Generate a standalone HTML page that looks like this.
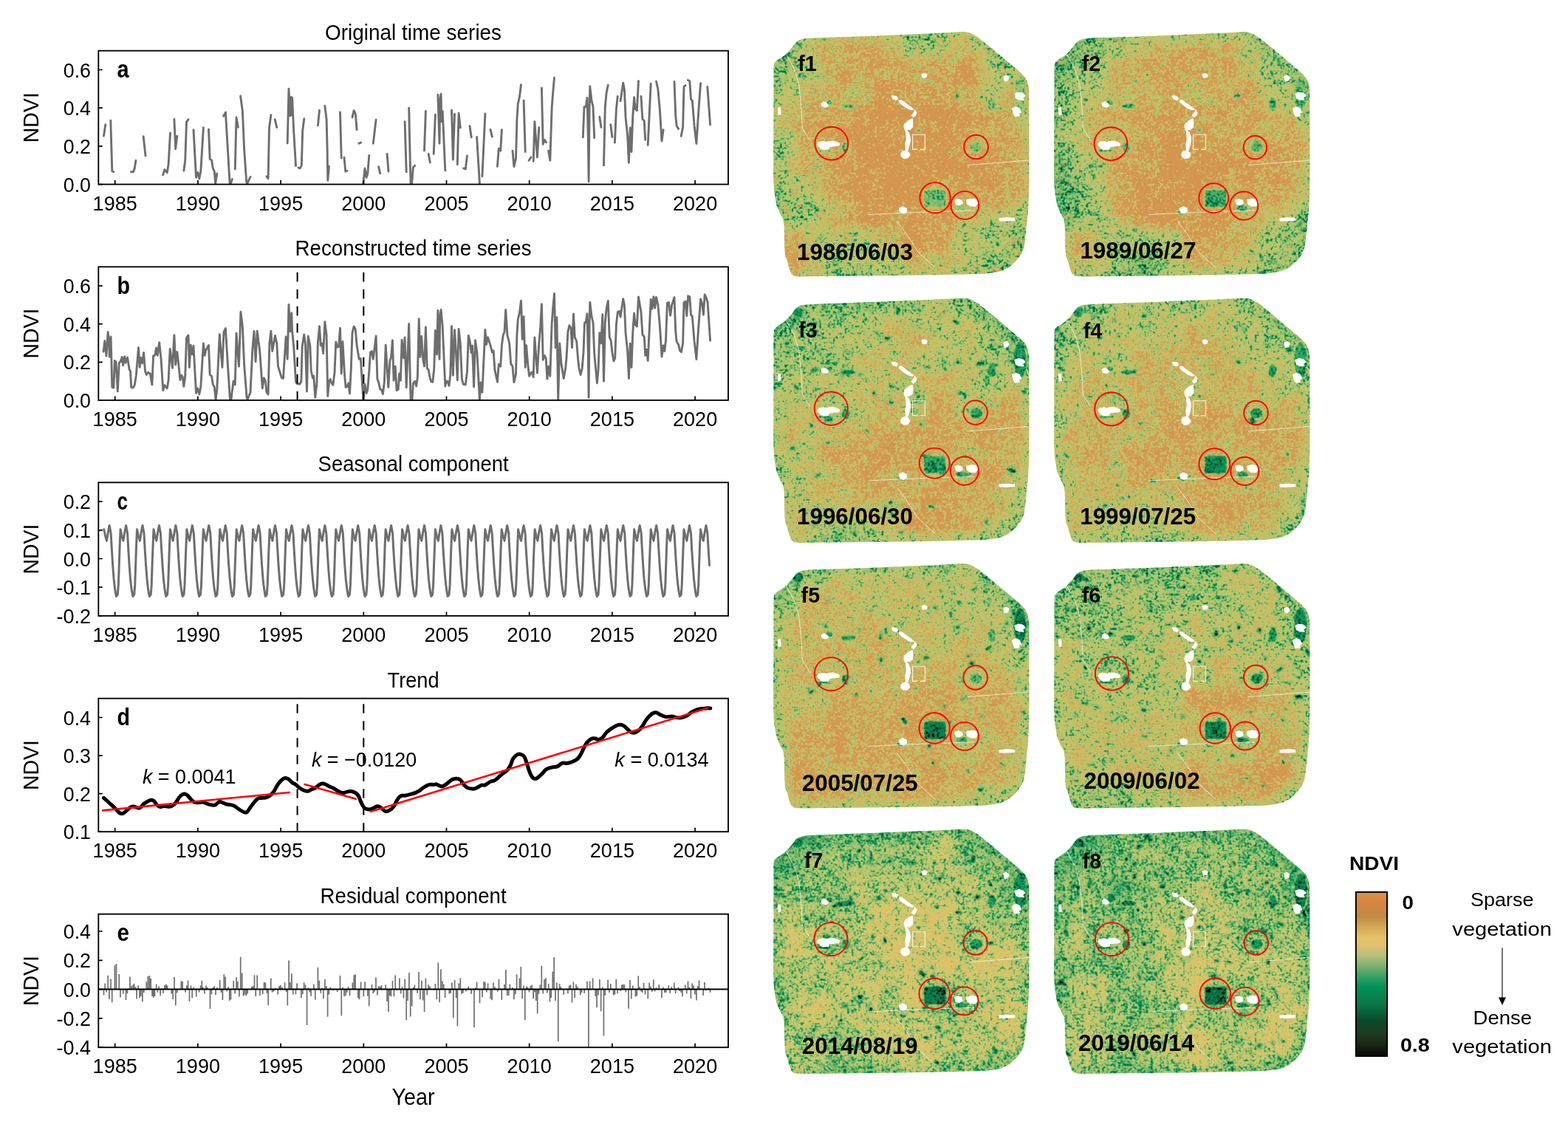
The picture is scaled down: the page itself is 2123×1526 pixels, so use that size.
<!DOCTYPE html>
<html lang="en"><head><meta charset="utf-8"><title>NDVI time series decomposition</title>
<style>html,body{margin:0;padding:0;background:#fff;overflow:hidden}svg{display:block}</style></head>
<body>
<svg xmlns="http://www.w3.org/2000/svg" width="2123" height="1526" viewBox="0 0 2123 1526" font-family="'Liberation Sans', sans-serif">
<rect width="2123" height="1526" fill="#fff"/>
<g>
<path d="M140.5 184.1L142.8 168.8M149.8 163.2L151.8 231.7L153.9 232.7M177.5 232.7L180.5 232.7L182.2 228.2L183.9 217.3M194.2 184.8L197 210.9M220.6 236.9L222.9 229.6L226.3 233.8L228.1 222.5L230.5 180.1M235.9 161.5L237.7 201.7L239.8 184.1M248.9 231L250.7 217.6L252.5 165.3L255 161.7M262 175.6L265.5 240.2L267.7 233.5L269.8 242L271.9 231L275.4 172.8M282.5 175.2L284.2 215.4L286.7 217.1L288.2 227.5L290.3 232.4L291.7 248.6L293.8 234.9M302.6 157.2L305.4 152.1L308.6 205.5L311.1 248.6L312.5 248.6L314.4 242.6M318.3 228.9L320 158.9L322.4 172.3M325.6 129.9L328.4 150.4L330.6 201.3L333.7 246.5L334.8 248.6L339 239.5M360.9 238.8L363.1 241.6L364.5 173L366.9 155.7M372.2 161.7L374.8 172.6M389.2 194L391 120.1L392.7 156.8L394.4 131.4L395.3 156.1L395.6 132.1L397.7 177.3L400.5 224.6M404 227L406.2 227.9L408.3 223.9L409.7 177.3L411.8 160.8M430.4 169.8L432.5 149.4M439.8 143.4L442.1 161.7L443.1 201.3L443.8 244.4L445.5 225.3M460.5 151.9L462.2 214M466 213.3L467.8 232.1L469.9 231.4M477 158.9L479.1 149.7L481.3 154L483.1 175.6M485.9 194.2L488.7 193.1M491.9 247.9L494 227.9L496.1 240.2L497.8 235.2L499.8 210.5M505.3 194.2L509.1 162.2M512.6 225.6L514.7 234.9M524.1 208.4L526 232.1M548.1 164.6L550.2 232.7M553.7 146.2L555.2 215.4L556.1 248.6L557.6 248.6L559.4 226.7L561.8 224.2M574.5 203.9L576.4 150.4M580.2 208.4L582.3 220M587.2 208.4L589.4 155.1M592.9 128.3L595 194.2L595.7 136.3L597.1 127.1L597.8 164.6L599.2 150.4L602.8 231M611.5 149.3L613.4 216.1L615.5 154.4M619.3 222.8L621.1 153.3L623.3 172.8M627.8 227.9L630.3 228.9L632.5 210.9M636 170.6L638.2 185.8M645.6 185.5L649.4 248.6M652.9 238.8L656.9 154M664 175.4L666.4 185.1M673.4 225.3L675.3 201.3L677.7 204.1L679.4 175.6M694 204.1L695.9 225.6L698.5 214.7L699.9 161.7L701.3 140.5L703.4 131.4L705.5 114.8M709.1 136.3L711.2 205.5M716.1 217.3L719 212.9M722.2 218.3L723.9 164.6L727.4 212.9L729.8 172.6M733.4 119.3L735.2 195.4L737.3 189.3L739.5 192.8M742.6 204.1L744.8 217.3L747.2 144.8L748.6 126.4L750.5 105.2M789.3 185.8L791 144.8L793.2 144.5L795 132.4L796.3 187.2L797.1 245.8L798.1 144.8L798.8 116.8L800.9 135.6L803 144.8L804.7 186.8M811.8 158.2L813.9 172.3M817.5 223.9L819.3 144.8L821.1 125.7L823.3 115.1M826.8 168.8L828.9 185.5M832.4 193.1L834.4 147.6L836.3 130.4M840.1 136.7L843.7 112.3L845.4 120.8L847.1 158.9L849.7 184.4L851.4 220.4L853.2 173L855 205.5L856.7 158.9L858.6 131.8L860.3 147.6L862.4 149.7L864.5 109.7M868 130.4L869.9 161L872.3 163.9L873.7 189.3M877.2 196.4L879.4 150.4L881.2 113.3M888.5 110.2L890.9 120.8L893.5 150.4L896 191L898.1 175.6M913 110.4L914.7 156.1L916.1 170.2L918.6 174.5M922.2 184.4L924.6 172.3L926 117.2L928.1 115.8M931.4 108.5L933.8 109.7L935.5 134.2L937.3 136.3L940.1 170.2L942.9 194.5L945.8 150.4L948.6 112.7M957.8 117.5L961.6 168.8" fill="none" stroke="#6e6e6e" stroke-width="2.9" stroke-linejoin="round" stroke-linecap="round"/>
<rect x="133.3" y="68.7" width="852.7" height="180.9" fill="none" stroke="#000" stroke-width="1.85"/>
<path d="M155.7 249.6v-5.5M267.9 249.6v-5.5M380.1 249.6v-5.5M492.3 249.6v-5.5M604.5 249.6v-5.5M716.7 249.6v-5.5M828.9 249.6v-5.5M941.1 249.6v-5.5M133.3 249.6h5.5M133.3 197.9h5.5M133.3 146.2h5.5M133.3 94.5h5.5" stroke="#000" stroke-width="1.7" fill="none"/>
<text x="155.7" y="284.8" font-size="28.4" text-anchor="middle" textLength="60.2" lengthAdjust="spacingAndGlyphs">1985</text>
<text x="267.9" y="284.8" font-size="28.4" text-anchor="middle" textLength="60.2" lengthAdjust="spacingAndGlyphs">1990</text>
<text x="380.1" y="284.8" font-size="28.4" text-anchor="middle" textLength="60.2" lengthAdjust="spacingAndGlyphs">1995</text>
<text x="492.3" y="284.8" font-size="28.4" text-anchor="middle" textLength="60.2" lengthAdjust="spacingAndGlyphs">2000</text>
<text x="604.5" y="284.8" font-size="28.4" text-anchor="middle" textLength="60.2" lengthAdjust="spacingAndGlyphs">2005</text>
<text x="716.7" y="284.8" font-size="28.4" text-anchor="middle" textLength="60.2" lengthAdjust="spacingAndGlyphs">2010</text>
<text x="828.9" y="284.8" font-size="28.4" text-anchor="middle" textLength="60.2" lengthAdjust="spacingAndGlyphs">2015</text>
<text x="941.1" y="284.8" font-size="28.4" text-anchor="middle" textLength="60.2" lengthAdjust="spacingAndGlyphs">2020</text>
<text x="123" y="259.6" font-size="28.4" text-anchor="end" textLength="37.2" lengthAdjust="spacingAndGlyphs">0.0</text>
<text x="123" y="207.9" font-size="28.4" text-anchor="end" textLength="37.2" lengthAdjust="spacingAndGlyphs">0.2</text>
<text x="123" y="156.2" font-size="28.4" text-anchor="end" textLength="37.2" lengthAdjust="spacingAndGlyphs">0.4</text>
<text x="123" y="104.5" font-size="28.4" text-anchor="end" textLength="37.2" lengthAdjust="spacingAndGlyphs">0.6</text>
<text x="158.5" y="105" font-size="33.5" font-weight="bold" textLength="16.1" lengthAdjust="spacingAndGlyphs">a</text>
<text x="559.6" y="53.7" font-size="30" text-anchor="middle" textLength="239" lengthAdjust="spacingAndGlyphs">Original time series</text>
<text x="52.3" y="159.2" font-size="29.9" text-anchor="middle" textLength="68" lengthAdjust="spacingAndGlyphs" transform="rotate(-90 52.3 159.2)">NDVI</text>
</g>
<g>
<path d="M140.1 476.1L141.9 461.5L143.3 476.4L144 482L146.1 449.5L147.6 462.2L148.3 483.4L150.1 455.9L151.8 524.4L153.9 525.1L155.3 488.4L157 489.8L159.3 529.8L161.3 491.2L163.1 489.8L165.2 483.4L166.6 494.7L168.8 482.7L170.2 491.2L172.6 484.1L175.1 500.4L176.5 502.1L177.7 524.4L180.1 525.1L182.2 521.6L184.3 508.9L187.5 470.7L189.2 497.3L190.7 484.1L192.8 491.9L194.6 477.5L196.6 502.9L198.4 507.4L200.5 504.3L203.4 506L205.9 520.9L207.6 481.7L209.7 481.3L211.6 471L213.3 481.3L215.7 463.6L218.2 487.7L220.8 528.6L222.9 521.6L226.3 525.8L228.1 514.5L230.2 472.4L233.5 498.3L235.9 453.7L237.7 494L239.8 476.4L241.8 493.3L243.9 514.5L245.8 508.1L247.2 510.3L248.9 523.3L250.7 509.6L252.5 457.3L255 454L256.4 497.5L258.2 467.2L259.9 479.9L262 468.2L265.5 532.2L267.7 525.8L269.8 534L271.9 523L275.4 465L277.1 481.3L279 473.5L282.5 467.6L284.2 507.4L286.7 509.6L288.2 520.2L290.3 524.4L292.1 541.4L293.8 527.2L297.3 452.6L300.9 497.5L303 449.5L305.4 444.6L308.6 497.5L311.5 541.4L312.9 541.4L316.1 515.9L318.3 520.9L320 451.2L323.5 496.1L325.9 422.2L328.4 442.4L330.6 493.3L334.1 538.5L335.1 540.6L339 531.7L341.9 472.1L344 448.4L346.1 489.8L348.2 448.1L351.7 474.9L355.3 525.8L357.4 511.7L359.5 516.6L360.9 531.2L363.1 534L364.9 465L366.9 448.1L368.7 475.6L372.5 454.4L374.8 465L376.5 496.1L381.4 511.7L383.5 512.4L387.1 455.9L389.2 486.2L391 412.5L392.7 448.8L394.8 423.8L395.6 448.1L397.7 469.3L400.5 516.6L402.1 519.5L405.7 520.2L407.8 516.6L409.2 469.3L411.7 453L413.4 465L415.5 530L417.2 455.2L419.8 467.2L421.2 501.8L423.3 511.7L424.7 508.9L426.8 538.2L429 518.7L430.4 463.6L432.5 441.7L434.3 467.9L436 465L437.7 478.5L439.8 435.7L442.1 453.7L443.8 536.4L445.5 516.6L447.3 513.5L448.8 518.7L450.9 521.3L453 504.6L454.8 462.9L456.5 470L458.6 469.3L460.5 444.1L462.2 506L464 462.5L466.4 505.3L468.1 524.4L470.4 523L471.8 518.7L473.5 532.9L475.3 499L477 450.9L479.1 442L481.3 446L483.1 467.6L486.2 486.2L488.3 485.5L490.4 518.7L491.9 540.6L494 520.2L496.1 532.6L497.8 527.5L499.8 502.5L501.5 477.1L503.4 475.6L505.3 486.2L509.1 454.9L510.9 513.1L512.6 517.6L514.7 526.9L516.6 527.9L518.4 533.6L520.4 517.3L522.2 467.2L525.8 524.4L527.9 488.4L529.6 483.4L531.4 460.8L533.1 515.2L535.2 496.1L537.1 528.6L539.2 527.2L540.6 506L542.4 515.2L544.1 460.1L546.3 484.8L548.1 456.9L550.2 524.7L553.7 438.5L555.2 507.4L556.1 541.1L558 541.1L559.4 518.7L561.8 516.2L563.6 523L565.3 511.7L567.2 431.6L568.9 483.4L570.7 455.2L572.7 486.2L574.5 495.9L576.4 442.9L578.3 499L580.2 500.7L582.3 512.4L583.7 516.6L585.8 517.3L587.7 500.4L589.4 447.4L591.5 479.9L592.9 420.5L595 486.2L595.7 428.3L597.1 419.4L599.2 442.4L602.8 523L604.5 515.9L606.3 516.6L608 522.3L609.8 507.4L611.5 441.7L613.4 508.1L615.5 446.7L617.6 479.2L619.3 514.8L621.1 445.5L623.3 465L625.4 513.1L627.2 520.2L630.3 520.9L632.5 502.9L634.3 454.4L636.3 462.9L638.2 477.8L639.5 467.9L641.6 523.7L643.5 460.8L645.9 477.8L649.4 541.1L650.8 518L652.9 531.2L656.9 446.4L658.6 466.5L660.4 456.6L664 467.4L666.4 477.1L668.1 474.9L669.9 500.4L673.4 517.3L675.3 493.3L677.7 496.1L679.4 467.9L681.2 453.7L683 449.5L684.7 419.4L686.9 453.7L689.7 465L691.7 492.6L694 496.1L695.9 517.6L698.5 506.7L699.9 453.7L701.3 432.5L703.4 423.4L705.5 407.1L707.2 459.4L709.1 428.6L711.2 497.5L712.6 467.6L714.7 493.3L716.6 509.3L719 504.9L720.4 503.9L722.2 510.5L723.9 456.9L727.4 504.9L729.8 465L731.7 442.4L733.4 411.6L735.2 487.4L737.3 481.3L739.2 485.1L740.9 513.1L742.6 496.1L744.8 509.3L747.2 436.8L748.6 418.4L750.5 397.5L752.2 470.7L753.9 429.7L755.7 541.1L757.8 465L759.9 491.9L763.2 512.4L765.6 499L767 484.8L768.9 449.5L770.8 440.7L773.1 444.6L774.5 470.7L776.5 425.1L778.3 456.9L780.7 462.2L782.6 486.2L784 499L786.1 507.4L788.2 499L790 477.1L791.5 436.8L793.2 436.5L795 424.8L796.3 479.2L797.1 538.2L798.1 436.8L798.8 409.2L800.9 427.6L803 436.8L804.7 478.8L808.4 518.7L810.1 500.4L811.8 450.6L813.9 464.8L815.8 425.8L817.5 516.2L819.3 436.8L821.1 417.7L823.3 407.4L825.2 456.6L827.1 460.8L828.9 477.5L830.9 488.8L832.7 485.1L834.4 439.6L836.3 422.7L838.4 421.2L840.1 429L843.7 404.6L845.4 412.8L847.1 450.9L849.7 476.4L851.4 512.4L853.2 465.3L855 497.5L856.7 450.9L858.6 424.1L860.3 439.9L862.4 442L864.5 401.9L868 422.7L869.9 453L872.3 456.1L873.7 481.3L875.4 473.2L877.2 488.4L879.4 442.4L881.2 405.4L882.9 418.4L885 401.7L886.7 417L888.5 402.4L890.9 412.8L893.5 442.4L896 483L898.1 467.9L899.8 475.6L901.5 460.8L903.4 410.2L905.5 409.2L907.6 427.2L909.7 412.8L913 402.6L914.7 448.1L916.1 462.2L918.6 466.5L920.6 474.9L922.5 476.6L924.6 464.6L926 409.5L928.1 408.1L929.8 427.6L931.6 400.8L933.8 401.9L935.5 426.2L937.3 428.3L940.1 462.2L942.9 486.5L945.8 442.4L948.6 405L950.7 411.3L952.4 426.2L954.2 398.9L956.4 403.6L958.1 409.5L961.6 461.1" fill="none" stroke="#6e6e6e" stroke-width="2.9" stroke-linejoin="round" stroke-linecap="round"/><path d="M402.6 368.8V541.9" stroke="#000" stroke-width="2" stroke-dasharray="12.6 10.4" fill="none"/><path d="M492.3 368.8V541.9" stroke="#000" stroke-width="2" stroke-dasharray="12.6 10.4" fill="none"/>
<rect x="133.3" y="361.3" width="852.7" height="180.6" fill="none" stroke="#000" stroke-width="1.85"/>
<path d="M155.7 541.9v-5.5M267.9 541.9v-5.5M380.1 541.9v-5.5M492.3 541.9v-5.5M604.5 541.9v-5.5M716.7 541.9v-5.5M828.9 541.9v-5.5M941.1 541.9v-5.5M133.3 541.9h5.5M133.3 490.3h5.5M133.3 438.7h5.5M133.3 387.1h5.5" stroke="#000" stroke-width="1.7" fill="none"/>
<text x="155.7" y="577.1" font-size="28.4" text-anchor="middle" textLength="60.2" lengthAdjust="spacingAndGlyphs">1985</text>
<text x="267.9" y="577.1" font-size="28.4" text-anchor="middle" textLength="60.2" lengthAdjust="spacingAndGlyphs">1990</text>
<text x="380.1" y="577.1" font-size="28.4" text-anchor="middle" textLength="60.2" lengthAdjust="spacingAndGlyphs">1995</text>
<text x="492.3" y="577.1" font-size="28.4" text-anchor="middle" textLength="60.2" lengthAdjust="spacingAndGlyphs">2000</text>
<text x="604.5" y="577.1" font-size="28.4" text-anchor="middle" textLength="60.2" lengthAdjust="spacingAndGlyphs">2005</text>
<text x="716.7" y="577.1" font-size="28.4" text-anchor="middle" textLength="60.2" lengthAdjust="spacingAndGlyphs">2010</text>
<text x="828.9" y="577.1" font-size="28.4" text-anchor="middle" textLength="60.2" lengthAdjust="spacingAndGlyphs">2015</text>
<text x="941.1" y="577.1" font-size="28.4" text-anchor="middle" textLength="60.2" lengthAdjust="spacingAndGlyphs">2020</text>
<text x="123" y="551.9" font-size="28.4" text-anchor="end" textLength="37.2" lengthAdjust="spacingAndGlyphs">0.0</text>
<text x="123" y="500.3" font-size="28.4" text-anchor="end" textLength="37.2" lengthAdjust="spacingAndGlyphs">0.2</text>
<text x="123" y="448.7" font-size="28.4" text-anchor="end" textLength="37.2" lengthAdjust="spacingAndGlyphs">0.4</text>
<text x="123" y="397.1" font-size="28.4" text-anchor="end" textLength="37.2" lengthAdjust="spacingAndGlyphs">0.6</text>
<text x="158.5" y="397.6" font-size="33.5" font-weight="bold" textLength="17.5" lengthAdjust="spacingAndGlyphs">b</text>
<text x="559.6" y="346.3" font-size="30" text-anchor="middle" textLength="320" lengthAdjust="spacingAndGlyphs">Reconstructed time series</text>
<text x="52.3" y="451.6" font-size="29.9" text-anchor="middle" textLength="68" lengthAdjust="spacingAndGlyphs" transform="rotate(-90 52.3 451.6)">NDVI</text>
</g>
<g>
<path d="M140.7 716.8L142.5 725.3L144.5 732.3L146.3 721L148.1 711.4L150.1 722L151.3 742.9L152.7 765.5L154.1 783.9L155.5 796.6L156.6 803.7L157.4 807.5L159.3 805.1L160.3 792.4L161.3 764.1L162.1 740.1L163.1 716.8L164.9 725.3L166.9 732.3L168.8 721L170.6 711.4L172.6 722L173.7 742.9L175.1 765.5L176.5 783.9L177.9 796.6L179.1 803.7L179.9 807.5L181.7 805.1L182.7 792.4L183.7 764.1L184.5 740.1L185.5 716.8L187.4 725.3L189.4 732.3L191.2 721L193 711.4L195 722L196.1 742.9L197.6 765.5L199 783.9L200.4 796.6L201.5 803.7L202.3 807.5L204.2 805.1L205.2 792.4L206.1 764.1L207 740.1L208 716.8L209.8 725.3L211.8 732.3L213.6 721L215.5 711.4L217.4 722L218.6 742.9L220 765.5L221.4 783.9L222.8 796.6L223.9 803.7L224.8 807.5L226.6 805.1L227.6 792.4L228.6 764.1L229.4 740.1L230.4 716.8L232.3 725.3L234.2 732.3L236.1 721L237.9 711.4L239.9 722L241 742.9L242.4 765.5L243.8 783.9L245.3 796.6L246.4 803.7L247.2 807.5L249 805.1L250 792.4L251 764.1L251.9 740.1L252.9 716.8L254.7 725.3L256.7 732.3L258.5 721L260.3 711.4L262.3 722L263.5 742.9L264.9 765.5L266.3 783.9L267.7 796.6L268.8 803.7L269.6 807.5L271.5 805.1L272.5 792.4L273.5 764.1L274.3 740.1L275.3 716.8L277.1 725.3L279.1 732.3L280.9 721L282.8 711.4L284.8 722L285.9 742.9L287.3 765.5L288.7 783.9L290.1 796.6L291.3 803.7L292.1 807.5L293.9 805.1L294.9 792.4L295.9 764.1L296.7 740.1L297.7 716.8L299.6 725.3L301.6 732.3L303.4 721L305.2 711.4L307.2 722L308.3 742.9L309.7 765.5L311.2 783.9L312.6 796.6L313.7 803.7L314.5 807.5L316.4 805.1L317.3 792.4L318.3 764.1L319.2 740.1L320.2 716.8L322 725.3L324 732.3L325.8 721L327.7 711.4L329.6 722L330.8 742.9L332.2 765.5L333.6 783.9L335 796.6L336.1 803.7L337 807.5L338.8 805.1L339.8 792.4L340.8 764.1L341.6 740.1L342.6 716.8L344.5 725.3L346.4 732.3L348.3 721L350.1 711.4L352.1 722L353.2 742.9L354.6 765.5L356 783.9L357.5 796.6L358.6 803.7L359.4 807.5L361.2 805.1L362.2 792.4L363.2 764.1L364.1 740.1L365.1 716.8L366.9 725.3L368.9 732.3L370.7 721L372.5 711.4L374.5 722L375.7 742.9L377.1 765.5L378.5 783.9L379.9 796.6L381 803.7L381.8 807.5L383.7 805.1L384.7 792.4L385.7 764.1L386.5 740.1L387.5 716.8L389.3 725.3L391.3 732.3L393.1 721L395 711.4L397 722L398.1 742.9L399.5 765.5L400.9 783.9L402.3 796.6L403.5 803.7L404.3 807.5L406.1 805.1L407.1 792.4L408.1 764.1L408.9 740.1L409.9 716.8L411.8 725.3L413.7 732.3L415.6 721L417.4 711.4L419.4 722L420.5 742.9L421.9 765.5L423.4 783.9L424.8 796.6L425.9 803.7L426.7 807.5L428.6 805.1L429.5 792.4L430.5 764.1L431.4 740.1L432.4 716.8L434.2 725.3L436.2 732.3L438 721L439.9 711.4L441.8 722L443 742.9L444.4 765.5L445.8 783.9L447.2 796.6L448.3 803.7L449.2 807.5L451 805.1L452 792.4L453 764.1L453.8 740.1L454.8 716.8L456.6 725.3L458.6 732.3L460.5 721L462.3 711.4L464.3 722L465.4 742.9L466.8 765.5L468.2 783.9L469.7 796.6L470.8 803.7L471.6 807.5L473.4 805.1L474.4 792.4L475.4 764.1L476.3 740.1L477.3 716.8L479.1 725.3L481.1 732.3L482.9 721L484.7 711.4L486.7 722L487.9 742.9L489.3 765.5L490.7 783.9L492.1 796.6L493.2 803.7L494 807.5L495.9 805.1L496.9 792.4L497.9 764.1L498.7 740.1L499.7 716.8L501.5 725.3L503.5 732.3L505.3 721L507.2 711.4L509.2 722L510.3 742.9L511.7 765.5L513.1 783.9L514.5 796.6L515.7 803.7L516.5 807.5L518.3 805.1L519.3 792.4L520.3 764.1L521.1 740.1L522.1 716.8L524 725.3L525.9 732.3L527.8 721L529.6 711.4L531.6 722L532.7 742.9L534.1 765.5L535.6 783.9L537 796.6L538.1 803.7L538.9 807.5L540.8 805.1L541.7 792.4L542.7 764.1L543.6 740.1L544.6 716.8L546.4 725.3L548.4 732.3L550.2 721L552.1 711.4L554 722L555.2 742.9L556.6 765.5L558 783.9L559.4 796.6L560.5 803.7L561.4 807.5L563.2 805.1L564.2 792.4L565.2 764.1L566 740.1L567 716.8L568.8 725.3L570.8 732.3L572.7 721L574.5 711.4L576.5 722L577.6 742.9L579 765.5L580.4 783.9L581.8 796.6L583 803.7L583.8 807.5L585.6 805.1L586.6 792.4L587.6 764.1L588.5 740.1L589.4 716.8L591.3 725.3L593.3 732.3L595.1 721L596.9 711.4L598.9 722L600 742.9L601.5 765.5L602.9 783.9L604.3 796.6L605.4 803.7L606.2 807.5L608.1 805.1L609.1 792.4L610.1 764.1L610.9 740.1L611.9 716.8L613.7 725.3L615.7 732.3L617.5 721L619.4 711.4L621.4 722L622.5 742.9L623.9 765.5L625.3 783.9L626.7 796.6L627.9 803.7L628.7 807.5L630.5 805.1L631.5 792.4L632.5 764.1L633.3 740.1L634.3 716.8L636.2 725.3L638.1 732.3L640 721L641.8 711.4L643.8 722L644.9 742.9L646.3 765.5L647.8 783.9L649.2 796.6L650.3 803.7L651.1 807.5L653 805.1L653.9 792.4L654.9 764.1L655.8 740.1L656.8 716.8L658.6 725.3L660.6 732.3L662.4 721L664.3 711.4L666.2 722L667.4 742.9L668.8 765.5L670.2 783.9L671.6 796.6L672.7 803.7L673.6 807.5L675.4 805.1L676.4 792.4L677.4 764.1L678.2 740.1L679.2 716.8L681 725.3L683 732.3L684.9 721L686.7 711.4L688.7 722L689.8 742.9L691.2 765.5L692.6 783.9L694 796.6L695.2 803.7L696 807.5L697.8 805.1L698.8 792.4L699.8 764.1L700.7 740.1L701.6 716.8L703.5 725.3L705.5 732.3L707.3 721L709.1 711.4L711.1 722L712.2 742.9L713.7 765.5L715.1 783.9L716.5 796.6L717.6 803.7L718.4 807.5L720.3 805.1L721.3 792.4L722.2 764.1L723.1 740.1L724.1 716.8L725.9 725.3L727.9 732.3L729.7 721L731.6 711.4L733.6 722L734.7 742.9L736.1 765.5L737.5 783.9L738.9 796.6L740.1 803.7L740.9 807.5L742.7 805.1L743.7 792.4L744.7 764.1L745.5 740.1L746.5 716.8L748.4 725.3L750.3 732.3L752.2 721L754 711.4L756 722L757.1 742.9L758.5 765.5L760 783.9L761.4 796.6L762.5 803.7L763.3 807.5L765.1 805.1L766.1 792.4L767.1 764.1L768 740.1L769 716.8L770.8 725.3L772.8 732.3L774.6 721L776.5 711.4L778.4 722L779.6 742.9L781 765.5L782.4 783.9L783.8 796.6L784.9 803.7L785.8 807.5L787.6 805.1L788.6 792.4L789.6 764.1L790.4 740.1L791.4 716.8L793.2 725.3L795.2 732.3L797.1 721L798.9 711.4L800.9 722L802 742.9L803.4 765.5L804.8 783.9L806.2 796.6L807.4 803.7L808.2 807.5L810 805.1L811 792.4L812 764.1L812.9 740.1L813.8 716.8L815.7 725.3L817.7 732.3L819.5 721L821.3 711.4L823.3 722L824.4 742.9L825.9 765.5L827.3 783.9L828.7 796.6L829.8 803.7L830.6 807.5L832.5 805.1L833.5 792.4L834.4 764.1L835.3 740.1L836.3 716.8L838.1 725.3L840.1 732.3L841.9 721L843.8 711.4L845.8 722L846.9 742.9L848.3 765.5L849.7 783.9L851.1 796.6L852.3 803.7L853.1 807.5L854.9 805.1L855.9 792.4L856.9 764.1L857.7 740.1L858.7 716.8L860.6 725.3L862.5 732.3L864.4 721L866.2 711.4L868.2 722L869.3 742.9L870.7 765.5L872.1 783.9L873.6 796.6L874.7 803.7L875.5 807.5L877.3 805.1L878.3 792.4L879.3 764.1L880.2 740.1L881.2 716.8L883 725.3L885 732.3L886.8 721L888.7 711.4L890.6 722L891.8 742.9L893.2 765.5L894.6 783.9L896 796.6L897.1 803.7L897.9 807.5L899.8 805.1L900.8 792.4L901.8 764.1L902.6 740.1L903.6 716.8L905.4 725.3L907.4 732.3L909.3 721L911.1 711.4L913.1 722L914.2 742.9L915.6 765.5L917 783.9L918.4 796.6L919.6 803.7L920.4 807.5L922.2 805.1L923.2 792.4L924.2 764.1L925.1 740.1L926 716.8L927.9 725.3L929.9 732.3L931.7 721L933.5 711.4L935.5 722L936.6 742.9L938.1 765.5L939.5 783.9L940.9 796.6L942 803.7L942.8 807.5L944.7 805.1L945.7 792.4L946.6 764.1L947.5 740.1L948.5 716.8L950.3 725.3L952.3 732.3L954.1 721L956 711.4L957.9 722L959.1 742.9L960.5 765.5" fill="none" stroke="#6e6e6e" stroke-width="3" stroke-linejoin="round" stroke-linecap="round"/>
<rect x="133.3" y="653.3" width="852.7" height="180.6" fill="none" stroke="#000" stroke-width="1.85"/>
<path d="M155.7 833.9v-5.5M267.9 833.9v-5.5M380.1 833.9v-5.5M492.3 833.9v-5.5M604.5 833.9v-5.5M716.7 833.9v-5.5M828.9 833.9v-5.5M941.1 833.9v-5.5M133.3 833.9h5.5M133.3 795.2h5.5M133.3 756.5h5.5M133.3 717.8h5.5M133.3 679.1h5.5" stroke="#000" stroke-width="1.7" fill="none"/>
<text x="155.7" y="869.1" font-size="28.4" text-anchor="middle" textLength="60.2" lengthAdjust="spacingAndGlyphs">1985</text>
<text x="267.9" y="869.1" font-size="28.4" text-anchor="middle" textLength="60.2" lengthAdjust="spacingAndGlyphs">1990</text>
<text x="380.1" y="869.1" font-size="28.4" text-anchor="middle" textLength="60.2" lengthAdjust="spacingAndGlyphs">1995</text>
<text x="492.3" y="869.1" font-size="28.4" text-anchor="middle" textLength="60.2" lengthAdjust="spacingAndGlyphs">2000</text>
<text x="604.5" y="869.1" font-size="28.4" text-anchor="middle" textLength="60.2" lengthAdjust="spacingAndGlyphs">2005</text>
<text x="716.7" y="869.1" font-size="28.4" text-anchor="middle" textLength="60.2" lengthAdjust="spacingAndGlyphs">2010</text>
<text x="828.9" y="869.1" font-size="28.4" text-anchor="middle" textLength="60.2" lengthAdjust="spacingAndGlyphs">2015</text>
<text x="941.1" y="869.1" font-size="28.4" text-anchor="middle" textLength="60.2" lengthAdjust="spacingAndGlyphs">2020</text>
<text x="123" y="843.9" font-size="28.4" text-anchor="end" textLength="46.5" lengthAdjust="spacingAndGlyphs">-0.2</text>
<text x="123" y="805.2" font-size="28.4" text-anchor="end" textLength="46.5" lengthAdjust="spacingAndGlyphs">-0.1</text>
<text x="123" y="766.5" font-size="28.4" text-anchor="end" textLength="37.2" lengthAdjust="spacingAndGlyphs">0.0</text>
<text x="123" y="727.8" font-size="28.4" text-anchor="end" textLength="37.2" lengthAdjust="spacingAndGlyphs">0.1</text>
<text x="123" y="689.1" font-size="28.4" text-anchor="end" textLength="37.2" lengthAdjust="spacingAndGlyphs">0.2</text>
<text x="158.5" y="689.6" font-size="33.5" font-weight="bold" textLength="14.5" lengthAdjust="spacingAndGlyphs">c</text>
<text x="559.6" y="638.3" font-size="30" text-anchor="middle" textLength="258" lengthAdjust="spacingAndGlyphs">Seasonal component</text>
<text x="52.3" y="743.6" font-size="29.9" text-anchor="middle" textLength="68" lengthAdjust="spacingAndGlyphs" transform="rotate(-90 52.3 743.6)">NDVI</text>
</g>
<g>
<path d="M402.6 953.2V1126.2" stroke="#000" stroke-width="2" stroke-dasharray="12.6 10.4" fill="none"/><path d="M492.3 953.2V1126.2" stroke="#000" stroke-width="2" stroke-dasharray="12.6 10.4" fill="none"/><path d="M140.5 1080.4C141.8 1081.6 145.8 1085.2 148.3 1087.5C150.8 1089.7 153.3 1091.7 155.4 1093.9C157.5 1096 159.6 1098.9 161.1 1100.2C162.5 1101.5 162.9 1101.5 163.9 1101.6C164.8 1101.8 165.3 1102.2 166.7 1101.4C168.1 1100.5 170.7 1098.1 172.4 1096.7C174 1095.3 175.2 1093.9 176.6 1093.1C178 1092.4 179.5 1092 180.9 1092C182.3 1092.1 183.7 1093.1 185.1 1093.4C186.5 1093.7 187.7 1094.7 189.4 1093.9C191 1093 193.1 1089.7 195 1088.2C196.9 1086.7 199 1085.5 200.7 1084.7C202.4 1083.8 203.6 1083.2 204.9 1083.2C206.2 1083.2 207.3 1083.6 208.5 1084.7C209.7 1085.7 210.7 1088.3 212 1089.6C213.3 1090.9 214.6 1092.1 216.3 1092.4C217.9 1092.7 220 1091.5 221.9 1091.5C223.8 1091.4 225.9 1092.1 227.6 1092.2C229.2 1092.2 230.2 1092.5 231.8 1091.7C233.5 1091 235.6 1089.6 237.5 1087.5C239.4 1085.4 241.5 1081 243.2 1079C244.8 1077 246.2 1076.1 247.4 1075.5C248.6 1074.8 249.2 1074.8 250.3 1075C251.3 1075.3 252.4 1075.6 253.8 1076.9C255.2 1078.1 257.2 1081 258.7 1082.5C260.3 1084.1 261.6 1085.4 263 1086.1C264.4 1086.8 265.6 1086.8 267.2 1086.8C268.9 1086.8 271.3 1086.1 272.9 1086.1C274.6 1086.1 275.5 1086.3 277.1 1086.8C278.8 1087.3 280.9 1088.6 282.8 1089.2C284.7 1089.8 286.9 1090.2 288.5 1090.3C290 1090.4 290.6 1090.4 292 1089.6C293.4 1088.8 295.7 1086 297 1085.4C298.3 1084.8 298.4 1085.5 299.8 1086.1C301.2 1086.6 303.6 1088 305.5 1088.6C307.4 1089.2 309.2 1089.2 311.1 1089.6C313 1090 314.7 1090 316.8 1091C318.9 1092.1 321.5 1094.5 323.9 1096C326.2 1097.5 329.2 1099.4 330.9 1099.9C332.7 1100.5 333.3 1100.4 334.5 1099.5C335.7 1098.6 336.5 1096.7 338 1094.6C339.6 1092.4 341.8 1089 343.7 1086.8C345.6 1084.5 347.5 1082.2 349.4 1081.1C351.2 1080.1 353.4 1080.6 355 1080.4C356.7 1080.2 357.6 1080.6 359.3 1080.1C360.9 1079.7 363 1078.9 364.9 1077.6C366.8 1076.2 368.7 1074.5 370.6 1071.9C372.5 1069.3 374.4 1064.7 376.3 1062C378.1 1059.3 380.3 1057 381.9 1055.6C383.6 1054.2 384.7 1053.6 386.2 1053.5C387.6 1053.4 388.8 1053.9 390.4 1054.9C392.1 1056 394.5 1058.7 396.1 1059.9C397.7 1061.1 398.4 1060.8 400 1062C401.6 1063.2 403.8 1065.6 405.7 1067C407.6 1068.3 409.4 1069.5 411.3 1070.2C413.2 1070.9 415.3 1071.4 417 1071.2C418.6 1071 419.6 1069.8 421.2 1069.1C422.9 1068.4 425 1068.1 426.9 1067C428.8 1065.8 430.9 1063.4 432.6 1062.4C434.2 1061.4 435.5 1061.1 436.8 1061C438.1 1060.9 438.9 1061.1 440.3 1061.7C441.8 1062.3 443.5 1063.7 445.3 1064.6C447.1 1065.4 449.1 1066 451 1067C452.9 1067.9 454.7 1069.4 456.6 1070.5C458.5 1071.6 460.6 1072.9 462.3 1073.3C463.9 1073.8 465.1 1073.6 466.5 1073.3C468 1073.1 469.4 1072.2 470.8 1071.9C472.2 1071.6 473.6 1071.5 475 1071.6C476.5 1071.7 478 1072.1 479.3 1072.6C480.6 1073.1 481.8 1073.8 482.8 1074.7C483.9 1075.7 484.7 1076.5 485.7 1078.3C486.6 1080.1 487.5 1083.2 488.5 1085.4C489.4 1087.5 490.4 1089.5 491.3 1091C492.3 1092.6 493.1 1093.8 494.1 1094.6C495.2 1095.3 496.4 1095.5 497.7 1095.7C499 1095.9 500.5 1096 501.9 1095.7C503.4 1095.4 504.8 1094.5 506.2 1093.9C507.6 1093.2 509.1 1092 510.4 1091.7C511.7 1091.5 512.8 1091.9 514 1092.4C515.1 1093 516.2 1094.3 517.5 1095.3C518.8 1096.3 520.5 1098.1 521.8 1098.5C523.1 1099 524 1098.6 525.3 1098.1C526.6 1097.6 528.1 1096.9 529.5 1095.7C531 1094.5 532.5 1093 533.8 1091C535.1 1089.1 536.1 1086 537.3 1083.9C538.5 1081.9 539.7 1080.1 540.9 1079C542 1077.9 543.1 1077.6 544.4 1077.3C545.7 1077 547 1077.5 548.7 1077.3C550.3 1077.1 552 1076.5 554.3 1075.9C556.7 1075.2 560.7 1074.1 562.8 1073.3C564.9 1072.6 565.4 1072.3 567.1 1071.2C568.7 1070.1 570.8 1068.3 572.7 1067C574.6 1065.7 576.7 1064.2 578.4 1063.4C580 1062.6 581.2 1062.5 582.6 1062.3C584 1062.1 585.5 1062.5 586.9 1062.4C588.3 1062.4 589.7 1061.7 591.1 1062C592.5 1062.3 594 1063.7 595.4 1064.1C596.8 1064.6 598.2 1064.9 599.6 1064.6C601 1064.2 602.2 1063.2 603.9 1062C605.5 1060.8 607.9 1058.7 609.5 1057.5C611.2 1056.3 612.4 1055.5 613.8 1054.9C615.2 1054.4 616.6 1054.1 618 1054.2C619.4 1054.3 621 1054.5 622.3 1055.3C623.6 1056.2 624.6 1057.7 625.8 1059.2C627 1060.6 628.1 1062.8 629.4 1064.1C630.7 1065.4 631.9 1066.3 633.6 1067C635.3 1067.6 637.6 1068 639.3 1068.1C640.9 1068.2 642.1 1068.1 643.5 1067.7C644.9 1067.2 646.3 1066.3 647.8 1065.5C649.2 1064.8 650.6 1063.5 652 1063.1C653.4 1062.7 654.8 1063.6 656.3 1063.1C657.7 1062.7 659.1 1061.4 660.5 1060.6C661.9 1059.7 663.3 1058.6 664.7 1058C666.2 1057.4 667.6 1057.7 669 1057C670.4 1056.4 671.8 1055.4 673.2 1054.2C674.7 1053 675.8 1051.4 677.5 1050C679.1 1048.6 681.5 1047 683.2 1045.7C684.8 1044.4 686 1044 687.4 1042.2C688.8 1040.4 690.6 1037.5 691.7 1035.1C692.8 1032.7 693.1 1030 694.2 1028C695.4 1026 697.2 1024.2 698.5 1023.1C699.8 1021.9 700.9 1021.5 702 1021.2C703.2 1021 704.3 1021.1 705.6 1021.7C706.9 1022.2 708.5 1022.5 709.8 1024.5C711.1 1026.5 712.2 1030.3 713.4 1033.7C714.5 1037.1 715.7 1041.9 716.9 1045C718.1 1048.1 719.3 1050.5 720.4 1052.1C721.6 1053.7 722.7 1054.5 724 1054.6C725.3 1054.8 726.6 1053.9 728.2 1052.8C729.9 1051.7 732.1 1049.6 733.9 1047.8C735.7 1046.1 737 1043.6 738.8 1042.2C740.7 1040.8 743.4 1040.2 745.2 1039.6C747 1039 747.9 1038.9 749.5 1038.6C751 1038.4 752.8 1038.6 754.4 1037.9C756.1 1037.2 758.1 1035.2 759.4 1034.4C760.7 1033.6 760.8 1033.1 762.2 1033C763.6 1032.8 766 1033.6 767.9 1033.4C769.8 1033.2 771.6 1032.6 773.5 1032C775.4 1031.3 777.5 1030.5 779.2 1029.4C780.8 1028.4 782 1027.7 783.4 1025.9C784.9 1024.1 786.4 1021.3 787.7 1018.8C789 1016.3 790 1013.3 791.2 1011C792.4 1008.8 793.5 1007 794.8 1005.4C796.1 1003.8 797.7 1002.4 799 1001.4C800.3 1000.5 801.4 999.9 802.6 999.7C803.7 999.5 804.8 999.7 806.1 1000C807.4 1000.3 808.9 1001.5 810.3 1001.4C811.8 1001.4 813.4 1000.5 814.6 999.7C815.8 999 816.4 998.2 817.4 996.9C818.5 995.6 819.5 993.5 821 991.9C822.4 990.4 824.1 989 825.9 987.7C827.7 986.4 829.9 985.1 831.6 984.1C833.2 983.2 834.4 982.5 835.8 982C837.2 981.5 838.7 981.2 840.1 981.3C841.5 981.4 842.9 981.9 844.3 982.7C845.7 983.5 847.1 985 848.6 986.3C850 987.6 851.4 989.5 852.8 990.5C854.2 991.5 855.6 992.2 857.1 992.3C858.5 992.5 859.8 992 861.3 991.2C862.8 990.4 864.7 989.2 866.3 987.7C867.8 986.1 869.1 984.1 870.5 982C871.9 979.9 873.2 977.1 874.8 974.9C876.3 972.8 878.2 970.8 879.7 969.3C881.2 967.7 882.5 966.5 884 965.7C885.4 965 886.8 964.6 888.2 964.7C889.6 964.9 890.9 966.1 892.5 966.9C894 967.6 895.8 968.6 897.4 969.3C899.1 969.9 900.4 970.6 902.4 970.7C904.4 970.8 907.3 969.9 909.4 970C911.6 970.1 913.3 971 915.1 971.4C916.9 971.7 918.4 972.1 920.1 972.1C921.7 972.1 923.2 971.7 925 971.1C926.8 970.5 928.8 969.7 930.7 968.6C932.6 967.4 934.5 965.5 936.3 964.3C938.2 963.1 939.9 962.2 942 961.5C944.1 960.7 946.7 960.2 949.1 959.8C951.4 959.4 954 959.1 956.2 958.9C958.3 958.8 960.9 958.9 961.8 958.9" fill="none" stroke="#000" stroke-width="5" stroke-linejoin="round" stroke-linecap="round"/><path d="M139.1 1097.4L391.8 1073M412.5 1062L481.8 1081.8M502.2 1098.8L958.3 958.7" fill="none" stroke="#ff0000" stroke-width="2.6" stroke-linecap="round"/>
<rect x="133.3" y="945.7" width="852.7" height="180.5" fill="none" stroke="#000" stroke-width="1.85"/>
<path d="M155.7 1126.2v-5.5M267.9 1126.2v-5.5M380.1 1126.2v-5.5M492.3 1126.2v-5.5M604.5 1126.2v-5.5M716.7 1126.2v-5.5M828.9 1126.2v-5.5M941.1 1126.2v-5.5M133.3 1126.2h5.5M133.3 1074.6h5.5M133.3 1023.1h5.5M133.3 971.5h5.5" stroke="#000" stroke-width="1.7" fill="none"/>
<text x="155.7" y="1161.4" font-size="28.4" text-anchor="middle" textLength="60.2" lengthAdjust="spacingAndGlyphs">1985</text>
<text x="267.9" y="1161.4" font-size="28.4" text-anchor="middle" textLength="60.2" lengthAdjust="spacingAndGlyphs">1990</text>
<text x="380.1" y="1161.4" font-size="28.4" text-anchor="middle" textLength="60.2" lengthAdjust="spacingAndGlyphs">1995</text>
<text x="492.3" y="1161.4" font-size="28.4" text-anchor="middle" textLength="60.2" lengthAdjust="spacingAndGlyphs">2000</text>
<text x="604.5" y="1161.4" font-size="28.4" text-anchor="middle" textLength="60.2" lengthAdjust="spacingAndGlyphs">2005</text>
<text x="716.7" y="1161.4" font-size="28.4" text-anchor="middle" textLength="60.2" lengthAdjust="spacingAndGlyphs">2010</text>
<text x="828.9" y="1161.4" font-size="28.4" text-anchor="middle" textLength="60.2" lengthAdjust="spacingAndGlyphs">2015</text>
<text x="941.1" y="1161.4" font-size="28.4" text-anchor="middle" textLength="60.2" lengthAdjust="spacingAndGlyphs">2020</text>
<text x="123" y="1136.2" font-size="28.4" text-anchor="end" textLength="37.2" lengthAdjust="spacingAndGlyphs">0.1</text>
<text x="123" y="1084.6" font-size="28.4" text-anchor="end" textLength="37.2" lengthAdjust="spacingAndGlyphs">0.2</text>
<text x="123" y="1033.1" font-size="28.4" text-anchor="end" textLength="37.2" lengthAdjust="spacingAndGlyphs">0.3</text>
<text x="123" y="981.5" font-size="28.4" text-anchor="end" textLength="37.2" lengthAdjust="spacingAndGlyphs">0.4</text>
<text x="158.5" y="982" font-size="33.5" font-weight="bold" textLength="17.5" lengthAdjust="spacingAndGlyphs">d</text>
<text x="559.6" y="930.7" font-size="30" text-anchor="middle" textLength="70" lengthAdjust="spacingAndGlyphs">Trend</text>
<text x="52.3" y="1036" font-size="29.9" text-anchor="middle" textLength="68" lengthAdjust="spacingAndGlyphs" transform="rotate(-90 52.3 1036)">NDVI</text>
</g>
<g>
<path d="M142.2 1339.6V1331.4M146.2 1339.6V1320.7M150 1339.6V1325.7M155.4 1339.6V1307.3M157.5 1339.6V1304.9M161.2 1339.6V1319M175.9 1339.6V1322.6M178 1339.6V1334.9M180.2 1339.6V1333.5M181.6 1339.6V1332.1M183.7 1339.6V1336.3M187.2 1339.6V1334.2M198.3 1339.6V1329.2M200.4 1339.6V1321.7M202.4 1339.6V1321M204.2 1339.6V1325M211.7 1339.6V1332.5M215.1 1339.6V1335.6M219.1 1339.6V1338.4M222.9 1339.6V1333.9M224.8 1339.6V1332.8M226.5 1339.6V1334.5M236 1339.6V1322.9M245.3 1339.6V1328.5M247.1 1339.6V1328.8M252.8 1339.6V1334.2M254.6 1339.6V1327.5M258.5 1339.6V1334.6M262 1339.6V1336.7M271.5 1339.6V1334.5M273.3 1339.6V1327.8M275 1339.6V1336.7M279 1339.6V1334.5M280.7 1339.6V1337M288.5 1339.6V1337M290.3 1339.6V1335.2M293.9 1339.6V1337M297.7 1339.6V1327.1M303.3 1339.6V1319.3M305.2 1339.6V1322.4M309 1339.6V1336.3M316.2 1339.6V1328M320 1339.6V1323.3M321.9 1339.6V1328.8M325.7 1339.6V1295.7M327.7 1339.6V1317.5M340.9 1339.6V1335.9M342.7 1339.6V1335.3M344.5 1339.6V1320.3M348.2 1339.6V1320.4M357.6 1339.6V1329.7M359.5 1339.6V1330.6M366.8 1339.6V1324.4M372.4 1339.6V1337.7M378.1 1339.6V1334.9M379.9 1339.6V1333.9M381.9 1339.6V1336.7M385.6 1339.6V1330.2M391.1 1339.6V1300.6M393 1339.6V1329.9M394.9 1339.6V1318.2M140.5 1339.6V1347.6M144.1 1339.6V1343.4M147.9 1339.6V1352.9M151.7 1339.6V1357.3M163 1339.6V1350.5M166.7 1339.6V1345.8M170.5 1339.6V1354M172.4 1339.6V1345.2M185.1 1339.6V1352.6M189.1 1339.6V1351.2M190.8 1339.6V1349M192.9 1339.6V1356.4M194.8 1339.6V1344.1M206.1 1339.6V1349M207.8 1339.6V1350.9M209.5 1339.6V1349M213.4 1339.6V1343.8M217.1 1339.6V1348.3M220.9 1339.6V1344.9M232.3 1339.6V1345.5M234.1 1339.6V1353.3M237.8 1339.6V1361.4M239.8 1339.6V1344.4M251 1339.6V1343.4M256.5 1339.6V1356.1M260.2 1339.6V1351.2M265.8 1339.6V1349.5M269.6 1339.6V1343.4M276.9 1339.6V1345.5M284.5 1339.6V1366M286.4 1339.6V1346.2M292 1339.6V1347.3M299.5 1339.6V1344.1M301.4 1339.6V1354M307.2 1339.6V1342.4M310.7 1339.6V1355M312.5 1339.6V1353.6M318.2 1339.6V1345.5M323.9 1339.6V1349.5M329.5 1339.6V1348.6M331.4 1339.6V1346.9M333.4 1339.6V1348.3M335.2 1339.6V1345.5M346.2 1339.6V1349M351.9 1339.6V1348.1M355.7 1339.6V1346.2M361.4 1339.6V1344.8M363.2 1339.6V1361.1M368.7 1339.6V1343.4M370.6 1339.6V1342.4M376.3 1339.6V1346.6M387.6 1339.6V1342.7M389.3 1339.6V1361.4M396.8 1339.6V1346.6M402.1 1339.6V1331.6M411.6 1339.6V1330.2M413.6 1339.6V1333.5M417.4 1339.6V1337.3M424.9 1339.6V1332.8M430.4 1339.6V1310.1M432.4 1339.6V1327.8M436.1 1339.6V1337.7M439.8 1339.6V1325.7M441.8 1339.6V1334.9M447.4 1339.6V1336.7M460.5 1339.6V1321M464.1 1339.6V1336.7M471.6 1339.6V1335.9M477.3 1339.6V1330.6M479.3 1339.6V1320.3M481.1 1339.6V1319.5M488.6 1339.6V1329.5M494.1 1339.6V1329.2M503.5 1339.6V1333M509 1339.6V1323.4M512.8 1339.6V1335.3M514.7 1339.6V1335.9M516.5 1339.6V1333.9M522.2 1339.6V1333.2M531.5 1339.6V1328.1M535.2 1339.6V1320.6M540.9 1339.6V1324.6M544.5 1339.6V1336M548.2 1339.6V1325.5M553.9 1339.6V1317.3M559.6 1339.6V1337M561.4 1339.6V1333.5M567.1 1339.6V1316.3M570.9 1339.6V1327.8M576.4 1339.6V1324.7M580.1 1339.6V1333.2M582.1 1339.6V1335.6M589.4 1339.6V1331.9M593.3 1339.6V1303.6M596.9 1339.6V1312.5M598.9 1339.6V1328.5M600.8 1339.6V1332.8M611.9 1339.6V1330.5M615.6 1339.6V1327.1M621.3 1339.6V1331.4M623.3 1339.6V1324.4M634.3 1339.6V1335.6M643.8 1339.6V1337.7M645.6 1339.6V1329.8M655 1339.6V1328.9M656.8 1339.6V1330.2M660.6 1339.6V1331.5M668 1339.6V1330.5M670 1339.6V1336.3M675.5 1339.6V1325.7M683 1339.6V1332.9M684.9 1339.6V1313.1M400.4 1339.6V1346.2M407.9 1339.6V1351.2M409.8 1339.6V1346.2M415.6 1339.6V1388M419.3 1339.6V1343.4M421.1 1339.6V1348.8M426.8 1339.6V1353.4M434.3 1339.6V1344.8M437.9 1339.6V1352.2M443.6 1339.6V1376.7M445.4 1339.6V1346.6M451.1 1339.6V1341.3M456.6 1339.6V1343M462.3 1339.6V1375.2M466 1339.6V1349M468 1339.6V1348.3M469.8 1339.6V1343.8M473.5 1339.6V1348.3M484.8 1339.6V1351.2M486.6 1339.6V1353.3M492.3 1339.6V1349.2M497.8 1339.6V1348.8M499.7 1339.6V1362.5M505.3 1339.6V1345.2M507.2 1339.6V1342.7M510.9 1339.6V1347.6M524 1339.6V1356.1M525.9 1339.6V1370M527.7 1339.6V1348.3M529.5 1339.6V1349.2M533.4 1339.6V1349.2M537 1339.6V1341.3M542.7 1339.6V1345.5M546.4 1339.6V1351.5M550.2 1339.6V1381.2M552.1 1339.6V1355M555.7 1339.6V1376.4M557.7 1339.6V1362.5M565.1 1339.6V1344.8M568.9 1339.6V1353.3M572.6 1339.6V1354.4M574.6 1339.6V1370.3M578.2 1339.6V1347.2M587.6 1339.6V1340.6M591.3 1339.6V1353.2M595.1 1339.6V1357.3M602.6 1339.6V1351M608.3 1339.6V1345.5M610.1 1339.6V1344.8M613.8 1339.6V1378.4M617.6 1339.6V1351.2M619.4 1339.6V1389.4M625.1 1339.6V1345.8M626.9 1339.6V1344.8M630.8 1339.6V1342.4M638.1 1339.6V1345.8M642 1339.6V1391.2M649.5 1339.6V1358.3M653.1 1339.6V1350.2M658.8 1339.6V1343.4M664.3 1339.6V1352.6M666.2 1339.6V1354.3M673.7 1339.6V1342.7M679.3 1339.6V1353.7M686.7 1339.6V1348.1M688.7 1339.6V1347.8M690.4 1339.6V1332.8M694 1339.6V1337M699.6 1339.6V1319.3M703.4 1339.6V1324.6M705.3 1339.6V1309M709 1339.6V1334.5M712.8 1339.6V1335.6M714.6 1339.6V1336.7M718.3 1339.6V1334.9M720.2 1339.6V1333.5M731.3 1339.6V1333.6M733.3 1339.6V1307.7M737 1339.6V1326M739 1339.6V1324.3M742.7 1339.6V1332.3M748.3 1339.6V1315.5M750.2 1339.6V1296M753.9 1339.6V1330.4M757.7 1339.6V1332.3M759.5 1339.6V1336.3M770.7 1339.6V1334.5M772.5 1339.6V1333.5M776.4 1339.6V1329.5M780 1339.6V1332.8M781.9 1339.6V1335.9M795 1339.6V1328.8M798.7 1339.6V1328.5M802.6 1339.6V1324.4M811.9 1339.6V1326M815.6 1339.6V1336.3M823.1 1339.6V1326.7M826.8 1339.6V1332.3M834.3 1339.6V1325.7M841.8 1339.6V1333.5M843.6 1339.6V1332.8M845.5 1339.6V1333.2M853 1339.6V1327.1M856.8 1339.6V1334.5M864.3 1339.6V1321.2M866.1 1339.6V1336.3M871.6 1339.6V1330.9M879.1 1339.6V1330.5M881.1 1339.6V1335.6M884.8 1339.6V1326.4M888.5 1339.6V1337.3M892.3 1339.6V1332.9M897.8 1339.6V1336.4M905.3 1339.6V1334.3M909.2 1339.6V1336.3M912.8 1339.6V1330.5M918.5 1339.6V1336.6M927.8 1339.6V1333.5M931.5 1339.6V1328.4M933.4 1339.6V1336.7M937.2 1339.6V1331.6M939 1339.6V1334.5M944.7 1339.6V1335.2M946.5 1339.6V1327.4M954 1339.6V1329.9M959.6 1339.6V1337.6M695.9 1339.6V1353.3M697.8 1339.6V1346.2M707.1 1339.6V1352.3M710.8 1339.6V1381.3M716.5 1339.6V1343.4M722.1 1339.6V1352.6M724 1339.6V1343.4M725.8 1339.6V1355.1M727.7 1339.6V1372.4M729.5 1339.6V1345.8M735.2 1339.6V1345.5M740.8 1339.6V1344.4M744.5 1339.6V1356.6M746.3 1339.6V1350.9M752 1339.6V1355M755.8 1339.6V1410.2M763.2 1339.6V1346.9M768.9 1339.6V1345.2M774.5 1339.6V1357.5M778.2 1339.6V1351.2M785.7 1339.6V1347.3M787.5 1339.6V1344.1M791.2 1339.6V1344.8M796.9 1339.6V1417.7M806.2 1339.6V1349M808.1 1339.6V1364.2M810.1 1339.6V1347.6M813.7 1339.6V1369.3M817.4 1339.6V1402.4M819.3 1339.6V1348.1M824.9 1339.6V1344.1M830.6 1339.6V1347.3M832.4 1339.6V1346.6M836.1 1339.6V1345.2M839.9 1339.6V1342M847.3 1339.6V1343.4M851.1 1339.6V1365.8M854.8 1339.6V1352.6M860.5 1339.6V1349.5M862.3 1339.6V1348.6M868 1339.6V1342.4M869.8 1339.6V1344.1M873.6 1339.6V1346.6M877.3 1339.6V1352.6M883 1339.6V1343M886.6 1339.6V1342.4M896 1339.6V1351.2M899.8 1339.6V1344.1M901.7 1339.6V1344.1M907.2 1339.6V1344.8M914.7 1339.6V1344.9M920.3 1339.6V1342M922.2 1339.6V1344.1M924 1339.6V1349.2M929.7 1339.6V1345.5M935.4 1339.6V1351.9M940.9 1339.6V1346.6M942.9 1339.6V1354.4M952.2 1339.6V1347.9M955.9 1339.6V1341.3M961.5 1339.6V1343.7" fill="none" stroke="#6e6e6e" stroke-width="1.7"/><path d="M133.3 1339.6H986.0" stroke="#000" stroke-width="2" fill="none"/>
<rect x="133.3" y="1237.7" width="852.7" height="180.5" fill="none" stroke="#000" stroke-width="1.85"/>
<path d="M155.7 1418.2v-5.5M267.9 1418.2v-5.5M380.1 1418.2v-5.5M492.3 1418.2v-5.5M604.5 1418.2v-5.5M716.7 1418.2v-5.5M828.9 1418.2v-5.5M941.1 1418.2v-5.5M133.3 1418.2h5.5M133.3 1378.9h5.5M133.3 1339.6h5.5M133.3 1300.3h5.5M133.3 1261h5.5" stroke="#000" stroke-width="1.7" fill="none"/>
<text x="155.7" y="1453.4" font-size="28.4" text-anchor="middle" textLength="60.2" lengthAdjust="spacingAndGlyphs">1985</text>
<text x="267.9" y="1453.4" font-size="28.4" text-anchor="middle" textLength="60.2" lengthAdjust="spacingAndGlyphs">1990</text>
<text x="380.1" y="1453.4" font-size="28.4" text-anchor="middle" textLength="60.2" lengthAdjust="spacingAndGlyphs">1995</text>
<text x="492.3" y="1453.4" font-size="28.4" text-anchor="middle" textLength="60.2" lengthAdjust="spacingAndGlyphs">2000</text>
<text x="604.5" y="1453.4" font-size="28.4" text-anchor="middle" textLength="60.2" lengthAdjust="spacingAndGlyphs">2005</text>
<text x="716.7" y="1453.4" font-size="28.4" text-anchor="middle" textLength="60.2" lengthAdjust="spacingAndGlyphs">2010</text>
<text x="828.9" y="1453.4" font-size="28.4" text-anchor="middle" textLength="60.2" lengthAdjust="spacingAndGlyphs">2015</text>
<text x="941.1" y="1453.4" font-size="28.4" text-anchor="middle" textLength="60.2" lengthAdjust="spacingAndGlyphs">2020</text>
<text x="123" y="1428.2" font-size="28.4" text-anchor="end" textLength="46.5" lengthAdjust="spacingAndGlyphs">-0.4</text>
<text x="123" y="1388.9" font-size="28.4" text-anchor="end" textLength="46.5" lengthAdjust="spacingAndGlyphs">-0.2</text>
<text x="123" y="1349.6" font-size="28.4" text-anchor="end" textLength="37.2" lengthAdjust="spacingAndGlyphs">0.0</text>
<text x="123" y="1310.3" font-size="28.4" text-anchor="end" textLength="37.2" lengthAdjust="spacingAndGlyphs">0.2</text>
<text x="123" y="1271" font-size="28.4" text-anchor="end" textLength="37.2" lengthAdjust="spacingAndGlyphs">0.4</text>
<text x="158.5" y="1274" font-size="33.5" font-weight="bold" textLength="16.5" lengthAdjust="spacingAndGlyphs">e</text>
<text x="559.6" y="1222.7" font-size="30" text-anchor="middle" textLength="252" lengthAdjust="spacingAndGlyphs">Residual component</text>
<text x="52.3" y="1328" font-size="29.9" text-anchor="middle" textLength="68" lengthAdjust="spacingAndGlyphs" transform="rotate(-90 52.3 1328)">NDVI</text>
</g>
<text x="559.6" y="1495.7" font-size="30.5" text-anchor="middle" textLength="58" lengthAdjust="spacingAndGlyphs">Year</text>
<text x="192.9" y="1061" font-size="28.4" textLength="126.7" lengthAdjust="spacingAndGlyphs"><tspan font-style="italic">k</tspan> = 0.0041</text>
<text x="421.9" y="1037.9" font-size="28.4" textLength="142.3" lengthAdjust="spacingAndGlyphs"><tspan font-style="italic">k</tspan> = −0.0120</text>
<text x="832.3" y="1037.7" font-size="28.4" textLength="127.4" lengthAdjust="spacingAndGlyphs"><tspan font-style="italic">k</tspan> = 0.0134</text>
<defs>
<clipPath id="mclip"><path d="M0.5 46L1.5 42.1L5.3 38.3L10 35.5L15.7 31.7L21.3 26L26 20.4L30.8 14.2L34.5 11.4L40.2 9.5L49.6 8.6L87.4 7.2L134.6 5.7L173 3.9L220.2 2L257.9 0.1L261.7 0.4L267.4 2L276.8 7.2L295.7 22.3L314.6 38.3L333.5 54.3L341 61.9L344.3 68.5L346.2 77.9L346.5 137L346.5 197L345.9 225.3L344.8 244.2L342.9 263.1L341 281.9L339.1 293.3L335.3 301.8L328.7 310.3L319.3 318.8L309.9 323.5L300.4 325.8L286.3 327.7L248.5 328.7L173 330.1L35.5 331.5L27.9 330.6L24.1 327.2L21.3 319.7L19 310.3L16.1 303.7L15.2 291.4L14.7 263.1L13.3 253.6L9 246.1L4.3 234.8L1 215.9L0.1 197Z"/></clipPath>
<filter id="mff1" filterUnits="userSpaceOnUse" x="-40" y="-40" width="430" height="412" color-interpolation-filters="sRGB">
<feTurbulence type="fractalNoise" baseFrequency="0.04" numOctaves="2" seed="3" result="t1"/>
<feColorMatrix in="t1" type="matrix" values="1 0 0 0 0 1 0 0 0 0 1 0 0 0 0 0 0 0 0 1" result="n1"/>
<feTurbulence type="fractalNoise" baseFrequency="0.14" numOctaves="1" seed="4" result="t2"/>
<feColorMatrix in="t2" type="matrix" values="1 0 0 0 0 1 0 0 0 0 1 0 0 0 0 0 0 0 0 1" result="n2"/>
<feTurbulence type="fractalNoise" baseFrequency="0.32" numOctaves="1" seed="5" result="t3"/>
<feColorMatrix in="t3" type="matrix" values="1 0 0 0 0 1 0 0 0 0 1 0 0 0 0 0 0 0 0 1" result="n3"/>
<feComposite in="n1" in2="n2" operator="arithmetic" k1="0" k2="0.400" k3="0.600" k4="0" result="n12"/>
<feComposite in="n12" in2="n3" operator="arithmetic" k1="0" k2="0.500" k3="0.500" k4="0" result="n"/>
<feComponentTransfer in="n" result="ng"><feFuncR type="table" tableValues="0 0 0 0 0 0 0.01 0.03 0.07 0.125 0.2 0.38 0.6 0.77 0.92 1 1 1 1 1 1"/><feFuncG type="table" tableValues="0 0 0 0 0 0 0.01 0.03 0.07 0.125 0.2 0.38 0.6 0.77 0.92 1 1 1 1 1 1"/><feFuncB type="table" tableValues="0 0 0 0 0 0 0.01 0.03 0.07 0.125 0.2 0.38 0.6 0.77 0.92 1 1 1 1 1 1"/></feComponentTransfer>
<feGaussianBlur in="SourceGraphic" stdDeviation="8" result="bl"/>
<feComposite in="bl" in2="ng" operator="arithmetic" k1="1.05" k2="0.790" k3="0" k4="-0.000" result="v"/>
<feComponentTransfer in="v"><feFuncR type="table" tableValues="0.925 0.91 0.894 0.871 0.839 0.831 0.827 0.8 0.776 0.718 0.612 0.471 0.298 0.133 0.027 0.027 0.039 0.047 0.071 0.082 0.027"/><feFuncG type="table" tableValues="0.769 0.722 0.682 0.643 0.588 0.588 0.616 0.729 0.761 0.769 0.761 0.725 0.667 0.612 0.569 0.502 0.424 0.345 0.275 0.188 0.043"/><feFuncB type="table" tableValues="0.651 0.588 0.533 0.439 0.31 0.306 0.325 0.384 0.408 0.424 0.431 0.424 0.388 0.357 0.333 0.298 0.255 0.212 0.165 0.11 0.027"/><feFuncA type="linear" slope="0" intercept="1"/></feComponentTransfer>
</filter>
<filter id="mcf1" filterUnits="userSpaceOnUse" x="-40" y="-40" width="430" height="412" color-interpolation-filters="sRGB">
<feTurbulence type="fractalNoise" baseFrequency="0.04" numOctaves="2" seed="8" result="t1"/>
<feColorMatrix in="t1" type="matrix" values="1 0 0 0 0 1 0 0 0 0 1 0 0 0 0 0 0 0 0 1" result="n1"/>
<feTurbulence type="fractalNoise" baseFrequency="0.14" numOctaves="1" seed="9" result="t2"/>
<feColorMatrix in="t2" type="matrix" values="1 0 0 0 0 1 0 0 0 0 1 0 0 0 0 0 0 0 0 1" result="n2"/>
<feTurbulence type="fractalNoise" baseFrequency="0.32" numOctaves="1" seed="10" result="t3"/>
<feColorMatrix in="t3" type="matrix" values="1 0 0 0 0 1 0 0 0 0 1 0 0 0 0 0 0 0 0 1" result="n3"/>
<feComposite in="n1" in2="n2" operator="arithmetic" k1="0" k2="0.400" k3="0.600" k4="0" result="n12"/>
<feComposite in="n12" in2="n3" operator="arithmetic" k1="0" k2="0.500" k3="0.500" k4="0" result="n"/>
<feComponentTransfer in="n" result="ng"><feFuncR type="table" tableValues="0 0 0 0 0 0 0.01 0.03 0.07 0.125 0.2 0.38 0.6 0.77 0.92 1 1 1 1 1 1"/><feFuncG type="table" tableValues="0 0 0 0 0 0 0.01 0.03 0.07 0.125 0.2 0.38 0.6 0.77 0.92 1 1 1 1 1 1"/><feFuncB type="table" tableValues="0 0 0 0 0 0 0.01 0.03 0.07 0.125 0.2 0.38 0.6 0.77 0.92 1 1 1 1 1 1"/></feComponentTransfer>
<feGaussianBlur in="SourceGraphic" stdDeviation="1.6" result="bl"/>
<feComposite in="bl" in2="ng" operator="arithmetic" k1="0.6" k2="0.880" k3="0" k4="-0.000" result="v"/>
<feComponentTransfer in="v" result="cm"><feFuncR type="table" tableValues="0.925 0.91 0.894 0.871 0.839 0.831 0.827 0.8 0.776 0.718 0.612 0.471 0.298 0.133 0.027 0.027 0.039 0.047 0.071 0.082 0.027"/><feFuncG type="table" tableValues="0.769 0.722 0.682 0.643 0.588 0.588 0.616 0.729 0.761 0.769 0.761 0.725 0.667 0.612 0.569 0.502 0.424 0.345 0.275 0.188 0.043"/><feFuncB type="table" tableValues="0.651 0.588 0.533 0.439 0.31 0.306 0.325 0.384 0.408 0.424 0.431 0.424 0.388 0.357 0.333 0.298 0.255 0.212 0.165 0.11 0.027"/><feFuncA type="linear" slope="0" intercept="1"/></feComponentTransfer>
<feComposite in="cm" in2="bl" operator="in"/></filter>
<filter id="mff2" filterUnits="userSpaceOnUse" x="-40" y="-40" width="430" height="412" color-interpolation-filters="sRGB">
<feTurbulence type="fractalNoise" baseFrequency="0.04" numOctaves="2" seed="7" result="t1"/>
<feColorMatrix in="t1" type="matrix" values="1 0 0 0 0 1 0 0 0 0 1 0 0 0 0 0 0 0 0 1" result="n1"/>
<feTurbulence type="fractalNoise" baseFrequency="0.14" numOctaves="1" seed="8" result="t2"/>
<feColorMatrix in="t2" type="matrix" values="1 0 0 0 0 1 0 0 0 0 1 0 0 0 0 0 0 0 0 1" result="n2"/>
<feTurbulence type="fractalNoise" baseFrequency="0.32" numOctaves="1" seed="9" result="t3"/>
<feColorMatrix in="t3" type="matrix" values="1 0 0 0 0 1 0 0 0 0 1 0 0 0 0 0 0 0 0 1" result="n3"/>
<feComposite in="n1" in2="n2" operator="arithmetic" k1="0" k2="0.400" k3="0.600" k4="0" result="n12"/>
<feComposite in="n12" in2="n3" operator="arithmetic" k1="0" k2="0.500" k3="0.500" k4="0" result="n"/>
<feComponentTransfer in="n" result="ng"><feFuncR type="table" tableValues="0 0 0 0 0 0 0.01 0.03 0.07 0.125 0.2 0.38 0.6 0.77 0.92 1 1 1 1 1 1"/><feFuncG type="table" tableValues="0 0 0 0 0 0 0.01 0.03 0.07 0.125 0.2 0.38 0.6 0.77 0.92 1 1 1 1 1 1"/><feFuncB type="table" tableValues="0 0 0 0 0 0 0.01 0.03 0.07 0.125 0.2 0.38 0.6 0.77 0.92 1 1 1 1 1 1"/></feComponentTransfer>
<feGaussianBlur in="SourceGraphic" stdDeviation="8" result="bl"/>
<feComposite in="bl" in2="ng" operator="arithmetic" k1="1.05" k2="0.790" k3="0" k4="-0.000" result="v"/>
<feComponentTransfer in="v"><feFuncR type="table" tableValues="0.925 0.91 0.894 0.871 0.839 0.831 0.827 0.8 0.776 0.718 0.612 0.471 0.298 0.133 0.027 0.027 0.039 0.047 0.071 0.082 0.027"/><feFuncG type="table" tableValues="0.769 0.722 0.682 0.643 0.588 0.588 0.616 0.729 0.761 0.769 0.761 0.725 0.667 0.612 0.569 0.502 0.424 0.345 0.275 0.188 0.043"/><feFuncB type="table" tableValues="0.651 0.588 0.533 0.439 0.31 0.306 0.325 0.384 0.408 0.424 0.431 0.424 0.388 0.357 0.333 0.298 0.255 0.212 0.165 0.11 0.027"/><feFuncA type="linear" slope="0" intercept="1"/></feComponentTransfer>
</filter>
<filter id="mcf2" filterUnits="userSpaceOnUse" x="-40" y="-40" width="430" height="412" color-interpolation-filters="sRGB">
<feTurbulence type="fractalNoise" baseFrequency="0.04" numOctaves="2" seed="12" result="t1"/>
<feColorMatrix in="t1" type="matrix" values="1 0 0 0 0 1 0 0 0 0 1 0 0 0 0 0 0 0 0 1" result="n1"/>
<feTurbulence type="fractalNoise" baseFrequency="0.14" numOctaves="1" seed="13" result="t2"/>
<feColorMatrix in="t2" type="matrix" values="1 0 0 0 0 1 0 0 0 0 1 0 0 0 0 0 0 0 0 1" result="n2"/>
<feTurbulence type="fractalNoise" baseFrequency="0.32" numOctaves="1" seed="14" result="t3"/>
<feColorMatrix in="t3" type="matrix" values="1 0 0 0 0 1 0 0 0 0 1 0 0 0 0 0 0 0 0 1" result="n3"/>
<feComposite in="n1" in2="n2" operator="arithmetic" k1="0" k2="0.400" k3="0.600" k4="0" result="n12"/>
<feComposite in="n12" in2="n3" operator="arithmetic" k1="0" k2="0.500" k3="0.500" k4="0" result="n"/>
<feComponentTransfer in="n" result="ng"><feFuncR type="table" tableValues="0 0 0 0 0 0 0.01 0.03 0.07 0.125 0.2 0.38 0.6 0.77 0.92 1 1 1 1 1 1"/><feFuncG type="table" tableValues="0 0 0 0 0 0 0.01 0.03 0.07 0.125 0.2 0.38 0.6 0.77 0.92 1 1 1 1 1 1"/><feFuncB type="table" tableValues="0 0 0 0 0 0 0.01 0.03 0.07 0.125 0.2 0.38 0.6 0.77 0.92 1 1 1 1 1 1"/></feComponentTransfer>
<feGaussianBlur in="SourceGraphic" stdDeviation="1.6" result="bl"/>
<feComposite in="bl" in2="ng" operator="arithmetic" k1="0.6" k2="0.880" k3="0" k4="-0.000" result="v"/>
<feComponentTransfer in="v" result="cm"><feFuncR type="table" tableValues="0.925 0.91 0.894 0.871 0.839 0.831 0.827 0.8 0.776 0.718 0.612 0.471 0.298 0.133 0.027 0.027 0.039 0.047 0.071 0.082 0.027"/><feFuncG type="table" tableValues="0.769 0.722 0.682 0.643 0.588 0.588 0.616 0.729 0.761 0.769 0.761 0.725 0.667 0.612 0.569 0.502 0.424 0.345 0.275 0.188 0.043"/><feFuncB type="table" tableValues="0.651 0.588 0.533 0.439 0.31 0.306 0.325 0.384 0.408 0.424 0.431 0.424 0.388 0.357 0.333 0.298 0.255 0.212 0.165 0.11 0.027"/><feFuncA type="linear" slope="0" intercept="1"/></feComponentTransfer>
<feComposite in="cm" in2="bl" operator="in"/></filter>
<filter id="mff3" filterUnits="userSpaceOnUse" x="-40" y="-40" width="430" height="412" color-interpolation-filters="sRGB">
<feTurbulence type="fractalNoise" baseFrequency="0.04" numOctaves="2" seed="11" result="t1"/>
<feColorMatrix in="t1" type="matrix" values="1 0 0 0 0 1 0 0 0 0 1 0 0 0 0 0 0 0 0 1" result="n1"/>
<feTurbulence type="fractalNoise" baseFrequency="0.14" numOctaves="1" seed="12" result="t2"/>
<feColorMatrix in="t2" type="matrix" values="1 0 0 0 0 1 0 0 0 0 1 0 0 0 0 0 0 0 0 1" result="n2"/>
<feTurbulence type="fractalNoise" baseFrequency="0.32" numOctaves="1" seed="13" result="t3"/>
<feColorMatrix in="t3" type="matrix" values="1 0 0 0 0 1 0 0 0 0 1 0 0 0 0 0 0 0 0 1" result="n3"/>
<feComposite in="n1" in2="n2" operator="arithmetic" k1="0" k2="0.400" k3="0.600" k4="0" result="n12"/>
<feComposite in="n12" in2="n3" operator="arithmetic" k1="0" k2="0.500" k3="0.500" k4="0" result="n"/>
<feComponentTransfer in="n" result="ng"><feFuncR type="table" tableValues="0 0 0 0 0 0 0.01 0.03 0.07 0.125 0.2 0.38 0.6 0.77 0.92 1 1 1 1 1 1"/><feFuncG type="table" tableValues="0 0 0 0 0 0 0.01 0.03 0.07 0.125 0.2 0.38 0.6 0.77 0.92 1 1 1 1 1 1"/><feFuncB type="table" tableValues="0 0 0 0 0 0 0.01 0.03 0.07 0.125 0.2 0.38 0.6 0.77 0.92 1 1 1 1 1 1"/></feComponentTransfer>
<feGaussianBlur in="SourceGraphic" stdDeviation="8" result="bl"/>
<feComposite in="bl" in2="ng" operator="arithmetic" k1="1.05" k2="0.790" k3="0" k4="-0.000" result="v"/>
<feComponentTransfer in="v"><feFuncR type="table" tableValues="0.925 0.91 0.894 0.871 0.839 0.831 0.827 0.8 0.776 0.718 0.612 0.471 0.298 0.133 0.027 0.027 0.039 0.047 0.071 0.082 0.027"/><feFuncG type="table" tableValues="0.769 0.722 0.682 0.643 0.588 0.588 0.616 0.729 0.761 0.769 0.761 0.725 0.667 0.612 0.569 0.502 0.424 0.345 0.275 0.188 0.043"/><feFuncB type="table" tableValues="0.651 0.588 0.533 0.439 0.31 0.306 0.325 0.384 0.408 0.424 0.431 0.424 0.388 0.357 0.333 0.298 0.255 0.212 0.165 0.11 0.027"/><feFuncA type="linear" slope="0" intercept="1"/></feComponentTransfer>
</filter>
<filter id="mcf3" filterUnits="userSpaceOnUse" x="-40" y="-40" width="430" height="412" color-interpolation-filters="sRGB">
<feTurbulence type="fractalNoise" baseFrequency="0.04" numOctaves="2" seed="16" result="t1"/>
<feColorMatrix in="t1" type="matrix" values="1 0 0 0 0 1 0 0 0 0 1 0 0 0 0 0 0 0 0 1" result="n1"/>
<feTurbulence type="fractalNoise" baseFrequency="0.14" numOctaves="1" seed="17" result="t2"/>
<feColorMatrix in="t2" type="matrix" values="1 0 0 0 0 1 0 0 0 0 1 0 0 0 0 0 0 0 0 1" result="n2"/>
<feTurbulence type="fractalNoise" baseFrequency="0.32" numOctaves="1" seed="18" result="t3"/>
<feColorMatrix in="t3" type="matrix" values="1 0 0 0 0 1 0 0 0 0 1 0 0 0 0 0 0 0 0 1" result="n3"/>
<feComposite in="n1" in2="n2" operator="arithmetic" k1="0" k2="0.400" k3="0.600" k4="0" result="n12"/>
<feComposite in="n12" in2="n3" operator="arithmetic" k1="0" k2="0.500" k3="0.500" k4="0" result="n"/>
<feComponentTransfer in="n" result="ng"><feFuncR type="table" tableValues="0 0 0 0 0 0 0.01 0.03 0.07 0.125 0.2 0.38 0.6 0.77 0.92 1 1 1 1 1 1"/><feFuncG type="table" tableValues="0 0 0 0 0 0 0.01 0.03 0.07 0.125 0.2 0.38 0.6 0.77 0.92 1 1 1 1 1 1"/><feFuncB type="table" tableValues="0 0 0 0 0 0 0.01 0.03 0.07 0.125 0.2 0.38 0.6 0.77 0.92 1 1 1 1 1 1"/></feComponentTransfer>
<feGaussianBlur in="SourceGraphic" stdDeviation="1.6" result="bl"/>
<feComposite in="bl" in2="ng" operator="arithmetic" k1="0.6" k2="0.880" k3="0" k4="-0.000" result="v"/>
<feComponentTransfer in="v" result="cm"><feFuncR type="table" tableValues="0.925 0.91 0.894 0.871 0.839 0.831 0.827 0.8 0.776 0.718 0.612 0.471 0.298 0.133 0.027 0.027 0.039 0.047 0.071 0.082 0.027"/><feFuncG type="table" tableValues="0.769 0.722 0.682 0.643 0.588 0.588 0.616 0.729 0.761 0.769 0.761 0.725 0.667 0.612 0.569 0.502 0.424 0.345 0.275 0.188 0.043"/><feFuncB type="table" tableValues="0.651 0.588 0.533 0.439 0.31 0.306 0.325 0.384 0.408 0.424 0.431 0.424 0.388 0.357 0.333 0.298 0.255 0.212 0.165 0.11 0.027"/><feFuncA type="linear" slope="0" intercept="1"/></feComponentTransfer>
<feComposite in="cm" in2="bl" operator="in"/></filter>
<filter id="mff4" filterUnits="userSpaceOnUse" x="-40" y="-40" width="430" height="412" color-interpolation-filters="sRGB">
<feTurbulence type="fractalNoise" baseFrequency="0.04" numOctaves="2" seed="15" result="t1"/>
<feColorMatrix in="t1" type="matrix" values="1 0 0 0 0 1 0 0 0 0 1 0 0 0 0 0 0 0 0 1" result="n1"/>
<feTurbulence type="fractalNoise" baseFrequency="0.14" numOctaves="1" seed="16" result="t2"/>
<feColorMatrix in="t2" type="matrix" values="1 0 0 0 0 1 0 0 0 0 1 0 0 0 0 0 0 0 0 1" result="n2"/>
<feTurbulence type="fractalNoise" baseFrequency="0.32" numOctaves="1" seed="17" result="t3"/>
<feColorMatrix in="t3" type="matrix" values="1 0 0 0 0 1 0 0 0 0 1 0 0 0 0 0 0 0 0 1" result="n3"/>
<feComposite in="n1" in2="n2" operator="arithmetic" k1="0" k2="0.400" k3="0.600" k4="0" result="n12"/>
<feComposite in="n12" in2="n3" operator="arithmetic" k1="0" k2="0.500" k3="0.500" k4="0" result="n"/>
<feComponentTransfer in="n" result="ng"><feFuncR type="table" tableValues="0 0 0 0 0 0 0.01 0.03 0.07 0.125 0.2 0.38 0.6 0.77 0.92 1 1 1 1 1 1"/><feFuncG type="table" tableValues="0 0 0 0 0 0 0.01 0.03 0.07 0.125 0.2 0.38 0.6 0.77 0.92 1 1 1 1 1 1"/><feFuncB type="table" tableValues="0 0 0 0 0 0 0.01 0.03 0.07 0.125 0.2 0.38 0.6 0.77 0.92 1 1 1 1 1 1"/></feComponentTransfer>
<feGaussianBlur in="SourceGraphic" stdDeviation="8" result="bl"/>
<feComposite in="bl" in2="ng" operator="arithmetic" k1="1.05" k2="0.790" k3="0" k4="-0.000" result="v"/>
<feComponentTransfer in="v"><feFuncR type="table" tableValues="0.925 0.91 0.894 0.871 0.839 0.831 0.827 0.8 0.776 0.718 0.612 0.471 0.298 0.133 0.027 0.027 0.039 0.047 0.071 0.082 0.027"/><feFuncG type="table" tableValues="0.769 0.722 0.682 0.643 0.588 0.588 0.616 0.729 0.761 0.769 0.761 0.725 0.667 0.612 0.569 0.502 0.424 0.345 0.275 0.188 0.043"/><feFuncB type="table" tableValues="0.651 0.588 0.533 0.439 0.31 0.306 0.325 0.384 0.408 0.424 0.431 0.424 0.388 0.357 0.333 0.298 0.255 0.212 0.165 0.11 0.027"/><feFuncA type="linear" slope="0" intercept="1"/></feComponentTransfer>
</filter>
<filter id="mcf4" filterUnits="userSpaceOnUse" x="-40" y="-40" width="430" height="412" color-interpolation-filters="sRGB">
<feTurbulence type="fractalNoise" baseFrequency="0.04" numOctaves="2" seed="20" result="t1"/>
<feColorMatrix in="t1" type="matrix" values="1 0 0 0 0 1 0 0 0 0 1 0 0 0 0 0 0 0 0 1" result="n1"/>
<feTurbulence type="fractalNoise" baseFrequency="0.14" numOctaves="1" seed="21" result="t2"/>
<feColorMatrix in="t2" type="matrix" values="1 0 0 0 0 1 0 0 0 0 1 0 0 0 0 0 0 0 0 1" result="n2"/>
<feTurbulence type="fractalNoise" baseFrequency="0.32" numOctaves="1" seed="22" result="t3"/>
<feColorMatrix in="t3" type="matrix" values="1 0 0 0 0 1 0 0 0 0 1 0 0 0 0 0 0 0 0 1" result="n3"/>
<feComposite in="n1" in2="n2" operator="arithmetic" k1="0" k2="0.400" k3="0.600" k4="0" result="n12"/>
<feComposite in="n12" in2="n3" operator="arithmetic" k1="0" k2="0.500" k3="0.500" k4="0" result="n"/>
<feComponentTransfer in="n" result="ng"><feFuncR type="table" tableValues="0 0 0 0 0 0 0.01 0.03 0.07 0.125 0.2 0.38 0.6 0.77 0.92 1 1 1 1 1 1"/><feFuncG type="table" tableValues="0 0 0 0 0 0 0.01 0.03 0.07 0.125 0.2 0.38 0.6 0.77 0.92 1 1 1 1 1 1"/><feFuncB type="table" tableValues="0 0 0 0 0 0 0.01 0.03 0.07 0.125 0.2 0.38 0.6 0.77 0.92 1 1 1 1 1 1"/></feComponentTransfer>
<feGaussianBlur in="SourceGraphic" stdDeviation="1.6" result="bl"/>
<feComposite in="bl" in2="ng" operator="arithmetic" k1="0.6" k2="0.880" k3="0" k4="-0.000" result="v"/>
<feComponentTransfer in="v" result="cm"><feFuncR type="table" tableValues="0.925 0.91 0.894 0.871 0.839 0.831 0.827 0.8 0.776 0.718 0.612 0.471 0.298 0.133 0.027 0.027 0.039 0.047 0.071 0.082 0.027"/><feFuncG type="table" tableValues="0.769 0.722 0.682 0.643 0.588 0.588 0.616 0.729 0.761 0.769 0.761 0.725 0.667 0.612 0.569 0.502 0.424 0.345 0.275 0.188 0.043"/><feFuncB type="table" tableValues="0.651 0.588 0.533 0.439 0.31 0.306 0.325 0.384 0.408 0.424 0.431 0.424 0.388 0.357 0.333 0.298 0.255 0.212 0.165 0.11 0.027"/><feFuncA type="linear" slope="0" intercept="1"/></feComponentTransfer>
<feComposite in="cm" in2="bl" operator="in"/></filter>
<filter id="mff5" filterUnits="userSpaceOnUse" x="-40" y="-40" width="430" height="412" color-interpolation-filters="sRGB">
<feTurbulence type="fractalNoise" baseFrequency="0.04" numOctaves="2" seed="19" result="t1"/>
<feColorMatrix in="t1" type="matrix" values="1 0 0 0 0 1 0 0 0 0 1 0 0 0 0 0 0 0 0 1" result="n1"/>
<feTurbulence type="fractalNoise" baseFrequency="0.14" numOctaves="1" seed="20" result="t2"/>
<feColorMatrix in="t2" type="matrix" values="1 0 0 0 0 1 0 0 0 0 1 0 0 0 0 0 0 0 0 1" result="n2"/>
<feTurbulence type="fractalNoise" baseFrequency="0.32" numOctaves="1" seed="21" result="t3"/>
<feColorMatrix in="t3" type="matrix" values="1 0 0 0 0 1 0 0 0 0 1 0 0 0 0 0 0 0 0 1" result="n3"/>
<feComposite in="n1" in2="n2" operator="arithmetic" k1="0" k2="0.400" k3="0.600" k4="0" result="n12"/>
<feComposite in="n12" in2="n3" operator="arithmetic" k1="0" k2="0.500" k3="0.500" k4="0" result="n"/>
<feComponentTransfer in="n" result="ng"><feFuncR type="table" tableValues="0 0 0 0 0 0 0.01 0.03 0.07 0.125 0.2 0.38 0.6 0.77 0.92 1 1 1 1 1 1"/><feFuncG type="table" tableValues="0 0 0 0 0 0 0.01 0.03 0.07 0.125 0.2 0.38 0.6 0.77 0.92 1 1 1 1 1 1"/><feFuncB type="table" tableValues="0 0 0 0 0 0 0.01 0.03 0.07 0.125 0.2 0.38 0.6 0.77 0.92 1 1 1 1 1 1"/></feComponentTransfer>
<feGaussianBlur in="SourceGraphic" stdDeviation="8" result="bl"/>
<feComposite in="bl" in2="ng" operator="arithmetic" k1="1.05" k2="0.790" k3="0" k4="-0.000" result="v"/>
<feComponentTransfer in="v"><feFuncR type="table" tableValues="0.925 0.91 0.894 0.871 0.839 0.831 0.827 0.8 0.776 0.718 0.612 0.471 0.298 0.133 0.027 0.027 0.039 0.047 0.071 0.082 0.027"/><feFuncG type="table" tableValues="0.769 0.722 0.682 0.643 0.588 0.588 0.616 0.729 0.761 0.769 0.761 0.725 0.667 0.612 0.569 0.502 0.424 0.345 0.275 0.188 0.043"/><feFuncB type="table" tableValues="0.651 0.588 0.533 0.439 0.31 0.306 0.325 0.384 0.408 0.424 0.431 0.424 0.388 0.357 0.333 0.298 0.255 0.212 0.165 0.11 0.027"/><feFuncA type="linear" slope="0" intercept="1"/></feComponentTransfer>
</filter>
<filter id="mcf5" filterUnits="userSpaceOnUse" x="-40" y="-40" width="430" height="412" color-interpolation-filters="sRGB">
<feTurbulence type="fractalNoise" baseFrequency="0.04" numOctaves="2" seed="24" result="t1"/>
<feColorMatrix in="t1" type="matrix" values="1 0 0 0 0 1 0 0 0 0 1 0 0 0 0 0 0 0 0 1" result="n1"/>
<feTurbulence type="fractalNoise" baseFrequency="0.14" numOctaves="1" seed="25" result="t2"/>
<feColorMatrix in="t2" type="matrix" values="1 0 0 0 0 1 0 0 0 0 1 0 0 0 0 0 0 0 0 1" result="n2"/>
<feTurbulence type="fractalNoise" baseFrequency="0.32" numOctaves="1" seed="26" result="t3"/>
<feColorMatrix in="t3" type="matrix" values="1 0 0 0 0 1 0 0 0 0 1 0 0 0 0 0 0 0 0 1" result="n3"/>
<feComposite in="n1" in2="n2" operator="arithmetic" k1="0" k2="0.400" k3="0.600" k4="0" result="n12"/>
<feComposite in="n12" in2="n3" operator="arithmetic" k1="0" k2="0.500" k3="0.500" k4="0" result="n"/>
<feComponentTransfer in="n" result="ng"><feFuncR type="table" tableValues="0 0 0 0 0 0 0.01 0.03 0.07 0.125 0.2 0.38 0.6 0.77 0.92 1 1 1 1 1 1"/><feFuncG type="table" tableValues="0 0 0 0 0 0 0.01 0.03 0.07 0.125 0.2 0.38 0.6 0.77 0.92 1 1 1 1 1 1"/><feFuncB type="table" tableValues="0 0 0 0 0 0 0.01 0.03 0.07 0.125 0.2 0.38 0.6 0.77 0.92 1 1 1 1 1 1"/></feComponentTransfer>
<feGaussianBlur in="SourceGraphic" stdDeviation="1.6" result="bl"/>
<feComposite in="bl" in2="ng" operator="arithmetic" k1="0.6" k2="0.880" k3="0" k4="-0.000" result="v"/>
<feComponentTransfer in="v" result="cm"><feFuncR type="table" tableValues="0.925 0.91 0.894 0.871 0.839 0.831 0.827 0.8 0.776 0.718 0.612 0.471 0.298 0.133 0.027 0.027 0.039 0.047 0.071 0.082 0.027"/><feFuncG type="table" tableValues="0.769 0.722 0.682 0.643 0.588 0.588 0.616 0.729 0.761 0.769 0.761 0.725 0.667 0.612 0.569 0.502 0.424 0.345 0.275 0.188 0.043"/><feFuncB type="table" tableValues="0.651 0.588 0.533 0.439 0.31 0.306 0.325 0.384 0.408 0.424 0.431 0.424 0.388 0.357 0.333 0.298 0.255 0.212 0.165 0.11 0.027"/><feFuncA type="linear" slope="0" intercept="1"/></feComponentTransfer>
<feComposite in="cm" in2="bl" operator="in"/></filter>
<filter id="mff6" filterUnits="userSpaceOnUse" x="-40" y="-40" width="430" height="412" color-interpolation-filters="sRGB">
<feTurbulence type="fractalNoise" baseFrequency="0.04" numOctaves="2" seed="23" result="t1"/>
<feColorMatrix in="t1" type="matrix" values="1 0 0 0 0 1 0 0 0 0 1 0 0 0 0 0 0 0 0 1" result="n1"/>
<feTurbulence type="fractalNoise" baseFrequency="0.14" numOctaves="1" seed="24" result="t2"/>
<feColorMatrix in="t2" type="matrix" values="1 0 0 0 0 1 0 0 0 0 1 0 0 0 0 0 0 0 0 1" result="n2"/>
<feTurbulence type="fractalNoise" baseFrequency="0.32" numOctaves="1" seed="25" result="t3"/>
<feColorMatrix in="t3" type="matrix" values="1 0 0 0 0 1 0 0 0 0 1 0 0 0 0 0 0 0 0 1" result="n3"/>
<feComposite in="n1" in2="n2" operator="arithmetic" k1="0" k2="0.400" k3="0.600" k4="0" result="n12"/>
<feComposite in="n12" in2="n3" operator="arithmetic" k1="0" k2="0.500" k3="0.500" k4="0" result="n"/>
<feComponentTransfer in="n" result="ng"><feFuncR type="table" tableValues="0 0 0 0 0 0 0.01 0.03 0.07 0.125 0.2 0.38 0.6 0.77 0.92 1 1 1 1 1 1"/><feFuncG type="table" tableValues="0 0 0 0 0 0 0.01 0.03 0.07 0.125 0.2 0.38 0.6 0.77 0.92 1 1 1 1 1 1"/><feFuncB type="table" tableValues="0 0 0 0 0 0 0.01 0.03 0.07 0.125 0.2 0.38 0.6 0.77 0.92 1 1 1 1 1 1"/></feComponentTransfer>
<feGaussianBlur in="SourceGraphic" stdDeviation="8" result="bl"/>
<feComposite in="bl" in2="ng" operator="arithmetic" k1="1.05" k2="0.790" k3="0" k4="-0.000" result="v"/>
<feComponentTransfer in="v"><feFuncR type="table" tableValues="0.925 0.91 0.894 0.871 0.839 0.831 0.827 0.8 0.776 0.718 0.612 0.471 0.298 0.133 0.027 0.027 0.039 0.047 0.071 0.082 0.027"/><feFuncG type="table" tableValues="0.769 0.722 0.682 0.643 0.588 0.588 0.616 0.729 0.761 0.769 0.761 0.725 0.667 0.612 0.569 0.502 0.424 0.345 0.275 0.188 0.043"/><feFuncB type="table" tableValues="0.651 0.588 0.533 0.439 0.31 0.306 0.325 0.384 0.408 0.424 0.431 0.424 0.388 0.357 0.333 0.298 0.255 0.212 0.165 0.11 0.027"/><feFuncA type="linear" slope="0" intercept="1"/></feComponentTransfer>
</filter>
<filter id="mcf6" filterUnits="userSpaceOnUse" x="-40" y="-40" width="430" height="412" color-interpolation-filters="sRGB">
<feTurbulence type="fractalNoise" baseFrequency="0.04" numOctaves="2" seed="28" result="t1"/>
<feColorMatrix in="t1" type="matrix" values="1 0 0 0 0 1 0 0 0 0 1 0 0 0 0 0 0 0 0 1" result="n1"/>
<feTurbulence type="fractalNoise" baseFrequency="0.14" numOctaves="1" seed="29" result="t2"/>
<feColorMatrix in="t2" type="matrix" values="1 0 0 0 0 1 0 0 0 0 1 0 0 0 0 0 0 0 0 1" result="n2"/>
<feTurbulence type="fractalNoise" baseFrequency="0.32" numOctaves="1" seed="30" result="t3"/>
<feColorMatrix in="t3" type="matrix" values="1 0 0 0 0 1 0 0 0 0 1 0 0 0 0 0 0 0 0 1" result="n3"/>
<feComposite in="n1" in2="n2" operator="arithmetic" k1="0" k2="0.400" k3="0.600" k4="0" result="n12"/>
<feComposite in="n12" in2="n3" operator="arithmetic" k1="0" k2="0.500" k3="0.500" k4="0" result="n"/>
<feComponentTransfer in="n" result="ng"><feFuncR type="table" tableValues="0 0 0 0 0 0 0.01 0.03 0.07 0.125 0.2 0.38 0.6 0.77 0.92 1 1 1 1 1 1"/><feFuncG type="table" tableValues="0 0 0 0 0 0 0.01 0.03 0.07 0.125 0.2 0.38 0.6 0.77 0.92 1 1 1 1 1 1"/><feFuncB type="table" tableValues="0 0 0 0 0 0 0.01 0.03 0.07 0.125 0.2 0.38 0.6 0.77 0.92 1 1 1 1 1 1"/></feComponentTransfer>
<feGaussianBlur in="SourceGraphic" stdDeviation="1.6" result="bl"/>
<feComposite in="bl" in2="ng" operator="arithmetic" k1="0.6" k2="0.880" k3="0" k4="-0.000" result="v"/>
<feComponentTransfer in="v" result="cm"><feFuncR type="table" tableValues="0.925 0.91 0.894 0.871 0.839 0.831 0.827 0.8 0.776 0.718 0.612 0.471 0.298 0.133 0.027 0.027 0.039 0.047 0.071 0.082 0.027"/><feFuncG type="table" tableValues="0.769 0.722 0.682 0.643 0.588 0.588 0.616 0.729 0.761 0.769 0.761 0.725 0.667 0.612 0.569 0.502 0.424 0.345 0.275 0.188 0.043"/><feFuncB type="table" tableValues="0.651 0.588 0.533 0.439 0.31 0.306 0.325 0.384 0.408 0.424 0.431 0.424 0.388 0.357 0.333 0.298 0.255 0.212 0.165 0.11 0.027"/><feFuncA type="linear" slope="0" intercept="1"/></feComponentTransfer>
<feComposite in="cm" in2="bl" operator="in"/></filter>
<filter id="mff7" filterUnits="userSpaceOnUse" x="-40" y="-40" width="430" height="412" color-interpolation-filters="sRGB">
<feTurbulence type="fractalNoise" baseFrequency="0.04" numOctaves="2" seed="27" result="t1"/>
<feColorMatrix in="t1" type="matrix" values="1 0 0 0 0 1 0 0 0 0 1 0 0 0 0 0 0 0 0 1" result="n1"/>
<feTurbulence type="fractalNoise" baseFrequency="0.14" numOctaves="1" seed="28" result="t2"/>
<feColorMatrix in="t2" type="matrix" values="1 0 0 0 0 1 0 0 0 0 1 0 0 0 0 0 0 0 0 1" result="n2"/>
<feTurbulence type="fractalNoise" baseFrequency="0.32" numOctaves="1" seed="29" result="t3"/>
<feColorMatrix in="t3" type="matrix" values="1 0 0 0 0 1 0 0 0 0 1 0 0 0 0 0 0 0 0 1" result="n3"/>
<feComposite in="n1" in2="n2" operator="arithmetic" k1="0" k2="0.400" k3="0.600" k4="0" result="n12"/>
<feComposite in="n12" in2="n3" operator="arithmetic" k1="0" k2="0.500" k3="0.500" k4="0" result="n"/>
<feComponentTransfer in="n" result="ng"><feFuncR type="table" tableValues="0 0 0 0 0 0 0.01 0.03 0.07 0.125 0.2 0.38 0.6 0.77 0.92 1 1 1 1 1 1"/><feFuncG type="table" tableValues="0 0 0 0 0 0 0.01 0.03 0.07 0.125 0.2 0.38 0.6 0.77 0.92 1 1 1 1 1 1"/><feFuncB type="table" tableValues="0 0 0 0 0 0 0.01 0.03 0.07 0.125 0.2 0.38 0.6 0.77 0.92 1 1 1 1 1 1"/></feComponentTransfer>
<feGaussianBlur in="SourceGraphic" stdDeviation="8" result="bl"/>
<feComposite in="bl" in2="ng" operator="arithmetic" k1="0.75" k2="0.850" k3="0" k4="-0.000" result="v"/>
<feComponentTransfer in="v"><feFuncR type="table" tableValues="0.925 0.91 0.894 0.871 0.839 0.843 0.855 0.863 0.863 0.824 0.69 0.502 0.298 0.133 0.027 0.027 0.039 0.047 0.071 0.082 0.027"/><feFuncG type="table" tableValues="0.769 0.722 0.682 0.643 0.588 0.616 0.682 0.741 0.769 0.776 0.773 0.729 0.667 0.612 0.569 0.502 0.424 0.345 0.275 0.188 0.043"/><feFuncB type="table" tableValues="0.651 0.588 0.533 0.439 0.31 0.322 0.361 0.396 0.412 0.42 0.431 0.424 0.388 0.357 0.333 0.298 0.255 0.212 0.165 0.11 0.027"/><feFuncA type="linear" slope="0" intercept="1"/></feComponentTransfer>
</filter>
<filter id="mcf7" filterUnits="userSpaceOnUse" x="-40" y="-40" width="430" height="412" color-interpolation-filters="sRGB">
<feTurbulence type="fractalNoise" baseFrequency="0.04" numOctaves="2" seed="32" result="t1"/>
<feColorMatrix in="t1" type="matrix" values="1 0 0 0 0 1 0 0 0 0 1 0 0 0 0 0 0 0 0 1" result="n1"/>
<feTurbulence type="fractalNoise" baseFrequency="0.14" numOctaves="1" seed="33" result="t2"/>
<feColorMatrix in="t2" type="matrix" values="1 0 0 0 0 1 0 0 0 0 1 0 0 0 0 0 0 0 0 1" result="n2"/>
<feTurbulence type="fractalNoise" baseFrequency="0.32" numOctaves="1" seed="34" result="t3"/>
<feColorMatrix in="t3" type="matrix" values="1 0 0 0 0 1 0 0 0 0 1 0 0 0 0 0 0 0 0 1" result="n3"/>
<feComposite in="n1" in2="n2" operator="arithmetic" k1="0" k2="0.400" k3="0.600" k4="0" result="n12"/>
<feComposite in="n12" in2="n3" operator="arithmetic" k1="0" k2="0.500" k3="0.500" k4="0" result="n"/>
<feComponentTransfer in="n" result="ng"><feFuncR type="table" tableValues="0 0 0 0 0 0 0.01 0.03 0.07 0.125 0.2 0.38 0.6 0.77 0.92 1 1 1 1 1 1"/><feFuncG type="table" tableValues="0 0 0 0 0 0 0.01 0.03 0.07 0.125 0.2 0.38 0.6 0.77 0.92 1 1 1 1 1 1"/><feFuncB type="table" tableValues="0 0 0 0 0 0 0.01 0.03 0.07 0.125 0.2 0.38 0.6 0.77 0.92 1 1 1 1 1 1"/></feComponentTransfer>
<feGaussianBlur in="SourceGraphic" stdDeviation="1.6" result="bl"/>
<feComposite in="bl" in2="ng" operator="arithmetic" k1="0.6" k2="0.880" k3="0" k4="-0.000" result="v"/>
<feComponentTransfer in="v" result="cm"><feFuncR type="table" tableValues="0.925 0.91 0.894 0.871 0.839 0.843 0.855 0.863 0.863 0.824 0.69 0.502 0.298 0.133 0.027 0.027 0.039 0.047 0.071 0.082 0.027"/><feFuncG type="table" tableValues="0.769 0.722 0.682 0.643 0.588 0.616 0.682 0.741 0.769 0.776 0.773 0.729 0.667 0.612 0.569 0.502 0.424 0.345 0.275 0.188 0.043"/><feFuncB type="table" tableValues="0.651 0.588 0.533 0.439 0.31 0.322 0.361 0.396 0.412 0.42 0.431 0.424 0.388 0.357 0.333 0.298 0.255 0.212 0.165 0.11 0.027"/><feFuncA type="linear" slope="0" intercept="1"/></feComponentTransfer>
<feComposite in="cm" in2="bl" operator="in"/></filter>
<filter id="mff8" filterUnits="userSpaceOnUse" x="-40" y="-40" width="430" height="412" color-interpolation-filters="sRGB">
<feTurbulence type="fractalNoise" baseFrequency="0.04" numOctaves="2" seed="31" result="t1"/>
<feColorMatrix in="t1" type="matrix" values="1 0 0 0 0 1 0 0 0 0 1 0 0 0 0 0 0 0 0 1" result="n1"/>
<feTurbulence type="fractalNoise" baseFrequency="0.14" numOctaves="1" seed="32" result="t2"/>
<feColorMatrix in="t2" type="matrix" values="1 0 0 0 0 1 0 0 0 0 1 0 0 0 0 0 0 0 0 1" result="n2"/>
<feTurbulence type="fractalNoise" baseFrequency="0.32" numOctaves="1" seed="33" result="t3"/>
<feColorMatrix in="t3" type="matrix" values="1 0 0 0 0 1 0 0 0 0 1 0 0 0 0 0 0 0 0 1" result="n3"/>
<feComposite in="n1" in2="n2" operator="arithmetic" k1="0" k2="0.400" k3="0.600" k4="0" result="n12"/>
<feComposite in="n12" in2="n3" operator="arithmetic" k1="0" k2="0.500" k3="0.500" k4="0" result="n"/>
<feComponentTransfer in="n" result="ng"><feFuncR type="table" tableValues="0 0 0 0 0 0 0.01 0.03 0.07 0.125 0.2 0.38 0.6 0.77 0.92 1 1 1 1 1 1"/><feFuncG type="table" tableValues="0 0 0 0 0 0 0.01 0.03 0.07 0.125 0.2 0.38 0.6 0.77 0.92 1 1 1 1 1 1"/><feFuncB type="table" tableValues="0 0 0 0 0 0 0.01 0.03 0.07 0.125 0.2 0.38 0.6 0.77 0.92 1 1 1 1 1 1"/></feComponentTransfer>
<feGaussianBlur in="SourceGraphic" stdDeviation="8" result="bl"/>
<feComposite in="bl" in2="ng" operator="arithmetic" k1="0.75" k2="0.850" k3="0" k4="-0.000" result="v"/>
<feComponentTransfer in="v"><feFuncR type="table" tableValues="0.925 0.91 0.894 0.871 0.839 0.843 0.855 0.863 0.863 0.824 0.69 0.502 0.298 0.133 0.027 0.027 0.039 0.047 0.071 0.082 0.027"/><feFuncG type="table" tableValues="0.769 0.722 0.682 0.643 0.588 0.616 0.682 0.741 0.769 0.776 0.773 0.729 0.667 0.612 0.569 0.502 0.424 0.345 0.275 0.188 0.043"/><feFuncB type="table" tableValues="0.651 0.588 0.533 0.439 0.31 0.322 0.361 0.396 0.412 0.42 0.431 0.424 0.388 0.357 0.333 0.298 0.255 0.212 0.165 0.11 0.027"/><feFuncA type="linear" slope="0" intercept="1"/></feComponentTransfer>
</filter>
<filter id="mcf8" filterUnits="userSpaceOnUse" x="-40" y="-40" width="430" height="412" color-interpolation-filters="sRGB">
<feTurbulence type="fractalNoise" baseFrequency="0.04" numOctaves="2" seed="36" result="t1"/>
<feColorMatrix in="t1" type="matrix" values="1 0 0 0 0 1 0 0 0 0 1 0 0 0 0 0 0 0 0 1" result="n1"/>
<feTurbulence type="fractalNoise" baseFrequency="0.14" numOctaves="1" seed="37" result="t2"/>
<feColorMatrix in="t2" type="matrix" values="1 0 0 0 0 1 0 0 0 0 1 0 0 0 0 0 0 0 0 1" result="n2"/>
<feTurbulence type="fractalNoise" baseFrequency="0.32" numOctaves="1" seed="38" result="t3"/>
<feColorMatrix in="t3" type="matrix" values="1 0 0 0 0 1 0 0 0 0 1 0 0 0 0 0 0 0 0 1" result="n3"/>
<feComposite in="n1" in2="n2" operator="arithmetic" k1="0" k2="0.400" k3="0.600" k4="0" result="n12"/>
<feComposite in="n12" in2="n3" operator="arithmetic" k1="0" k2="0.500" k3="0.500" k4="0" result="n"/>
<feComponentTransfer in="n" result="ng"><feFuncR type="table" tableValues="0 0 0 0 0 0 0.01 0.03 0.07 0.125 0.2 0.38 0.6 0.77 0.92 1 1 1 1 1 1"/><feFuncG type="table" tableValues="0 0 0 0 0 0 0.01 0.03 0.07 0.125 0.2 0.38 0.6 0.77 0.92 1 1 1 1 1 1"/><feFuncB type="table" tableValues="0 0 0 0 0 0 0.01 0.03 0.07 0.125 0.2 0.38 0.6 0.77 0.92 1 1 1 1 1 1"/></feComponentTransfer>
<feGaussianBlur in="SourceGraphic" stdDeviation="1.6" result="bl"/>
<feComposite in="bl" in2="ng" operator="arithmetic" k1="0.6" k2="0.880" k3="0" k4="-0.000" result="v"/>
<feComponentTransfer in="v" result="cm"><feFuncR type="table" tableValues="0.925 0.91 0.894 0.871 0.839 0.843 0.855 0.863 0.863 0.824 0.69 0.502 0.298 0.133 0.027 0.027 0.039 0.047 0.071 0.082 0.027"/><feFuncG type="table" tableValues="0.769 0.722 0.682 0.643 0.588 0.616 0.682 0.741 0.769 0.776 0.773 0.729 0.667 0.612 0.569 0.502 0.424 0.345 0.275 0.188 0.043"/><feFuncB type="table" tableValues="0.651 0.588 0.533 0.439 0.31 0.322 0.361 0.396 0.412 0.42 0.431 0.424 0.388 0.357 0.333 0.298 0.255 0.212 0.165 0.11 0.027"/><feFuncA type="linear" slope="0" intercept="1"/></feComponentTransfer>
<feComposite in="cm" in2="bl" operator="in"/></filter>
<g id="mwhite"><path d="M60 152.4L61.9 150.1L67.5 148.9L72.3 150.1L75.1 148.9L80.8 148.4L86.4 150.1L89.2 151.9L88.3 153.8L82.6 154.3L77 155.2L71.3 154.8L67.5 155.7L61.9 155.2ZM63.8 157.1L75.1 156.7L74.1 158.6L67.5 159ZM65.7 97.2L68.5 95.3L72.3 97.2L74.1 100L71.3 101.5L66.6 100.5ZM161 87.3L165.7 87.8L168.1 90.1L166.6 92L162.4 90.6ZM170.9 93.4L173.3 93L179.9 98.1L186.5 102.9L189.3 104.8L187.4 105.2L181.7 103.3L175.1 98.6L171.4 95.3ZM191.7 106.6L193.5 109.5L192.1 113.2L189.8 115.1L187.9 113.2L189.3 111.4L191.2 109ZM184.6 119.9L187.9 118.4L188.4 123.6L187.9 129.3L184.6 132.1L181.7 132.1L178.9 133.1L177.5 129.3L178 125.5L180.8 122.7ZM179.9 134L182.7 136.8L184.6 141.6L185 147.2L183.6 153.8L181.7 160.4L179.9 159.5L179.4 151.9L180.8 145.3L180.3 139.7ZM175.1 162.3L178.9 161.4L182.7 163.3L184.6 167L181.7 170.4L177 171.3L173.7 168.5L173.3 165.2ZM327.4 84.4L331.7 82.7L337.2 83.5L340.6 86.6L336.7 89.2L338.5 91.8L332.8 91.4L328.9 89.6ZM324.1 104.4L328.5 102.2L332.8 104L335 108.8L331.7 110.1L332.8 113.5L327.4 114L325.4 109.9ZM312.4 60.9L315.8 59.6L318.5 61.8L317.2 65.3L313.7 66.6ZM246.2 228.4L250.2 227.1L254.9 228.8L255.8 231.9L251.9 234.5L248 233.6ZM262.1 228L268 226.7L274.5 227.5L276.7 231.4L273.2 235.8L267.1 235.4L262.8 232.8ZM171 239.3L175.3 237.1L179.7 239.3L180.1 243.2L176.2 245.4L171.8 243.6ZM306.3 253.2L315.4 252.3L325.9 252.8L326.3 254.9L315.8 255.4L306.7 255.4ZM201.4 57.9L204.5 57L207.5 58.3L206.7 61.3L202.7 61.8ZM7 103.5L9.1 103.1L9.6 111.4L7.4 111.8Z" fill="#fff" stroke="#fff" stroke-width="2" stroke-linejoin="round"/><path d="M128.3 247.5L174 245.4L217.5 243.6L271.9 241.9M167.5 256.7L180.5 274.1L195.8 298L219.7 319.8M17.4 30.5L28.3 50L34.8 71.8L38.1 104.4L39.2 130.5L50 147.9M263.2 180.5L304.5 177.3L345.9 174" fill="none" stroke="#fff" stroke-width="0.9" opacity="0.75"/><path d="M195.7 159.4H188.6V139.3H205.4V159.4H199" fill="none" stroke="#fbf3e0" stroke-width="1.1"/></g>
</defs>
<g transform="translate(1047 43)">
<g clip-path="url(#mclip)">
<g filter="url(#mff1)">
<rect x="-40" y="-40" width="75.5" height="73.7" fill="#7a7a7a"/>
<rect x="35" y="-40" width="35.5" height="73.7" fill="#575757"/>
<rect x="70" y="-40" width="70.5" height="73.7" fill="#4e4e4e"/>
<rect x="140" y="-40" width="35.5" height="73.7" fill="#575757"/>
<rect x="175" y="-40" width="35.5" height="73.7" fill="#7a7a7a"/>
<rect x="210" y="-40" width="35.5" height="73.7" fill="#6c6c6c"/>
<rect x="245" y="-40" width="35.5" height="73.7" fill="#575757"/>
<rect x="280" y="-40" width="110.5" height="73.7" fill="#7a7a7a"/>
<rect x="-40" y="33.2" width="75.5" height="33.7" fill="#7a7a7a"/>
<rect x="35" y="33.2" width="35.5" height="33.7" fill="#6c6c6c"/>
<rect x="70" y="33.2" width="105.5" height="33.7" fill="#4e4e4e"/>
<rect x="175" y="33.2" width="35.5" height="33.7" fill="#575757"/>
<rect x="210" y="33.2" width="35.5" height="33.7" fill="#4e4e4e"/>
<rect x="245" y="33.2" width="35.5" height="33.7" fill="#464646"/>
<rect x="280" y="33.2" width="35.5" height="33.7" fill="#6c6c6c"/>
<rect x="315" y="33.2" width="75.5" height="33.7" fill="#7a7a7a"/>
<rect x="-40" y="66.4" width="75.5" height="33.7" fill="#6c6c6c"/>
<rect x="35" y="66.4" width="105.5" height="33.7" fill="#575757"/>
<rect x="140" y="66.4" width="35.5" height="33.7" fill="#3e3e3e"/>
<rect x="175" y="66.4" width="105.5" height="33.7" fill="#4e4e4e"/>
<rect x="280" y="66.4" width="35.5" height="33.7" fill="#6c6c6c"/>
<rect x="315" y="66.4" width="75.5" height="33.7" fill="#575757"/>
<rect x="-40" y="99.6" width="75.5" height="33.7" fill="#575757"/>
<rect x="35" y="99.6" width="70.5" height="33.7" fill="#4e4e4e"/>
<rect x="105" y="99.6" width="35.5" height="33.7" fill="#464646"/>
<rect x="140" y="99.6" width="35.5" height="33.7" fill="#3e3e3e"/>
<rect x="175" y="99.6" width="35.5" height="33.7" fill="#464646"/>
<rect x="210" y="99.6" width="35.5" height="33.7" fill="#3e3e3e"/>
<rect x="245" y="99.6" width="35.5" height="33.7" fill="#464646"/>
<rect x="280" y="99.6" width="35.5" height="33.7" fill="#4e4e4e"/>
<rect x="315" y="99.6" width="75.5" height="33.7" fill="#575757"/>
<rect x="-40" y="132.8" width="75.5" height="33.7" fill="#6c6c6c"/>
<rect x="35" y="132.8" width="70.5" height="33.7" fill="#4e4e4e"/>
<rect x="105" y="132.8" width="140.5" height="33.7" fill="#3e3e3e"/>
<rect x="245" y="132.8" width="145.5" height="33.7" fill="#4e4e4e"/>
<rect x="-40" y="166" width="75.5" height="33.7" fill="#616161"/>
<rect x="35" y="166" width="35.5" height="33.7" fill="#575757"/>
<rect x="70" y="166" width="35.5" height="33.7" fill="#4e4e4e"/>
<rect x="105" y="166" width="175.5" height="33.7" fill="#3e3e3e"/>
<rect x="280" y="166" width="35.5" height="33.7" fill="#464646"/>
<rect x="315" y="166" width="75.5" height="33.7" fill="#4e4e4e"/>
<rect x="-40" y="199.2" width="75.5" height="33.7" fill="#7a7a7a"/>
<rect x="35" y="199.2" width="35.5" height="33.7" fill="#6c6c6c"/>
<rect x="70" y="199.2" width="35.5" height="33.7" fill="#4e4e4e"/>
<rect x="105" y="199.2" width="105.5" height="33.7" fill="#3e3e3e"/>
<rect x="210" y="199.2" width="70.5" height="33.7" fill="#4e4e4e"/>
<rect x="280" y="199.2" width="35.5" height="33.7" fill="#464646"/>
<rect x="315" y="199.2" width="75.5" height="33.7" fill="#4e4e4e"/>
<rect x="-40" y="232.4" width="110.5" height="33.7" fill="#7a7a7a"/>
<rect x="70" y="232.4" width="35.5" height="33.7" fill="#575757"/>
<rect x="105" y="232.4" width="35.5" height="33.7" fill="#3e3e3e"/>
<rect x="140" y="232.4" width="105.5" height="33.7" fill="#464646"/>
<rect x="245" y="232.4" width="35.5" height="33.7" fill="#575757"/>
<rect x="280" y="232.4" width="35.5" height="33.7" fill="#616161"/>
<rect x="315" y="232.4" width="75.5" height="33.7" fill="#6c6c6c"/>
<rect x="-40" y="265.6" width="75.5" height="33.7" fill="#464646"/>
<rect x="35" y="265.6" width="35.5" height="33.7" fill="#616161"/>
<rect x="70" y="265.6" width="70.5" height="33.7" fill="#6c6c6c"/>
<rect x="140" y="265.6" width="35.5" height="33.7" fill="#575757"/>
<rect x="175" y="265.6" width="35.5" height="33.7" fill="#464646"/>
<rect x="210" y="265.6" width="35.5" height="33.7" fill="#4e4e4e"/>
<rect x="245" y="265.6" width="35.5" height="33.7" fill="#6c6c6c"/>
<rect x="280" y="265.6" width="110.5" height="33.7" fill="#7a7a7a"/>
<rect x="-40" y="298.8" width="75.5" height="73.7" fill="#3e3e3e"/>
<rect x="35" y="298.8" width="35.5" height="73.7" fill="#575757"/>
<rect x="70" y="298.8" width="70.5" height="73.7" fill="#7a7a7a"/>
<rect x="140" y="298.8" width="35.5" height="73.7" fill="#6c6c6c"/>
<rect x="175" y="298.8" width="70.5" height="73.7" fill="#575757"/>
<rect x="245" y="298.8" width="35.5" height="73.7" fill="#616161"/>
<rect x="280" y="298.8" width="110.5" height="73.7" fill="#7a7a7a"/>
<path d="M0.5 46L1.5 42.1L5.3 38.3L10 35.5L15.7 31.7L21.3 26L26 20.4L30.8 14.2L34.5 11.4L40.2 9.5L49.6 8.6L87.4 7.2L134.6 5.7L173 3.9L220.2 2L257.9 0.1L261.7 0.4L267.4 2L276.8 7.2L295.7 22.3L314.6 38.3L333.5 54.3L341 61.9L344.3 68.5L346.2 77.9L346.5 137L346.5 197L345.9 225.3L344.8 244.2L342.9 263.1L341 281.9L339.1 293.3L335.3 301.8L328.7 310.3L319.3 318.8L309.9 323.5L300.4 325.8L286.3 327.7L248.5 328.7L173 330.1L35.5 331.5L27.9 330.6L24.1 327.2L21.3 319.7L19 310.3L16.1 303.7L15.2 291.4L14.7 263.1L13.3 253.6L9 246.1L4.3 234.8L1 215.9L0.1 197Z" fill="none" stroke="#a8a8a8" stroke-width="12" opacity="0.30"/>
</g>
<g filter="url(#mcf1)"><rect x="64.1" y="6.8" width="9" height="7.6" fill="#909090" transform="rotate(-35 68.6 10.6)"/><ellipse cx="149.2" cy="14" rx="2.4" ry="1.6" fill="#9b9b9b" transform="rotate(35 149.2 14)"/><ellipse cx="194.8" cy="23.2" rx="4.6" ry="2" fill="#7b7b7b" transform="rotate(90 194.8 23.2)"/><rect x="206.2" y="18.1" width="4.4" height="7" fill="#8e8e8e" transform="rotate(-35 208.4 21.6)"/><rect x="183.4" y="28" width="7.2" height="3.9" fill="#858585" transform="rotate(0 187 29.9)"/><ellipse cx="198.1" cy="30.4" rx="3" ry="2.3" fill="#6c6c6c" transform="rotate(35 198.1 30.4)"/><rect x="222.5" y="22.7" width="12" height="4.9" fill="#9e9e9e" transform="rotate(0 228.4 25.2)"/><rect x="219" y="9.5" width="12.3" height="7.7" fill="#777777" transform="rotate(35 225.1 13.4)"/><rect x="248.4" y="-0.7" width="6.8" height="3.5" fill="#8b8b8b" transform="rotate(0 251.8 1)"/><rect x="279.5" y="22.8" width="10.4" height="6.1" fill="#6e6e6e" transform="rotate(0 284.7 25.9)"/><ellipse cx="296.1" cy="28.1" rx="4" ry="2.7" fill="#7a7a7a" transform="rotate(35 296.1 28.1)"/><ellipse cx="282.3" cy="23.7" rx="6.3" ry="1.6" fill="#8a8a8a" transform="rotate(60 282.3 23.7)"/><ellipse cx="7.6" cy="41.7" rx="5.8" ry="1.7" fill="#919191" transform="rotate(0 7.6 41.7)"/><rect x="19.6" y="42.8" width="4.2" height="7.5" fill="#969696" transform="rotate(35 21.6 46.6)"/><rect x="11.6" y="59.6" width="3.3" height="3.6" fill="#8b8b8b" transform="rotate(90 13.2 61.4)"/><rect x="21.3" y="43.4" width="5.5" height="7.4" fill="#797979" transform="rotate(0 24.1 47.1)"/><rect x="17.4" y="35.4" width="11.9" height="6.1" fill="#6d6d6d" transform="rotate(0 23.3 38.4)"/><ellipse cx="64.6" cy="56.5" rx="2.9" ry="3.4" fill="#8b8b8b" transform="rotate(0 64.6 56.5)"/><ellipse cx="64.6" cy="40.9" rx="4.2" ry="1.6" fill="#787878" transform="rotate(0 64.6 40.9)"/><ellipse cx="59.1" cy="56.5" rx="4.5" ry="1.5" fill="#949494" transform="rotate(60 59.1 56.5)"/><ellipse cx="134.7" cy="50.2" rx="2.4" ry="2" fill="#7d7d7d" transform="rotate(0 134.7 50.2)"/><ellipse cx="179.8" cy="51.1" rx="4" ry="2.2" fill="#6f6f6f" transform="rotate(60 179.8 51.1)"/><ellipse cx="312.2" cy="44.4" rx="1.8" ry="2.7" fill="#737373" transform="rotate(60 312.2 44.4)"/><ellipse cx="310.3" cy="53.1" rx="4.1" ry="3.4" fill="#717171" transform="rotate(0 310.3 53.1)"/><rect x="280" y="51.4" width="3.7" height="5.6" fill="#787878" transform="rotate(0 281.8 54.2)"/><ellipse cx="326.3" cy="55.6" rx="5.5" ry="1.4" fill="#949494" transform="rotate(0 326.3 55.6)"/><ellipse cx="10.4" cy="67.2" rx="3.1" ry="1.5" fill="#959595" transform="rotate(90 10.4 67.2)"/><ellipse cx="5.6" cy="75.8" rx="3.5" ry="1.6" fill="#7b7b7b" transform="rotate(90 5.6 75.8)"/><ellipse cx="106.4" cy="98" rx="4.1" ry="1.8" fill="#959595" transform="rotate(0 106.4 98)"/><rect x="214.2" y="69.3" width="8.6" height="4.3" fill="#858585" transform="rotate(0 218.5 71.5)"/><rect x="253.9" y="94.2" width="8.8" height="5" fill="#878787" transform="rotate(-35 258.3 96.8)"/><ellipse cx="309.8" cy="81" rx="2.5" ry="3.1" fill="#717171" transform="rotate(0 309.8 81)"/><rect x="302.1" y="65.6" width="8.6" height="6.9" fill="#8b8b8b" transform="rotate(0 306.4 69)"/><ellipse cx="312.2" cy="85.8" rx="3" ry="1.9" fill="#757575" transform="rotate(-35 312.2 85.8)"/><ellipse cx="330.7" cy="90.2" rx="5.4" ry="3.1" fill="#878787" transform="rotate(90 330.7 90.2)"/><rect x="27.8" y="122.9" width="5.3" height="5.4" fill="#7a7a7a" transform="rotate(-35 30.4 125.6)"/><ellipse cx="271.2" cy="111.2" rx="3.4" ry="3.9" fill="#6d6d6d" transform="rotate(0 271.2 111.2)"/><rect x="302.3" y="100.6" width="9.8" height="6.4" fill="#7f7f7f" transform="rotate(0 307.2 103.8)"/><ellipse cx="341" cy="100" rx="2.3" ry="4" fill="#737373" transform="rotate(0 341 100)"/><ellipse cx="5.6" cy="136.1" rx="3.4" ry="2.6" fill="#909090" transform="rotate(0 5.6 136.1)"/><rect x="19.2" y="153.4" width="8.4" height="4.3" fill="#898989" transform="rotate(60 23.4 155.6)"/><ellipse cx="65.1" cy="134.5" rx="2.1" ry="1.4" fill="#868686" transform="rotate(60 65.1 134.5)"/><rect x="237.1" y="162.2" width="5.6" height="5.6" fill="#888888" transform="rotate(35 239.9 165)"/><rect x="21.9" y="180" width="4.6" height="7.7" fill="#828282" transform="rotate(0 24.1 183.9)"/><ellipse cx="56.7" cy="194.4" rx="3.4" ry="2" fill="#888888" transform="rotate(35 56.7 194.4)"/><ellipse cx="288.3" cy="168.1" rx="6.5" ry="1.8" fill="#929292" transform="rotate(90 288.3 168.1)"/><rect x="19.9" y="222" width="6.7" height="2.9" fill="#9d9d9d" transform="rotate(90 23.2 223.5)"/><ellipse cx="14.8" cy="204.2" rx="5.6" ry="3.4" fill="#999999" transform="rotate(60 14.8 204.2)"/><ellipse cx="28.3" cy="216.6" rx="5.9" ry="2.6" fill="#767676" transform="rotate(0 28.3 216.6)"/><rect x="-2.4" y="197.4" width="7.9" height="5.5" fill="#717171" transform="rotate(0 1.6 200.1)"/><rect x="44.7" y="202.3" width="9.6" height="3.8" fill="#848484" transform="rotate(35 49.5 204.2)"/><ellipse cx="61.8" cy="210.7" rx="2.8" ry="1.6" fill="#9d9d9d" transform="rotate(0 61.8 210.7)"/><rect x="52.4" y="207.8" width="12.9" height="5.9" fill="#7b7b7b" transform="rotate(-35 58.9 210.8)"/><rect x="241" y="228.8" width="5.3" height="2.8" fill="#969696" transform="rotate(90 243.6 230.1)"/><rect x="243" y="228" width="10.4" height="2.6" fill="#939393" transform="rotate(-35 248.2 229.3)"/><ellipse cx="18" cy="240.4" rx="3.1" ry="1.4" fill="#6f6f6f" transform="rotate(0 18 240.4)"/><rect x="11.5" y="256.8" width="8.1" height="4.5" fill="#797979" transform="rotate(0 15.5 259)"/><ellipse cx="34.1" cy="233.9" rx="1.8" ry="3.1" fill="#7b7b7b" transform="rotate(0 34.1 233.9)"/><ellipse cx="13.2" cy="235.9" rx="3.6" ry="3.5" fill="#7e7e7e" transform="rotate(0 13.2 235.9)"/><rect x="18.7" y="241.3" width="5.1" height="5.8" fill="#707070" transform="rotate(0 21.3 244.3)"/><ellipse cx="64.7" cy="261" rx="3.1" ry="2" fill="#909090" transform="rotate(0 64.7 261)"/><ellipse cx="46.8" cy="261.7" rx="3.3" ry="3.5" fill="#919191" transform="rotate(0 46.8 261.7)"/><rect x="57.6" y="242.8" width="10.4" height="6.7" fill="#707070" transform="rotate(-35 62.8 246.1)"/><ellipse cx="43.3" cy="238.1" rx="5" ry="3.1" fill="#7e7e7e" transform="rotate(60 43.3 238.1)"/><rect x="86.4" y="256" width="3.9" height="4.4" fill="#717171" transform="rotate(90 88.3 258.3)"/><ellipse cx="171.2" cy="252.6" rx="3.7" ry="2.1" fill="#8a8a8a" transform="rotate(90 171.2 252.6)"/><rect x="252.9" y="258.5" width="10.3" height="7.8" fill="#989898" transform="rotate(-35 258.1 262.4)"/><ellipse cx="305.4" cy="243.9" rx="5.3" ry="3.6" fill="#848484" transform="rotate(0 305.4 243.9)"/><rect x="312.1" y="238.8" width="6.5" height="3.7" fill="#747474" transform="rotate(90 315.4 240.7)"/><rect x="320.8" y="248.3" width="3.5" height="3" fill="#929292" transform="rotate(0 322.5 249.8)"/><ellipse cx="58.6" cy="284.5" rx="5.5" ry="2.7" fill="#858585" transform="rotate(35 58.6 284.5)"/><ellipse cx="100.2" cy="276.6" rx="6.3" ry="3.3" fill="#6f6f6f" transform="rotate(60 100.2 276.6)"/><ellipse cx="97.5" cy="283.4" rx="2.4" ry="2.6" fill="#777777" transform="rotate(-35 97.5 283.4)"/><rect x="76.2" y="268.3" width="7.5" height="6.9" fill="#808080" transform="rotate(35 79.9 271.7)"/><ellipse cx="126.9" cy="287.9" rx="2.7" ry="3.8" fill="#7a7a7a" transform="rotate(0 126.9 287.9)"/><rect x="120.8" y="283.3" width="12.2" height="6.2" fill="#9e9e9e" transform="rotate(0 126.9 286.4)"/><ellipse cx="127.2" cy="275.5" rx="4.1" ry="2.9" fill="#8d8d8d" transform="rotate(0 127.2 275.5)"/><ellipse cx="147.5" cy="266.7" rx="4" ry="3.3" fill="#888888" transform="rotate(0 147.5 266.7)"/><ellipse cx="271.4" cy="278.6" rx="6.2" ry="2" fill="#9d9d9d" transform="rotate(0 271.4 278.6)"/><ellipse cx="265.4" cy="280.2" rx="4.3" ry="3.6" fill="#909090" transform="rotate(0 265.4 280.2)"/><ellipse cx="253.9" cy="267" rx="3" ry="1.4" fill="#868686" transform="rotate(35 253.9 267)"/><rect x="277.9" y="289.4" width="10.6" height="6" fill="#909090" transform="rotate(0 283.2 292.4)"/><rect x="297.8" y="283.8" width="10.8" height="6.4" fill="#9d9d9d" transform="rotate(60 303.2 287)"/><ellipse cx="296.8" cy="267.1" rx="6.4" ry="1.5" fill="#979797" transform="rotate(90 296.8 267.1)"/><ellipse cx="311.3" cy="276.2" rx="2.1" ry="3.7" fill="#808080" transform="rotate(-35 311.3 276.2)"/><rect x="320.6" y="281.3" width="10.2" height="3.8" fill="#747474" transform="rotate(90 325.7 283.2)"/><ellipse cx="319.1" cy="288.8" rx="3.5" ry="3.6" fill="#949494" transform="rotate(90 319.1 288.8)"/><rect x="333.1" y="280.5" width="5.4" height="6.1" fill="#7c7c7c" transform="rotate(0 335.8 283.6)"/><rect x="324.5" y="294.8" width="9.2" height="7.1" fill="#767676" transform="rotate(60 329.1 298.3)"/><ellipse cx="24.4" cy="321.6" rx="2.7" ry="3.8" fill="#999999" transform="rotate(0 24.4 321.6)"/><rect x="55.5" y="322.9" width="3.4" height="4.6" fill="#878787" transform="rotate(-35 57.2 325.2)"/><rect x="79.7" y="296.1" width="7.3" height="6.6" fill="#898989" transform="rotate(0 83.4 299.4)"/><rect x="78.7" y="312" width="11.7" height="7.1" fill="#9c9c9c" transform="rotate(0 84.5 315.6)"/><ellipse cx="96.9" cy="315.9" rx="3.1" ry="2.2" fill="#8d8d8d" transform="rotate(0 96.9 315.9)"/><ellipse cx="130.1" cy="311.7" rx="2.9" ry="1.5" fill="#999999" transform="rotate(60 130.1 311.7)"/><rect x="116.3" y="302.3" width="12.3" height="6.7" fill="#888888" transform="rotate(0 122.4 305.6)"/><ellipse cx="105.6" cy="329.8" rx="1.6" ry="1.3" fill="#717171" transform="rotate(-35 105.6 329.8)"/><rect x="109.7" y="317.8" width="7.7" height="7.1" fill="#808080" transform="rotate(-35 113.6 321.4)"/><ellipse cx="133.7" cy="307.3" rx="2" ry="2.7" fill="#707070" transform="rotate(-35 133.7 307.3)"/><ellipse cx="142.4" cy="306.9" rx="3.5" ry="1.4" fill="#8c8c8c" transform="rotate(-35 142.4 306.9)"/><ellipse cx="174.5" cy="319.2" rx="6.2" ry="3.5" fill="#979797" transform="rotate(-35 174.5 319.2)"/><rect x="237" y="313.4" width="3.1" height="6.2" fill="#7b7b7b" transform="rotate(90 238.6 316.5)"/><ellipse cx="272.7" cy="321.3" rx="3.3" ry="3" fill="#7a7a7a" transform="rotate(0 272.7 321.3)"/><ellipse cx="261.2" cy="322.4" rx="1.7" ry="3.4" fill="#6c6c6c" transform="rotate(0 261.2 322.4)"/><ellipse cx="302.2" cy="321.4" rx="5.4" ry="3.3" fill="#6e6e6e" transform="rotate(0 302.2 321.4)"/><rect x="316.4" y="302.8" width="12.3" height="2.7" fill="#949494" transform="rotate(0 322.6 304.1)"/><rect x="318.7" y="310.7" width="6" height="2.5" fill="#848484" transform="rotate(0 321.6 311.9)"/><rect x="203" y="212.5" width="32" height="26.5" rx="4" fill="#8f8f8f"/><ellipse cx="274.5" cy="156" rx="9.5" ry="9" fill="#878787"/><ellipse cx="101" cy="100.5" rx="12" ry="5" fill="#8f8f8f"/><ellipse cx="76" cy="96" rx="6" ry="5" fill="#8f8f8f"/><ellipse cx="196.5" cy="133.5" rx="4.5" ry="4" fill="#8f8f8f"/><circle cx="250" cy="86.5" r="4.2" fill="#a3a3a3"/><ellipse cx="98" cy="157" rx="7" ry="9" fill="#878787"/><ellipse cx="70" cy="161" rx="14" ry="3.5" fill="#878787"/><ellipse cx="255" cy="239" rx="10" ry="6" fill="#878787"/><ellipse cx="174" cy="244" rx="9" ry="5" fill="#7d7d7d"/><ellipse cx="33" cy="19" rx="9" ry="8" fill="#808080"/><ellipse cx="334" cy="84" rx="10" ry="26" fill="#808080"/><ellipse cx="296" cy="98" rx="7" ry="11" fill="#878787"/></g>
<use href="#mwhite"/>
</g>
<g fill="none" stroke="#f00" stroke-width="1.9"><circle cx="78.8" cy="151.2" r="22.4"/><circle cx="274.6" cy="156" r="16.3"/><circle cx="219.1" cy="224.8" r="20.7"/><circle cx="259.4" cy="235" r="18.9"/></g>
<text x="33.2" y="53.3" font-size="29.5" font-weight="bold" textLength="25.5" lengthAdjust="spacingAndGlyphs">f1</text>
<text x="32" y="309" font-size="30.5" font-weight="bold" textLength="157" lengthAdjust="spacingAndGlyphs">1986/06/03</text>
</g>
<g transform="translate(1427 43)">
<g clip-path="url(#mclip)">
<g filter="url(#mff2)">
<rect x="-40" y="-40" width="75.5" height="73.7" fill="#919191"/>
<rect x="35" y="-40" width="35.5" height="73.7" fill="#7a7a7a"/>
<rect x="70" y="-40" width="35.5" height="73.7" fill="#6c6c6c"/>
<rect x="105" y="-40" width="35.5" height="73.7" fill="#616161"/>
<rect x="140" y="-40" width="35.5" height="73.7" fill="#575757"/>
<rect x="175" y="-40" width="35.5" height="73.7" fill="#4e4e4e"/>
<rect x="210" y="-40" width="35.5" height="73.7" fill="#575757"/>
<rect x="245" y="-40" width="35.5" height="73.7" fill="#616161"/>
<rect x="280" y="-40" width="110.5" height="73.7" fill="#7a7a7a"/>
<rect x="-40" y="33.2" width="75.5" height="33.7" fill="#919191"/>
<rect x="35" y="33.2" width="35.5" height="33.7" fill="#7a7a7a"/>
<rect x="70" y="33.2" width="35.5" height="33.7" fill="#575757"/>
<rect x="105" y="33.2" width="140.5" height="33.7" fill="#4e4e4e"/>
<rect x="245" y="33.2" width="35.5" height="33.7" fill="#575757"/>
<rect x="280" y="33.2" width="110.5" height="33.7" fill="#7a7a7a"/>
<rect x="-40" y="66.4" width="75.5" height="33.7" fill="#7a7a7a"/>
<rect x="35" y="66.4" width="35.5" height="33.7" fill="#6c6c6c"/>
<rect x="70" y="66.4" width="70.5" height="33.7" fill="#575757"/>
<rect x="140" y="66.4" width="35.5" height="33.7" fill="#4e4e4e"/>
<rect x="175" y="66.4" width="70.5" height="33.7" fill="#575757"/>
<rect x="245" y="66.4" width="35.5" height="33.7" fill="#4e4e4e"/>
<rect x="280" y="66.4" width="35.5" height="33.7" fill="#6c6c6c"/>
<rect x="315" y="66.4" width="75.5" height="33.7" fill="#7a7a7a"/>
<rect x="-40" y="99.6" width="75.5" height="33.7" fill="#7a7a7a"/>
<rect x="35" y="99.6" width="70.5" height="33.7" fill="#575757"/>
<rect x="105" y="99.6" width="175.5" height="33.7" fill="#4e4e4e"/>
<rect x="280" y="99.6" width="110.5" height="33.7" fill="#575757"/>
<rect x="-40" y="132.8" width="75.5" height="33.7" fill="#7a7a7a"/>
<rect x="35" y="132.8" width="70.5" height="33.7" fill="#575757"/>
<rect x="105" y="132.8" width="35.5" height="33.7" fill="#4e4e4e"/>
<rect x="140" y="132.8" width="35.5" height="33.7" fill="#3e3e3e"/>
<rect x="175" y="132.8" width="35.5" height="33.7" fill="#464646"/>
<rect x="210" y="132.8" width="35.5" height="33.7" fill="#4e4e4e"/>
<rect x="245" y="132.8" width="35.5" height="33.7" fill="#575757"/>
<rect x="280" y="132.8" width="110.5" height="33.7" fill="#4e4e4e"/>
<rect x="-40" y="166" width="75.5" height="33.7" fill="#868686"/>
<rect x="35" y="166" width="35.5" height="33.7" fill="#6c6c6c"/>
<rect x="70" y="166" width="70.5" height="33.7" fill="#4e4e4e"/>
<rect x="140" y="166" width="105.5" height="33.7" fill="#3e3e3e"/>
<rect x="245" y="166" width="70.5" height="33.7" fill="#464646"/>
<rect x="315" y="166" width="75.5" height="33.7" fill="#4e4e4e"/>
<rect x="-40" y="199.2" width="75.5" height="33.7" fill="#919191"/>
<rect x="35" y="199.2" width="35.5" height="33.7" fill="#7a7a7a"/>
<rect x="70" y="199.2" width="35.5" height="33.7" fill="#4e4e4e"/>
<rect x="105" y="199.2" width="105.5" height="33.7" fill="#3e3e3e"/>
<rect x="210" y="199.2" width="70.5" height="33.7" fill="#4e4e4e"/>
<rect x="280" y="199.2" width="35.5" height="33.7" fill="#464646"/>
<rect x="315" y="199.2" width="75.5" height="33.7" fill="#575757"/>
<rect x="-40" y="232.4" width="75.5" height="33.7" fill="#919191"/>
<rect x="35" y="232.4" width="35.5" height="33.7" fill="#7a7a7a"/>
<rect x="70" y="232.4" width="35.5" height="33.7" fill="#575757"/>
<rect x="105" y="232.4" width="70.5" height="33.7" fill="#3e3e3e"/>
<rect x="175" y="232.4" width="70.5" height="33.7" fill="#464646"/>
<rect x="245" y="232.4" width="35.5" height="33.7" fill="#575757"/>
<rect x="280" y="232.4" width="35.5" height="33.7" fill="#616161"/>
<rect x="315" y="232.4" width="75.5" height="33.7" fill="#7a7a7a"/>
<rect x="-40" y="265.6" width="75.5" height="33.7" fill="#4e4e4e"/>
<rect x="35" y="265.6" width="35.5" height="33.7" fill="#575757"/>
<rect x="70" y="265.6" width="70.5" height="33.7" fill="#7a7a7a"/>
<rect x="140" y="265.6" width="35.5" height="33.7" fill="#6c6c6c"/>
<rect x="175" y="265.6" width="35.5" height="33.7" fill="#464646"/>
<rect x="210" y="265.6" width="35.5" height="33.7" fill="#4e4e4e"/>
<rect x="245" y="265.6" width="35.5" height="33.7" fill="#575757"/>
<rect x="280" y="265.6" width="110.5" height="33.7" fill="#7a7a7a"/>
<rect x="-40" y="298.8" width="75.5" height="73.7" fill="#464646"/>
<rect x="35" y="298.8" width="35.5" height="73.7" fill="#616161"/>
<rect x="70" y="298.8" width="35.5" height="73.7" fill="#7a7a7a"/>
<rect x="105" y="298.8" width="35.5" height="73.7" fill="#919191"/>
<rect x="140" y="298.8" width="35.5" height="73.7" fill="#6c6c6c"/>
<rect x="175" y="298.8" width="35.5" height="73.7" fill="#4e4e4e"/>
<rect x="210" y="298.8" width="35.5" height="73.7" fill="#575757"/>
<rect x="245" y="298.8" width="35.5" height="73.7" fill="#616161"/>
<rect x="280" y="298.8" width="110.5" height="73.7" fill="#7a7a7a"/>
<path d="M0.5 46L1.5 42.1L5.3 38.3L10 35.5L15.7 31.7L21.3 26L26 20.4L30.8 14.2L34.5 11.4L40.2 9.5L49.6 8.6L87.4 7.2L134.6 5.7L173 3.9L220.2 2L257.9 0.1L261.7 0.4L267.4 2L276.8 7.2L295.7 22.3L314.6 38.3L333.5 54.3L341 61.9L344.3 68.5L346.2 77.9L346.5 137L346.5 197L345.9 225.3L344.8 244.2L342.9 263.1L341 281.9L339.1 293.3L335.3 301.8L328.7 310.3L319.3 318.8L309.9 323.5L300.4 325.8L286.3 327.7L248.5 328.7L173 330.1L35.5 331.5L27.9 330.6L24.1 327.2L21.3 319.7L19 310.3L16.1 303.7L15.2 291.4L14.7 263.1L13.3 253.6L9 246.1L4.3 234.8L1 215.9L0.1 197Z" fill="none" stroke="#a8a8a8" stroke-width="12" opacity="0.45"/>
</g>
<g filter="url(#mcf2)"><ellipse cx="28.9" cy="32.5" rx="3.1" ry="1.8" fill="#8b8b8b" transform="rotate(60 28.9 32.5)"/><ellipse cx="32" cy="32" rx="5" ry="3.5" fill="#9e9e9e" transform="rotate(60 32 32)"/><rect x="43.1" y="22.6" width="7.3" height="7.9" fill="#a9a9a9" transform="rotate(0 46.8 26.5)"/><ellipse cx="59.2" cy="15.3" rx="2.8" ry="1.8" fill="#818181" transform="rotate(35 59.2 15.3)"/><rect x="64.1" y="28.1" width="4.2" height="7.9" fill="#acacac" transform="rotate(60 66.1 32)"/><rect x="60.5" y="25.5" width="11.2" height="3.2" fill="#a5a5a5" transform="rotate(35 66.1 27.1)"/><rect x="62.8" y="22.9" width="4.5" height="4.5" fill="#9d9d9d" transform="rotate(35 65 25.2)"/><rect x="86.5" y="16.2" width="12.7" height="3.4" fill="#7f7f7f" transform="rotate(35 92.9 17.9)"/><rect x="81.5" y="5.5" width="3.3" height="5.3" fill="#7e7e7e" transform="rotate(60 83.2 8.2)"/><rect x="119.9" y="11.9" width="7.2" height="7" fill="#7f7f7f" transform="rotate(90 123.5 15.4)"/><rect x="216.6" y="25.3" width="8.4" height="6.3" fill="#7f7f7f" transform="rotate(90 220.8 28.4)"/><ellipse cx="279.6" cy="21.9" rx="1.6" ry="1.6" fill="#7c7c7c" transform="rotate(0 279.6 21.9)"/><ellipse cx="274.6" cy="11.8" rx="2.4" ry="1.4" fill="#a8a8a8" transform="rotate(35 274.6 11.8)"/><ellipse cx="280.9" cy="16.4" rx="3.7" ry="2.7" fill="#a6a6a6" transform="rotate(0 280.9 16.4)"/><ellipse cx="289.9" cy="21.6" rx="6" ry="2.1" fill="#969696" transform="rotate(0 289.9 21.6)"/><rect x="278.9" y="26.3" width="10.1" height="3.9" fill="#969696" transform="rotate(35 284 28.2)"/><rect x="4.3" y="38.8" width="12.2" height="5.2" fill="#808080" transform="rotate(0 10.4 41.4)"/><ellipse cx="9.9" cy="63.9" rx="5.5" ry="3.1" fill="#939393" transform="rotate(0 9.9 63.9)"/><rect x="27.3" y="48.9" width="7.9" height="3.4" fill="#8b8b8b" transform="rotate(60 31.3 50.6)"/><ellipse cx="8.1" cy="59.2" rx="2.9" ry="3.1" fill="#9b9b9b" transform="rotate(-35 8.1 59.2)"/><rect x="13.6" y="34.8" width="12" height="4.5" fill="#a7a7a7" transform="rotate(0 19.6 37)"/><ellipse cx="3.8" cy="60.4" rx="2.1" ry="3.3" fill="#838383" transform="rotate(0 3.8 60.4)"/><rect x="19.7" y="33.3" width="3.8" height="6.7" fill="#9a9a9a" transform="rotate(90 21.6 36.6)"/><ellipse cx="55.8" cy="47.3" rx="2.1" ry="2.6" fill="#929292" transform="rotate(0 55.8 47.3)"/><ellipse cx="65.3" cy="50.8" rx="2.1" ry="3.3" fill="#9c9c9c" transform="rotate(0 65.3 50.8)"/><ellipse cx="51.6" cy="60" rx="3" ry="3.1" fill="#a0a0a0" transform="rotate(90 51.6 60)"/><rect x="46" y="35.6" width="4.4" height="5.4" fill="#8e8e8e" transform="rotate(90 48.2 38.3)"/><rect x="45" y="41" width="6.1" height="5.1" fill="#a6a6a6" transform="rotate(0 48.1 43.5)"/><rect x="84.4" y="47.9" width="8.5" height="6" fill="#939393" transform="rotate(90 88.7 50.9)"/><rect x="124" y="55.1" width="6.1" height="7" fill="#8b8b8b" transform="rotate(-35 127.1 58.5)"/><ellipse cx="148.6" cy="44.9" rx="5.4" ry="3.5" fill="#7f7f7f" transform="rotate(0 148.6 44.9)"/><ellipse cx="276.3" cy="53.1" rx="3.2" ry="2" fill="#9b9b9b" transform="rotate(-35 276.3 53.1)"/><ellipse cx="295" cy="56.1" rx="6.4" ry="3.4" fill="#a9a9a9" transform="rotate(90 295 56.1)"/><rect x="298.3" y="38.8" width="12" height="7.2" fill="#9c9c9c" transform="rotate(90 304.4 42.4)"/><rect x="299.4" y="33.5" width="8.4" height="5.9" fill="#9c9c9c" transform="rotate(-35 303.6 36.5)"/><rect x="289.9" y="48.8" width="4.8" height="4.7" fill="#888888" transform="rotate(60 292.3 51.2)"/><ellipse cx="311.4" cy="53.5" rx="1.9" ry="2.2" fill="#9f9f9f" transform="rotate(0 311.4 53.5)"/><rect x="313.8" y="49.5" width="7" height="6.4" fill="#a4a4a4" transform="rotate(-35 317.2 52.6)"/><ellipse cx="34.6" cy="89.8" rx="1.7" ry="3.6" fill="#a1a1a1" transform="rotate(90 34.6 89.8)"/><rect x="16.4" y="63.6" width="4.8" height="7.5" fill="#a4a4a4" transform="rotate(0 18.8 67.3)"/><ellipse cx="24.8" cy="91.3" rx="3.3" ry="3" fill="#929292" transform="rotate(35 24.8 91.3)"/><ellipse cx="30.2" cy="73.9" rx="3.8" ry="3.2" fill="#8e8e8e" transform="rotate(0 30.2 73.9)"/><ellipse cx="32.9" cy="88.3" rx="5.2" ry="1.7" fill="#a9a9a9" transform="rotate(90 32.9 88.3)"/><rect x="38.5" y="88.7" width="8.5" height="7.1" fill="#a8a8a8" transform="rotate(35 42.8 92.2)"/><rect x="63.1" y="95" width="7" height="4.7" fill="#898989" transform="rotate(0 66.5 97.3)"/><ellipse cx="87.4" cy="71.8" rx="1.5" ry="1.3" fill="#a0a0a0" transform="rotate(0 87.4 71.8)"/><ellipse cx="133.1" cy="77.3" rx="5.5" ry="3.4" fill="#7b7b7b" transform="rotate(60 133.1 77.3)"/><ellipse cx="196.3" cy="90.6" rx="6.3" ry="3.2" fill="#9f9f9f" transform="rotate(0 196.3 90.6)"/><ellipse cx="244.1" cy="88.1" rx="4.1" ry="2.1" fill="#929292" transform="rotate(90 244.1 88.1)"/><ellipse cx="278.6" cy="81.3" rx="5.5" ry="3.3" fill="#909090" transform="rotate(-35 278.6 81.3)"/><ellipse cx="297.3" cy="99.5" rx="5" ry="3.7" fill="#848484" transform="rotate(-35 297.3 99.5)"/><rect x="308.9" y="95.7" width="7.5" height="7.1" fill="#a1a1a1" transform="rotate(60 312.7 99.3)"/><rect x="293.7" y="64.4" width="10.1" height="6.8" fill="#a4a4a4" transform="rotate(90 298.8 67.8)"/><rect x="327.9" y="76.9" width="6.3" height="5.1" fill="#888888" transform="rotate(0 331 79.5)"/><rect x="337" y="73.2" width="12.7" height="5.2" fill="#969696" transform="rotate(90 343.3 75.8)"/><ellipse cx="320.2" cy="84.4" rx="3.4" ry="2.4" fill="#808080" transform="rotate(-35 320.2 84.4)"/><ellipse cx="335.2" cy="85.9" rx="1.7" ry="3.2" fill="#9c9c9c" transform="rotate(90 335.2 85.9)"/><ellipse cx="325.7" cy="92.3" rx="3" ry="3.9" fill="#969696" transform="rotate(0 325.7 92.3)"/><rect x="-2.3" y="111.4" width="8.6" height="6.9" fill="#a8a8a8" transform="rotate(60 2 114.9)"/><ellipse cx="6.3" cy="127.1" rx="4.4" ry="1.6" fill="#999999" transform="rotate(60 6.3 127.1)"/><ellipse cx="20.2" cy="116" rx="3.4" ry="3" fill="#8f8f8f" transform="rotate(0 20.2 116)"/><rect x="8.5" y="117.2" width="12.6" height="2.8" fill="#7f7f7f" transform="rotate(35 14.8 118.7)"/><ellipse cx="69" cy="127.1" rx="3.6" ry="1.7" fill="#878787" transform="rotate(35 69 127.1)"/><rect x="85.3" y="123.1" width="12.6" height="6.9" fill="#7e7e7e" transform="rotate(0 91.6 126.6)"/><rect x="307.1" y="103.8" width="11" height="5.1" fill="#868686" transform="rotate(0 312.6 106.4)"/><rect x="326.6" y="116.1" width="12.3" height="5.8" fill="#9a9a9a" transform="rotate(35 332.8 119)"/><ellipse cx="5.3" cy="136" rx="5.2" ry="2.6" fill="#7d7d7d" transform="rotate(0 5.3 136)"/><rect x="7.7" y="150.5" width="3.6" height="3.3" fill="#969696" transform="rotate(90 9.5 152.2)"/><rect x="-1.6" y="138.9" width="8.8" height="6.7" fill="#a0a0a0" transform="rotate(90 2.8 142.2)"/><ellipse cx="18.3" cy="156.4" rx="1.7" ry="2.7" fill="#838383" transform="rotate(0 18.3 156.4)"/><rect x="31.2" y="143.6" width="10.2" height="5.5" fill="#828282" transform="rotate(-35 36.3 146.4)"/><ellipse cx="90.4" cy="147" rx="3.4" ry="3.7" fill="#7d7d7d" transform="rotate(0 90.4 147)"/><ellipse cx="271.5" cy="145.2" rx="1.5" ry="3.3" fill="#a2a2a2" transform="rotate(0 271.5 145.2)"/><ellipse cx="20.9" cy="195" rx="4" ry="3.4" fill="#a8a8a8" transform="rotate(0 20.9 195)"/><ellipse cx="11" cy="193.6" rx="3.2" ry="2.9" fill="#8f8f8f" transform="rotate(35 11 193.6)"/><rect x="8.1" y="174.6" width="11" height="4.2" fill="#8e8e8e" transform="rotate(-35 13.7 176.7)"/><rect x="-2.8" y="176.3" width="10.9" height="7.8" fill="#929292" transform="rotate(60 2.7 180.2)"/><rect x="26" y="179.6" width="12.2" height="2.9" fill="#858585" transform="rotate(-35 32.1 181)"/><rect x="-0.2" y="165.8" width="6.3" height="7.1" fill="#acacac" transform="rotate(0 2.9 169.3)"/><rect x="47" y="183" width="7" height="4.8" fill="#979797" transform="rotate(0 50.5 185.4)"/><ellipse cx="69.5" cy="198" rx="1.9" ry="3.7" fill="#818181" transform="rotate(0 69.5 198)"/><ellipse cx="49.8" cy="181.1" rx="5.7" ry="3.3" fill="#acacac" transform="rotate(-35 49.8 181.1)"/><ellipse cx="3.1" cy="214.4" rx="3.2" ry="2.2" fill="#929292" transform="rotate(60 3.1 214.4)"/><rect x="21.9" y="200.1" width="10.7" height="7.1" fill="#898989" transform="rotate(35 27.2 203.6)"/><ellipse cx="6.7" cy="214.7" rx="4" ry="2.1" fill="#8c8c8c" transform="rotate(0 6.7 214.7)"/><ellipse cx="28.6" cy="206.7" rx="2.3" ry="3.2" fill="#909090" transform="rotate(35 28.6 206.7)"/><ellipse cx="3.8" cy="202.9" rx="3.6" ry="3.8" fill="#acacac" transform="rotate(60 3.8 202.9)"/><rect x="6.3" y="199.7" width="5.5" height="2.9" fill="#a5a5a5" transform="rotate(35 9.1 201.2)"/><rect x="15.6" y="198.1" width="6.5" height="5.4" fill="#828282" transform="rotate(60 18.8 200.8)"/><rect x="50.1" y="219.9" width="8.5" height="3.9" fill="#9e9e9e" transform="rotate(0 54.4 221.8)"/><rect x="51.6" y="200.3" width="3.2" height="5.7" fill="#979797" transform="rotate(0 53.1 203.2)"/><rect x="63.2" y="200" width="8.5" height="4.1" fill="#a0a0a0" transform="rotate(0 67.4 202)"/><ellipse cx="40.5" cy="231.1" rx="5.1" ry="2.1" fill="#a7a7a7" transform="rotate(0 40.5 231.1)"/><rect x="238.4" y="221.8" width="9.2" height="4" fill="#a4a4a4" transform="rotate(0 243 223.8)"/><ellipse cx="254.2" cy="231.2" rx="5.8" ry="1.4" fill="#838383" transform="rotate(35 254.2 231.2)"/><rect x="332.8" y="203.8" width="9.6" height="4.6" fill="#838383" transform="rotate(0 337.6 206.2)"/><rect x="11.5" y="253" width="11.2" height="5.4" fill="#959595" transform="rotate(35 17.2 255.7)"/><ellipse cx="33.5" cy="255.9" rx="2.3" ry="1.5" fill="#adadad" transform="rotate(0 33.5 255.9)"/><ellipse cx="26.7" cy="262.9" rx="5.2" ry="2.3" fill="#949494" transform="rotate(0 26.7 262.9)"/><rect x="12.9" y="257.9" width="12.6" height="6.3" fill="#989898" transform="rotate(-35 19.2 261)"/><ellipse cx="20.4" cy="248.8" rx="6" ry="2.1" fill="#828282" transform="rotate(0 20.4 248.8)"/><rect x="32.7" y="254.8" width="7.9" height="5.5" fill="#909090" transform="rotate(0 36.7 257.5)"/><ellipse cx="36.3" cy="237.3" rx="2.9" ry="1.8" fill="#898989" transform="rotate(0 36.3 237.3)"/><rect x="44" y="259" width="11.3" height="5.2" fill="#a6a6a6" transform="rotate(0 49.7 261.6)"/><ellipse cx="55.3" cy="257.7" rx="4.7" ry="1.4" fill="#929292" transform="rotate(35 55.3 257.7)"/><rect x="60.6" y="244.3" width="3.6" height="7.9" fill="#a9a9a9" transform="rotate(0 62.4 248.2)"/><rect x="98.3" y="254" width="5.1" height="5.8" fill="#8f8f8f" transform="rotate(-35 100.8 256.9)"/><ellipse cx="280.9" cy="243.5" rx="4.6" ry="3.1" fill="#7e7e7e" transform="rotate(35 280.9 243.5)"/><ellipse cx="333" cy="260.9" rx="5.7" ry="3.9" fill="#9a9a9a" transform="rotate(0 333 260.9)"/><rect x="311.1" y="250.6" width="10.2" height="4.5" fill="#a1a1a1" transform="rotate(0 316.2 252.8)"/><ellipse cx="333.2" cy="259.2" rx="5.9" ry="4" fill="#a7a7a7" transform="rotate(-35 333.2 259.2)"/><rect x="58.2" y="290.8" width="4.6" height="6" fill="#acacac" transform="rotate(-35 60.4 293.8)"/><ellipse cx="84.9" cy="277" rx="6.1" ry="2.7" fill="#909090" transform="rotate(60 84.9 277)"/><ellipse cx="102.7" cy="295.8" rx="2.1" ry="1.3" fill="#878787" transform="rotate(-35 102.7 295.8)"/><ellipse cx="77.2" cy="289.9" rx="6.4" ry="3.4" fill="#898989" transform="rotate(0 77.2 289.9)"/><rect x="101.1" y="293.9" width="7.2" height="4.2" fill="#a7a7a7" transform="rotate(90 104.7 296)"/><ellipse cx="121.8" cy="291" rx="4.4" ry="1.3" fill="#9c9c9c" transform="rotate(90 121.8 291)"/><ellipse cx="134.6" cy="268.8" rx="3.8" ry="2.8" fill="#8a8a8a" transform="rotate(90 134.6 268.8)"/><rect x="103.7" y="264.1" width="11.7" height="7.7" fill="#8f8f8f" transform="rotate(0 109.5 267.9)"/><ellipse cx="110.7" cy="271.4" rx="5" ry="2" fill="#939393" transform="rotate(90 110.7 271.4)"/><ellipse cx="165.7" cy="294.5" rx="3.7" ry="2" fill="#999999" transform="rotate(-35 165.7 294.5)"/><ellipse cx="153.5" cy="269" rx="4.2" ry="2.2" fill="#8d8d8d" transform="rotate(60 153.5 269)"/><rect x="137.9" y="287.3" width="4.5" height="6.2" fill="#7d7d7d" transform="rotate(35 140.2 290.4)"/><ellipse cx="267.4" cy="297.1" rx="5.1" ry="3" fill="#9f9f9f" transform="rotate(0 267.4 297.1)"/><rect x="293.6" y="274.1" width="8" height="3.8" fill="#838383" transform="rotate(0 297.5 276)"/><ellipse cx="314.2" cy="273.5" rx="4" ry="2.3" fill="#8a8a8a" transform="rotate(0 314.2 273.5)"/><ellipse cx="305.5" cy="276" rx="5.7" ry="3.5" fill="#a9a9a9" transform="rotate(90 305.5 276)"/><ellipse cx="313.8" cy="296.3" rx="2" ry="3.4" fill="#898989" transform="rotate(0 313.8 296.3)"/><ellipse cx="306.6" cy="291.2" rx="6" ry="3" fill="#999999" transform="rotate(90 306.6 291.2)"/><rect x="313.3" y="286.5" width="12.3" height="4.5" fill="#8a8a8a" transform="rotate(60 319.5 288.8)"/><ellipse cx="322.2" cy="290.4" rx="4.7" ry="2" fill="#8b8b8b" transform="rotate(0 322.2 290.4)"/><ellipse cx="44.7" cy="325.4" rx="2.4" ry="2.9" fill="#8b8b8b" transform="rotate(35 44.7 325.4)"/><rect x="41.1" y="327.1" width="9.9" height="5.9" fill="#8c8c8c" transform="rotate(0 46.1 330.1)"/><rect x="90.9" y="312.7" width="4.1" height="4.5" fill="#9c9c9c" transform="rotate(-35 93 314.9)"/><ellipse cx="96.6" cy="322.5" rx="5.5" ry="3.4" fill="#7d7d7d" transform="rotate(0 96.6 322.5)"/><rect x="67.6" y="312.3" width="6.4" height="4.5" fill="#7e7e7e" transform="rotate(0 70.8 314.6)"/><ellipse cx="96.4" cy="325.1" rx="1.6" ry="3.8" fill="#7f7f7f" transform="rotate(35 96.4 325.1)"/><ellipse cx="122.2" cy="302.7" rx="4.5" ry="3" fill="#878787" transform="rotate(-35 122.2 302.7)"/><ellipse cx="111.5" cy="314" rx="5.6" ry="1.3" fill="#969696" transform="rotate(-35 111.5 314)"/><ellipse cx="111.7" cy="322.8" rx="5.1" ry="3.6" fill="#858585" transform="rotate(90 111.7 322.8)"/><rect x="116.1" y="308.2" width="4.4" height="4.4" fill="#a6a6a6" transform="rotate(0 118.3 310.4)"/><ellipse cx="107.7" cy="314.6" rx="2.8" ry="2.9" fill="#929292" transform="rotate(90 107.7 314.6)"/><rect x="129.2" y="318.1" width="10.5" height="7.3" fill="#a6a6a6" transform="rotate(-35 134.5 321.8)"/><rect x="120.7" y="306.3" width="10.7" height="4.3" fill="#939393" transform="rotate(35 126 308.5)"/><ellipse cx="148.8" cy="307.6" rx="2.4" ry="1.3" fill="#7c7c7c" transform="rotate(35 148.8 307.6)"/><rect x="154.4" y="304.7" width="7.9" height="6.9" fill="#8d8d8d" transform="rotate(60 158.4 308.2)"/><rect x="214.5" y="325.4" width="8.1" height="7.2" fill="#959595" transform="rotate(60 218.6 329)"/><rect x="267.1" y="301" width="10.4" height="4.2" fill="#949494" transform="rotate(90 272.3 303.1)"/><rect x="260.3" y="308.7" width="8.5" height="5.1" fill="#898989" transform="rotate(60 264.5 311.2)"/><ellipse cx="313.3" cy="303.5" rx="5.8" ry="2.5" fill="#979797" transform="rotate(0 313.3 303.5)"/><rect x="292.2" y="314.8" width="12.4" height="4.2" fill="#8f8f8f" transform="rotate(60 298.4 316.9)"/><rect x="274.3" y="300.5" width="12.8" height="5.9" fill="#ababab" transform="rotate(60 280.7 303.5)"/><ellipse cx="280.3" cy="309" rx="4.6" ry="3" fill="#979797" transform="rotate(35 280.3 309)"/><ellipse cx="328.7" cy="309.8" rx="2.5" ry="1.3" fill="#7f7f7f" transform="rotate(0 328.7 309.8)"/><rect x="203" y="212.5" width="32" height="26.5" rx="4" fill="#9e9e9e"/><ellipse cx="274.5" cy="156" rx="9.5" ry="9" fill="#999999"/><ellipse cx="101" cy="100.5" rx="12" ry="5" fill="#999999"/><ellipse cx="76" cy="96" rx="6" ry="5" fill="#999999"/><ellipse cx="196.5" cy="133.5" rx="4.5" ry="4" fill="#999999"/><circle cx="250" cy="86.5" r="4.2" fill="#adadad"/><ellipse cx="98" cy="157" rx="7" ry="9" fill="#999999"/><ellipse cx="70" cy="161" rx="14" ry="3.5" fill="#999999"/><ellipse cx="255" cy="239" rx="10" ry="6" fill="#999999"/><ellipse cx="174" cy="244" rx="9" ry="5" fill="#8f8f8f"/><ellipse cx="33" cy="19" rx="9" ry="8" fill="#8f8f8f"/><ellipse cx="334" cy="84" rx="10" ry="26" fill="#8f8f8f"/><ellipse cx="296" cy="98" rx="7" ry="11" fill="#999999"/></g>
<use href="#mwhite"/>
</g>
<g fill="none" stroke="#f00" stroke-width="1.9"><circle cx="77" cy="151.7" r="22.4"/><circle cx="272.4" cy="156.7" r="15.7"/><circle cx="216.3" cy="225.2" r="20"/><circle cx="257.2" cy="235.6" r="19.1"/></g>
<text x="37.8" y="53.3" font-size="29.5" font-weight="bold" textLength="25.5" lengthAdjust="spacingAndGlyphs">f2</text>
<text x="35.4" y="306.8" font-size="30.5" font-weight="bold" textLength="157" lengthAdjust="spacingAndGlyphs">1989/06/27</text>
</g>
<g transform="translate(1047 403.4)">
<g clip-path="url(#mclip)">
<g filter="url(#mff3)">
<rect x="-40" y="-40" width="75.5" height="73.7" fill="#919191"/>
<rect x="35" y="-40" width="105.5" height="73.7" fill="#7a7a7a"/>
<rect x="140" y="-40" width="70.5" height="73.7" fill="#6c6c6c"/>
<rect x="210" y="-40" width="35.5" height="73.7" fill="#616161"/>
<rect x="245" y="-40" width="70.5" height="73.7" fill="#7a7a7a"/>
<rect x="315" y="-40" width="75.5" height="73.7" fill="#919191"/>
<rect x="-40" y="33.2" width="110.5" height="33.7" fill="#7a7a7a"/>
<rect x="70" y="33.2" width="70.5" height="33.7" fill="#6c6c6c"/>
<rect x="140" y="33.2" width="35.5" height="33.7" fill="#616161"/>
<rect x="175" y="33.2" width="35.5" height="33.7" fill="#575757"/>
<rect x="210" y="33.2" width="35.5" height="33.7" fill="#6c6c6c"/>
<rect x="245" y="33.2" width="35.5" height="33.7" fill="#616161"/>
<rect x="280" y="33.2" width="35.5" height="33.7" fill="#7a7a7a"/>
<rect x="315" y="33.2" width="75.5" height="33.7" fill="#919191"/>
<rect x="-40" y="66.4" width="145.5" height="33.7" fill="#7a7a7a"/>
<rect x="105" y="66.4" width="105.5" height="33.7" fill="#616161"/>
<rect x="210" y="66.4" width="35.5" height="33.7" fill="#6c6c6c"/>
<rect x="245" y="66.4" width="35.5" height="33.7" fill="#616161"/>
<rect x="280" y="66.4" width="110.5" height="33.7" fill="#7a7a7a"/>
<rect x="-40" y="99.6" width="145.5" height="33.7" fill="#6c6c6c"/>
<rect x="105" y="99.6" width="105.5" height="33.7" fill="#616161"/>
<rect x="210" y="99.6" width="35.5" height="33.7" fill="#575757"/>
<rect x="245" y="99.6" width="35.5" height="33.7" fill="#616161"/>
<rect x="280" y="99.6" width="35.5" height="33.7" fill="#6c6c6c"/>
<rect x="315" y="99.6" width="75.5" height="33.7" fill="#616161"/>
<rect x="-40" y="132.8" width="110.5" height="33.7" fill="#616161"/>
<rect x="70" y="132.8" width="35.5" height="33.7" fill="#6c6c6c"/>
<rect x="105" y="132.8" width="35.5" height="33.7" fill="#616161"/>
<rect x="140" y="132.8" width="35.5" height="33.7" fill="#575757"/>
<rect x="175" y="132.8" width="35.5" height="33.7" fill="#6c6c6c"/>
<rect x="210" y="132.8" width="35.5" height="33.7" fill="#4e4e4e"/>
<rect x="245" y="132.8" width="35.5" height="33.7" fill="#6c6c6c"/>
<rect x="280" y="132.8" width="35.5" height="33.7" fill="#575757"/>
<rect x="315" y="132.8" width="75.5" height="33.7" fill="#4e4e4e"/>
<rect x="-40" y="166" width="75.5" height="33.7" fill="#575757"/>
<rect x="35" y="166" width="35.5" height="33.7" fill="#616161"/>
<rect x="70" y="166" width="70.5" height="33.7" fill="#575757"/>
<rect x="140" y="166" width="250.5" height="33.7" fill="#4e4e4e"/>
<rect x="-40" y="199.2" width="110.5" height="33.7" fill="#616161"/>
<rect x="70" y="199.2" width="70.5" height="33.7" fill="#4e4e4e"/>
<rect x="140" y="199.2" width="35.5" height="33.7" fill="#464646"/>
<rect x="175" y="199.2" width="35.5" height="33.7" fill="#4e4e4e"/>
<rect x="210" y="199.2" width="70.5" height="33.7" fill="#575757"/>
<rect x="280" y="199.2" width="35.5" height="33.7" fill="#4e4e4e"/>
<rect x="315" y="199.2" width="75.5" height="33.7" fill="#575757"/>
<rect x="-40" y="232.4" width="75.5" height="33.7" fill="#6c6c6c"/>
<rect x="35" y="232.4" width="35.5" height="33.7" fill="#616161"/>
<rect x="70" y="232.4" width="35.5" height="33.7" fill="#575757"/>
<rect x="105" y="232.4" width="70.5" height="33.7" fill="#4e4e4e"/>
<rect x="175" y="232.4" width="35.5" height="33.7" fill="#575757"/>
<rect x="210" y="232.4" width="35.5" height="33.7" fill="#4e4e4e"/>
<rect x="245" y="232.4" width="35.5" height="33.7" fill="#575757"/>
<rect x="280" y="232.4" width="35.5" height="33.7" fill="#4e4e4e"/>
<rect x="315" y="232.4" width="75.5" height="33.7" fill="#616161"/>
<rect x="-40" y="265.6" width="75.5" height="33.7" fill="#575757"/>
<rect x="35" y="265.6" width="70.5" height="33.7" fill="#616161"/>
<rect x="105" y="265.6" width="35.5" height="33.7" fill="#575757"/>
<rect x="140" y="265.6" width="35.5" height="33.7" fill="#616161"/>
<rect x="175" y="265.6" width="70.5" height="33.7" fill="#464646"/>
<rect x="245" y="265.6" width="35.5" height="33.7" fill="#4e4e4e"/>
<rect x="280" y="265.6" width="35.5" height="33.7" fill="#575757"/>
<rect x="315" y="265.6" width="75.5" height="33.7" fill="#6c6c6c"/>
<rect x="-40" y="298.8" width="75.5" height="73.7" fill="#4e4e4e"/>
<rect x="35" y="298.8" width="35.5" height="73.7" fill="#616161"/>
<rect x="70" y="298.8" width="35.5" height="73.7" fill="#7a7a7a"/>
<rect x="105" y="298.8" width="35.5" height="73.7" fill="#6c6c6c"/>
<rect x="140" y="298.8" width="35.5" height="73.7" fill="#616161"/>
<rect x="175" y="298.8" width="35.5" height="73.7" fill="#4e4e4e"/>
<rect x="210" y="298.8" width="35.5" height="73.7" fill="#464646"/>
<rect x="245" y="298.8" width="35.5" height="73.7" fill="#575757"/>
<rect x="280" y="298.8" width="35.5" height="73.7" fill="#616161"/>
<rect x="315" y="298.8" width="75.5" height="73.7" fill="#7a7a7a"/>
<path d="M0.5 46L1.5 42.1L5.3 38.3L10 35.5L15.7 31.7L21.3 26L26 20.4L30.8 14.2L34.5 11.4L40.2 9.5L49.6 8.6L87.4 7.2L134.6 5.7L173 3.9L220.2 2L257.9 0.1L261.7 0.4L267.4 2L276.8 7.2L295.7 22.3L314.6 38.3L333.5 54.3L341 61.9L344.3 68.5L346.2 77.9L346.5 137L346.5 197L345.9 225.3L344.8 244.2L342.9 263.1L341 281.9L339.1 293.3L335.3 301.8L328.7 310.3L319.3 318.8L309.9 323.5L300.4 325.8L286.3 327.7L248.5 328.7L173 330.1L35.5 331.5L27.9 330.6L24.1 327.2L21.3 319.7L19 310.3L16.1 303.7L15.2 291.4L14.7 263.1L13.3 253.6L9 246.1L4.3 234.8L1 215.9L0.1 197Z" fill="none" stroke="#a8a8a8" stroke-width="12" opacity="0.50"/>
</g>
<g filter="url(#mcf3)"><rect x="63.5" y="11.8" width="11.4" height="3.5" fill="#cfcfcf" transform="rotate(60 69.2 13.5)"/><ellipse cx="36.9" cy="25.7" rx="2.5" ry="2.5" fill="#bdbdbd" transform="rotate(0 36.9 25.7)"/><rect x="41.7" y="28.3" width="4.7" height="5.3" fill="#c2c2c2" transform="rotate(-35 44 30.9)"/><rect x="62.3" y="21.4" width="10.3" height="5.3" fill="#b5b5b5" transform="rotate(0 67.5 24.1)"/><ellipse cx="93.7" cy="22.2" rx="1.5" ry="3.4" fill="#c7c7c7" transform="rotate(0 93.7 22.2)"/><ellipse cx="74.3" cy="18.3" rx="5.5" ry="3" fill="#b2b2b2" transform="rotate(0 74.3 18.3)"/><rect x="93.3" y="30.8" width="3.8" height="3.5" fill="#b6b6b6" transform="rotate(-35 95.2 32.5)"/><rect x="127.9" y="14.4" width="11.8" height="3.1" fill="#bcbcbc" transform="rotate(0 133.8 16)"/><rect x="109.7" y="6.8" width="12.8" height="6.1" fill="#a4a4a4" transform="rotate(60 116 9.9)"/><rect x="169.7" y="14" width="6.3" height="4.6" fill="#9f9f9f" transform="rotate(90 172.9 16.3)"/><rect x="162.2" y="14.6" width="12.2" height="6.8" fill="#bcbcbc" transform="rotate(90 168.3 17.9)"/><ellipse cx="157.4" cy="22.4" rx="2.2" ry="2.3" fill="#b3b3b3" transform="rotate(35 157.4 22.4)"/><rect x="192.8" y="13" width="9.8" height="6.7" fill="#b5b5b5" transform="rotate(35 197.7 16.3)"/><rect x="178" y="10.8" width="4.4" height="2.9" fill="#acacac" transform="rotate(60 180.2 12.2)"/><ellipse cx="230.4" cy="18.6" rx="2.8" ry="3.1" fill="#bcbcbc" transform="rotate(90 230.4 18.6)"/><ellipse cx="224.5" cy="24.1" rx="3" ry="2" fill="#cacaca" transform="rotate(90 224.5 24.1)"/><ellipse cx="249.4" cy="5.4" rx="3.5" ry="3.1" fill="#adadad" transform="rotate(-35 249.4 5.4)"/><ellipse cx="266.8" cy="21.6" rx="3.7" ry="3.2" fill="#a6a6a6" transform="rotate(35 266.8 21.6)"/><rect x="241" y="29.8" width="12.7" height="6.2" fill="#cccccc" transform="rotate(35 247.3 32.9)"/><ellipse cx="275.3" cy="31.8" rx="3" ry="2.5" fill="#bfbfbf" transform="rotate(60 275.3 31.8)"/><rect x="279.1" y="22.2" width="12.2" height="5" fill="#d0d0d0" transform="rotate(90 285.2 24.7)"/><ellipse cx="16.6" cy="51.6" rx="3" ry="3.7" fill="#c1c1c1" transform="rotate(90 16.6 51.6)"/><ellipse cx="10.5" cy="37.7" rx="3.5" ry="3.5" fill="#c5c5c5" transform="rotate(35 10.5 37.7)"/><ellipse cx="19" cy="61.8" rx="4.9" ry="3.7" fill="#cfcfcf" transform="rotate(0 19 61.8)"/><rect x="-5" y="61.8" width="11.9" height="6" fill="#b7b7b7" transform="rotate(90 1 64.8)"/><rect x="57.3" y="48.1" width="9.2" height="4.5" fill="#acacac" transform="rotate(35 61.9 50.4)"/><ellipse cx="39" cy="48.5" rx="6" ry="1.8" fill="#c2c2c2" transform="rotate(-35 39 48.5)"/><ellipse cx="56" cy="34.9" rx="5.7" ry="3.4" fill="#bcbcbc" transform="rotate(0 56 34.9)"/><rect x="54.3" y="42.6" width="7.2" height="4.4" fill="#b9b9b9" transform="rotate(0 57.9 44.9)"/><ellipse cx="37.2" cy="44.2" rx="1.8" ry="2.4" fill="#cdcdcd" transform="rotate(60 37.2 44.2)"/><ellipse cx="76.7" cy="48.6" rx="3.6" ry="2.9" fill="#a8a8a8" transform="rotate(0 76.7 48.6)"/><ellipse cx="82.1" cy="53.1" rx="1.7" ry="1.6" fill="#a1a1a1" transform="rotate(0 82.1 53.1)"/><ellipse cx="139.9" cy="47.6" rx="5.4" ry="2.7" fill="#d0d0d0" transform="rotate(35 139.9 47.6)"/><ellipse cx="120.2" cy="45.2" rx="5.2" ry="2.7" fill="#a7a7a7" transform="rotate(0 120.2 45.2)"/><rect x="149.6" y="51.1" width="10" height="6.5" fill="#cacaca" transform="rotate(0 154.6 54.3)"/><rect x="195.1" y="38.2" width="5.5" height="4.2" fill="#c8c8c8" transform="rotate(35 197.9 40.2)"/><ellipse cx="217.8" cy="51" rx="6.3" ry="3" fill="#a3a3a3" transform="rotate(0 217.8 51)"/><ellipse cx="212.7" cy="41.9" rx="1.6" ry="1.7" fill="#bcbcbc" transform="rotate(0 212.7 41.9)"/><rect x="263.5" y="44.9" width="3.1" height="6.4" fill="#bfbfbf" transform="rotate(0 265 48.1)"/><rect x="291.5" y="44.7" width="9.4" height="3.5" fill="#a1a1a1" transform="rotate(0 296.2 46.5)"/><ellipse cx="304.5" cy="34.1" rx="6.4" ry="2.7" fill="#c4c4c4" transform="rotate(60 304.5 34.1)"/><rect x="301.3" y="62.9" width="7.7" height="6.7" fill="#b4b4b4" transform="rotate(35 305.2 66.3)"/><rect x="309.7" y="61.5" width="3.1" height="8" fill="#b7b7b7" transform="rotate(0 311.2 65.5)"/><ellipse cx="322.3" cy="63.3" rx="1.6" ry="2.5" fill="#b5b5b5" transform="rotate(0 322.3 63.3)"/><rect x="319.7" y="52.3" width="9.2" height="4.8" fill="#c0c0c0" transform="rotate(60 324.3 54.7)"/><rect x="-2.1" y="63.9" width="6.8" height="6.2" fill="#bababa" transform="rotate(0 1.3 67)"/><rect x="16" y="70.9" width="7.5" height="6.8" fill="#cacaca" transform="rotate(0 19.7 74.3)"/><rect x="23.4" y="92.5" width="4.5" height="5.1" fill="#b7b7b7" transform="rotate(35 25.6 95)"/><ellipse cx="6.6" cy="93.5" rx="3.7" ry="4" fill="#b0b0b0" transform="rotate(60 6.6 93.5)"/><rect x="4.6" y="73.2" width="3.9" height="6.1" fill="#a1a1a1" transform="rotate(0 6.5 76.3)"/><rect x="49.9" y="94.7" width="12.6" height="5.9" fill="#c9c9c9" transform="rotate(0 56.2 97.7)"/><ellipse cx="65" cy="83.5" rx="1.9" ry="2.8" fill="#bebebe" transform="rotate(-35 65 83.5)"/><ellipse cx="49.1" cy="88.7" rx="2.6" ry="3.1" fill="#a8a8a8" transform="rotate(35 49.1 88.7)"/><rect x="56.7" y="68.5" width="7.1" height="4.1" fill="#d0d0d0" transform="rotate(90 60.3 70.6)"/><ellipse cx="102.3" cy="73.4" rx="5.7" ry="1.7" fill="#d0d0d0" transform="rotate(0 102.3 73.4)"/><rect x="92.5" y="66.3" width="4.6" height="6.1" fill="#b4b4b4" transform="rotate(0 94.8 69.4)"/><rect x="95" y="89" width="3.9" height="6.1" fill="#cccccc" transform="rotate(90 97 92.1)"/><rect x="68.5" y="74.7" width="12.9" height="5.9" fill="#bcbcbc" transform="rotate(-35 75 77.7)"/><rect x="83.9" y="81.9" width="5.7" height="3.4" fill="#cbcbcb" transform="rotate(0 86.7 83.6)"/><ellipse cx="120" cy="77.1" rx="3.5" ry="2.7" fill="#b2b2b2" transform="rotate(0 120 77.1)"/><rect x="152.9" y="83.8" width="4.7" height="7.1" fill="#afafaf" transform="rotate(0 155.2 87.4)"/><ellipse cx="208.4" cy="93" rx="3.6" ry="2.5" fill="#d1d1d1" transform="rotate(0 208.4 93)"/><rect x="240.7" y="91.3" width="8.3" height="3.3" fill="#bababa" transform="rotate(60 244.9 93)"/><ellipse cx="233.2" cy="86.8" rx="5" ry="3" fill="#aaaaaa" transform="rotate(-35 233.2 86.8)"/><rect x="228.4" y="93.2" width="8" height="6.3" fill="#bababa" transform="rotate(60 232.4 96.4)"/><ellipse cx="274.1" cy="69.5" rx="3" ry="2.7" fill="#b2b2b2" transform="rotate(0 274.1 69.5)"/><rect x="292.6" y="87.2" width="12.6" height="6.3" fill="#c0c0c0" transform="rotate(0 298.9 90.4)"/><rect x="274.5" y="84.9" width="12.6" height="7.6" fill="#cdcdcd" transform="rotate(0 280.8 88.7)"/><rect x="307.7" y="96.9" width="4.6" height="5.2" fill="#9f9f9f" transform="rotate(0 310 99.5)"/><ellipse cx="290" cy="98.6" rx="2.3" ry="3.9" fill="#bfbfbf" transform="rotate(-35 290 98.6)"/><rect x="319.1" y="83.5" width="7.3" height="6" fill="#c5c5c5" transform="rotate(35 322.8 86.5)"/><rect x="329.6" y="80.7" width="11" height="5.3" fill="#a8a8a8" transform="rotate(35 335.1 83.4)"/><ellipse cx="323.7" cy="74.4" rx="4.3" ry="2" fill="#cbcbcb" transform="rotate(0 323.7 74.4)"/><rect x="25.8" y="118.4" width="11.5" height="5.1" fill="#cacaca" transform="rotate(35 31.5 121)"/><ellipse cx="0.8" cy="121.6" rx="5.6" ry="3.7" fill="#c4c4c4" transform="rotate(0 0.8 121.6)"/><rect x="55" y="120.1" width="11.2" height="6.4" fill="#adadad" transform="rotate(0 60.6 123.3)"/><rect x="46.4" y="100.2" width="4.8" height="4.3" fill="#c3c3c3" transform="rotate(-35 48.8 102.4)"/><ellipse cx="45.8" cy="131.5" rx="2.5" ry="2.6" fill="#a2a2a2" transform="rotate(0 45.8 131.5)"/><rect x="89.5" y="105.4" width="5.4" height="5" fill="#b9b9b9" transform="rotate(0 92.2 107.9)"/><rect x="75.7" y="127.3" width="10.9" height="2.9" fill="#aeaeae" transform="rotate(0 81.1 128.8)"/><ellipse cx="100.3" cy="103.8" rx="5.2" ry="3.7" fill="#a6a6a6" transform="rotate(60 100.3 103.8)"/><rect x="132.8" y="126" width="7.2" height="5.9" fill="#cbcbcb" transform="rotate(0 136.4 128.9)"/><rect x="115.2" y="100.7" width="6.6" height="5.3" fill="#c1c1c1" transform="rotate(0 118.5 103.3)"/><rect x="163.2" y="120.6" width="9.6" height="4.9" fill="#b0b0b0" transform="rotate(35 168 123.1)"/><ellipse cx="159.8" cy="119.8" rx="4.8" ry="3.5" fill="#b5b5b5" transform="rotate(0 159.8 119.8)"/><rect x="190.1" y="126" width="6.1" height="3.9" fill="#c6c6c6" transform="rotate(-35 193.2 128)"/><ellipse cx="181.9" cy="104.9" rx="1.8" ry="3.8" fill="#d1d1d1" transform="rotate(0 181.9 104.9)"/><rect x="248.4" y="124.9" width="9.3" height="7.5" fill="#b9b9b9" transform="rotate(-35 253.1 128.7)"/><ellipse cx="293.3" cy="101.8" rx="5.3" ry="2.6" fill="#cbcbcb" transform="rotate(0 293.3 101.8)"/><ellipse cx="300.9" cy="119.9" rx="3.4" ry="1.4" fill="#cccccc" transform="rotate(0 300.9 119.9)"/><ellipse cx="339.6" cy="127.6" rx="5.9" ry="3.8" fill="#bababa" transform="rotate(35 339.6 127.6)"/><rect x="325.6" y="98.6" width="8.1" height="2.6" fill="#c1c1c1" transform="rotate(0 329.6 99.9)"/><rect x="22.9" y="163.1" width="4.7" height="4" fill="#a0a0a0" transform="rotate(-35 25.2 165.1)"/><ellipse cx="38.8" cy="133.2" rx="6.5" ry="1.7" fill="#cccccc" transform="rotate(90 38.8 133.2)"/><ellipse cx="72.8" cy="164.1" rx="3.2" ry="2.2" fill="#cecece" transform="rotate(0 72.8 164.1)"/><rect x="68.6" y="161.5" width="12.9" height="6.8" fill="#cfcfcf" transform="rotate(0 75 164.9)"/><ellipse cx="115.6" cy="139.6" rx="5.7" ry="1.4" fill="#adadad" transform="rotate(-35 115.6 139.6)"/><rect x="155.3" y="138.3" width="8.5" height="6.6" fill="#aeaeae" transform="rotate(35 159.6 141.6)"/><ellipse cx="193.9" cy="155" rx="3.1" ry="2.8" fill="#b3b3b3" transform="rotate(60 193.9 155)"/><rect x="171.2" y="159.5" width="10.9" height="4.2" fill="#a2a2a2" transform="rotate(90 176.7 161.6)"/><rect x="240.3" y="153.8" width="12.6" height="2.5" fill="#bebebe" transform="rotate(60 246.6 155)"/><ellipse cx="259.3" cy="132.9" rx="6.4" ry="3.5" fill="#ababab" transform="rotate(90 259.3 132.9)"/><rect x="273.1" y="135.9" width="7.3" height="3.6" fill="#a1a1a1" transform="rotate(35 276.7 137.7)"/><rect x="299.6" y="144.1" width="8.2" height="4.4" fill="#b3b3b3" transform="rotate(60 303.7 146.3)"/><rect x="340.6" y="137.2" width="5" height="6.7" fill="#bbbbbb" transform="rotate(90 343.1 140.6)"/><rect x="11.3" y="185.8" width="8.1" height="5.2" fill="#aaaaaa" transform="rotate(35 15.3 188.4)"/><rect x="66.7" y="165.7" width="5.8" height="6.6" fill="#a4a4a4" transform="rotate(0 69.6 169)"/><ellipse cx="51.6" cy="172.7" rx="5.2" ry="4" fill="#b3b3b3" transform="rotate(60 51.6 172.7)"/><ellipse cx="73.2" cy="195.9" rx="4.8" ry="3.3" fill="#b6b6b6" transform="rotate(0 73.2 195.9)"/><rect x="124" y="178.7" width="8.2" height="4.4" fill="#bebebe" transform="rotate(35 128.1 180.9)"/><ellipse cx="169.6" cy="188" rx="6" ry="1.3" fill="#b7b7b7" transform="rotate(35 169.6 188)"/><ellipse cx="199.8" cy="170.4" rx="3.4" ry="3.4" fill="#b6b6b6" transform="rotate(0 199.8 170.4)"/><rect x="305.6" y="178.1" width="5.7" height="5.6" fill="#acacac" transform="rotate(-35 308.5 180.9)"/><ellipse cx="26" cy="203.4" rx="5.1" ry="3.9" fill="#c6c6c6" transform="rotate(0 26 203.4)"/><rect x="44.6" y="202" width="12.3" height="4.7" fill="#b0b0b0" transform="rotate(0 50.8 204.4)"/><rect x="65.5" y="217" width="4.2" height="6.8" fill="#bcbcbc" transform="rotate(0 67.6 220.4)"/><rect x="199.6" y="210.5" width="10.1" height="6" fill="#bfbfbf" transform="rotate(0 204.6 213.5)"/><rect x="208.3" y="211.3" width="7.4" height="3.7" fill="#b1b1b1" transform="rotate(60 212 213.1)"/><ellipse cx="14.5" cy="237.3" rx="2.8" ry="1.4" fill="#cecece" transform="rotate(0 14.5 237.3)"/><ellipse cx="23.9" cy="237.5" rx="5.4" ry="2.2" fill="#aaaaaa" transform="rotate(0 23.9 237.5)"/><rect x="54.3" y="237.4" width="11.7" height="5.9" fill="#bcbcbc" transform="rotate(-35 60.2 240.4)"/><ellipse cx="52.3" cy="237.1" rx="2.2" ry="3.7" fill="#aeaeae" transform="rotate(35 52.3 237.1)"/><ellipse cx="78.1" cy="245.2" rx="2.2" ry="1.4" fill="#b0b0b0" transform="rotate(0 78.1 245.2)"/><rect x="130.2" y="253.8" width="3.9" height="4.6" fill="#c0c0c0" transform="rotate(90 132.2 256.1)"/><rect x="193.8" y="250.1" width="8.2" height="3.9" fill="#a8a8a8" transform="rotate(0 197.9 252)"/><ellipse cx="229.9" cy="240.2" rx="3.5" ry="2.4" fill="#b7b7b7" transform="rotate(35 229.9 240.2)"/><rect x="259.1" y="236.4" width="11.2" height="5.9" fill="#aeaeae" transform="rotate(-35 264.7 239.4)"/><rect x="318.1" y="229.8" width="11.3" height="7.9" fill="#c6c6c6" transform="rotate(0 323.8 233.8)"/><ellipse cx="320.2" cy="232.6" rx="5.7" ry="3.7" fill="#b3b3b3" transform="rotate(0 320.2 232.6)"/><rect x="45.7" y="283.6" width="4.8" height="4.4" fill="#b2b2b2" transform="rotate(-35 48.1 285.8)"/><ellipse cx="104.7" cy="291.8" rx="3.9" ry="2.7" fill="#aeaeae" transform="rotate(90 104.7 291.8)"/><ellipse cx="124" cy="277.3" rx="5.9" ry="1.8" fill="#a7a7a7" transform="rotate(-35 124 277.3)"/><rect x="156.4" y="289.9" width="10" height="6" fill="#c3c3c3" transform="rotate(35 161.4 292.9)"/><ellipse cx="158.8" cy="277.4" rx="4.8" ry="3.9" fill="#c8c8c8" transform="rotate(-35 158.8 277.4)"/><rect x="208.6" y="279.3" width="10.1" height="6.4" fill="#b9b9b9" transform="rotate(0 213.7 282.5)"/><ellipse cx="308" cy="275.5" rx="3.4" ry="1.6" fill="#c2c2c2" transform="rotate(60 308 275.5)"/><ellipse cx="315.9" cy="285.7" rx="1.8" ry="1.6" fill="#bcbcbc" transform="rotate(0 315.9 285.7)"/><ellipse cx="322.4" cy="290.4" rx="1.9" ry="2.7" fill="#c1c1c1" transform="rotate(90 322.4 290.4)"/><rect x="335" y="288.7" width="5.7" height="4" fill="#a3a3a3" transform="rotate(-35 337.9 290.7)"/><rect x="53.9" y="306" width="7.1" height="4" fill="#d0d0d0" transform="rotate(0 57.4 308)"/><rect x="84.6" y="309.7" width="9.6" height="2.7" fill="#a8a8a8" transform="rotate(90 89.4 311.1)"/><rect x="92.9" y="317.8" width="5.7" height="2.7" fill="#b0b0b0" transform="rotate(-35 95.7 319.1)"/><ellipse cx="70.9" cy="300.7" rx="3.5" ry="1.7" fill="#9f9f9f" transform="rotate(-35 70.9 300.7)"/><ellipse cx="96.9" cy="302" rx="5.4" ry="2.3" fill="#bababa" transform="rotate(0 96.9 302)"/><ellipse cx="85.7" cy="325" rx="4.5" ry="2.8" fill="#d1d1d1" transform="rotate(0 85.7 325)"/><ellipse cx="106.7" cy="310.1" rx="1.7" ry="2.6" fill="#cccccc" transform="rotate(0 106.7 310.1)"/><rect x="105.3" y="317.8" width="9.9" height="5.8" fill="#c8c8c8" transform="rotate(35 110.2 320.7)"/><ellipse cx="110.7" cy="315.6" rx="3.1" ry="2.4" fill="#bdbdbd" transform="rotate(0 110.7 315.6)"/><ellipse cx="172.9" cy="318" rx="2.5" ry="3.7" fill="#d1d1d1" transform="rotate(90 172.9 318)"/><rect x="249.5" y="319.8" width="8.1" height="4.1" fill="#b7b7b7" transform="rotate(0 253.6 321.9)"/><rect x="285.1" y="299.8" width="6.5" height="7.3" fill="#c5c5c5" transform="rotate(0 288.4 303.4)"/><rect x="324.2" y="305" width="3.3" height="7.3" fill="#c3c3c3" transform="rotate(90 325.8 308.7)"/><ellipse cx="328" cy="309.3" rx="5.5" ry="1.4" fill="#a5a5a5" transform="rotate(0 328 309.3)"/><rect x="203" y="212.5" width="32" height="26.5" rx="4" fill="#a6a6a6"/><ellipse cx="274.5" cy="156" rx="9.5" ry="9" fill="#a6a6a6"/><ellipse cx="101" cy="100.5" rx="12" ry="5" fill="#adadad"/><ellipse cx="76" cy="96" rx="6" ry="5" fill="#adadad"/><ellipse cx="196.5" cy="133.5" rx="4.5" ry="4" fill="#adadad"/><circle cx="250" cy="86.5" r="4.2" fill="#c2c2c2"/><ellipse cx="98" cy="157" rx="7" ry="9" fill="#a6a6a6"/><ellipse cx="70" cy="161" rx="14" ry="3.5" fill="#a6a6a6"/><ellipse cx="255" cy="239" rx="10" ry="6" fill="#a6a6a6"/><ellipse cx="174" cy="244" rx="9" ry="5" fill="#9c9c9c"/><ellipse cx="33" cy="19" rx="9" ry="8" fill="#b2b2b2"/><ellipse cx="334" cy="84" rx="10" ry="26" fill="#b2b2b2"/><ellipse cx="296" cy="98" rx="7" ry="11" fill="#a6a6a6"/></g>
<use href="#mwhite"/>
</g>
<g fill="none" stroke="#f00" stroke-width="1.9"><circle cx="78.3" cy="149.7" r="22.6"/><circle cx="273.7" cy="155.2" r="16.3"/><circle cx="218.2" cy="223.7" r="20.5"/><circle cx="258.9" cy="234.2" r="19.1"/></g>
<text x="34.3" y="54" font-size="29.5" font-weight="bold" textLength="25.5" lengthAdjust="spacingAndGlyphs">f3</text>
<text x="32" y="306.4" font-size="30.5" font-weight="bold" textLength="157" lengthAdjust="spacingAndGlyphs">1996/06/30</text>
</g>
<g transform="translate(1427 403.4)">
<g clip-path="url(#mclip)">
<g filter="url(#mff4)">
<rect x="-40" y="-40" width="110.5" height="73.7" fill="#7a7a7a"/>
<rect x="70" y="-40" width="35.5" height="73.7" fill="#616161"/>
<rect x="105" y="-40" width="35.5" height="73.7" fill="#6c6c6c"/>
<rect x="140" y="-40" width="35.5" height="73.7" fill="#616161"/>
<rect x="175" y="-40" width="35.5" height="73.7" fill="#6c6c6c"/>
<rect x="210" y="-40" width="35.5" height="73.7" fill="#616161"/>
<rect x="245" y="-40" width="35.5" height="73.7" fill="#6c6c6c"/>
<rect x="280" y="-40" width="35.5" height="73.7" fill="#7a7a7a"/>
<rect x="315" y="-40" width="75.5" height="73.7" fill="#919191"/>
<rect x="-40" y="33.2" width="75.5" height="33.7" fill="#7a7a7a"/>
<rect x="35" y="33.2" width="35.5" height="33.7" fill="#6c6c6c"/>
<rect x="70" y="33.2" width="35.5" height="33.7" fill="#616161"/>
<rect x="105" y="33.2" width="35.5" height="33.7" fill="#6c6c6c"/>
<rect x="140" y="33.2" width="35.5" height="33.7" fill="#616161"/>
<rect x="175" y="33.2" width="35.5" height="33.7" fill="#575757"/>
<rect x="210" y="33.2" width="35.5" height="33.7" fill="#616161"/>
<rect x="245" y="33.2" width="35.5" height="33.7" fill="#6c6c6c"/>
<rect x="280" y="33.2" width="110.5" height="33.7" fill="#7a7a7a"/>
<rect x="-40" y="66.4" width="75.5" height="33.7" fill="#6c6c6c"/>
<rect x="35" y="66.4" width="35.5" height="33.7" fill="#616161"/>
<rect x="70" y="66.4" width="35.5" height="33.7" fill="#6c6c6c"/>
<rect x="105" y="66.4" width="140.5" height="33.7" fill="#575757"/>
<rect x="245" y="66.4" width="35.5" height="33.7" fill="#616161"/>
<rect x="280" y="66.4" width="35.5" height="33.7" fill="#6c6c6c"/>
<rect x="315" y="66.4" width="75.5" height="33.7" fill="#7a7a7a"/>
<rect x="-40" y="99.6" width="75.5" height="33.7" fill="#616161"/>
<rect x="35" y="99.6" width="35.5" height="33.7" fill="#575757"/>
<rect x="70" y="99.6" width="35.5" height="33.7" fill="#616161"/>
<rect x="105" y="99.6" width="70.5" height="33.7" fill="#575757"/>
<rect x="175" y="99.6" width="35.5" height="33.7" fill="#616161"/>
<rect x="210" y="99.6" width="70.5" height="33.7" fill="#575757"/>
<rect x="280" y="99.6" width="35.5" height="33.7" fill="#616161"/>
<rect x="315" y="99.6" width="75.5" height="33.7" fill="#6c6c6c"/>
<rect x="-40" y="132.8" width="75.5" height="33.7" fill="#616161"/>
<rect x="35" y="132.8" width="35.5" height="33.7" fill="#575757"/>
<rect x="70" y="132.8" width="35.5" height="33.7" fill="#616161"/>
<rect x="105" y="132.8" width="35.5" height="33.7" fill="#575757"/>
<rect x="140" y="132.8" width="35.5" height="33.7" fill="#4e4e4e"/>
<rect x="175" y="132.8" width="35.5" height="33.7" fill="#575757"/>
<rect x="210" y="132.8" width="35.5" height="33.7" fill="#4e4e4e"/>
<rect x="245" y="132.8" width="35.5" height="33.7" fill="#616161"/>
<rect x="280" y="132.8" width="110.5" height="33.7" fill="#575757"/>
<rect x="-40" y="166" width="180.5" height="33.7" fill="#575757"/>
<rect x="140" y="166" width="250.5" height="33.7" fill="#4e4e4e"/>
<rect x="-40" y="199.2" width="145.5" height="33.7" fill="#575757"/>
<rect x="105" y="199.2" width="105.5" height="33.7" fill="#4e4e4e"/>
<rect x="210" y="199.2" width="70.5" height="33.7" fill="#575757"/>
<rect x="280" y="199.2" width="35.5" height="33.7" fill="#4e4e4e"/>
<rect x="315" y="199.2" width="75.5" height="33.7" fill="#575757"/>
<rect x="-40" y="232.4" width="75.5" height="33.7" fill="#616161"/>
<rect x="35" y="232.4" width="70.5" height="33.7" fill="#575757"/>
<rect x="105" y="232.4" width="35.5" height="33.7" fill="#4e4e4e"/>
<rect x="140" y="232.4" width="70.5" height="33.7" fill="#575757"/>
<rect x="210" y="232.4" width="35.5" height="33.7" fill="#4e4e4e"/>
<rect x="245" y="232.4" width="70.5" height="33.7" fill="#575757"/>
<rect x="315" y="232.4" width="75.5" height="33.7" fill="#616161"/>
<rect x="-40" y="265.6" width="75.5" height="33.7" fill="#4e4e4e"/>
<rect x="35" y="265.6" width="140.5" height="33.7" fill="#616161"/>
<rect x="175" y="265.6" width="105.5" height="33.7" fill="#4e4e4e"/>
<rect x="280" y="265.6" width="35.5" height="33.7" fill="#575757"/>
<rect x="315" y="265.6" width="75.5" height="33.7" fill="#6c6c6c"/>
<rect x="-40" y="298.8" width="75.5" height="73.7" fill="#4e4e4e"/>
<rect x="35" y="298.8" width="35.5" height="73.7" fill="#616161"/>
<rect x="70" y="298.8" width="105.5" height="73.7" fill="#6c6c6c"/>
<rect x="175" y="298.8" width="35.5" height="73.7" fill="#575757"/>
<rect x="210" y="298.8" width="35.5" height="73.7" fill="#4e4e4e"/>
<rect x="245" y="298.8" width="35.5" height="73.7" fill="#575757"/>
<rect x="280" y="298.8" width="35.5" height="73.7" fill="#616161"/>
<rect x="315" y="298.8" width="75.5" height="73.7" fill="#7a7a7a"/>
<path d="M0.5 46L1.5 42.1L5.3 38.3L10 35.5L15.7 31.7L21.3 26L26 20.4L30.8 14.2L34.5 11.4L40.2 9.5L49.6 8.6L87.4 7.2L134.6 5.7L173 3.9L220.2 2L257.9 0.1L261.7 0.4L267.4 2L276.8 7.2L295.7 22.3L314.6 38.3L333.5 54.3L341 61.9L344.3 68.5L346.2 77.9L346.5 137L346.5 197L345.9 225.3L344.8 244.2L342.9 263.1L341 281.9L339.1 293.3L335.3 301.8L328.7 310.3L319.3 318.8L309.9 323.5L300.4 325.8L286.3 327.7L248.5 328.7L173 330.1L35.5 331.5L27.9 330.6L24.1 327.2L21.3 319.7L19 310.3L16.1 303.7L15.2 291.4L14.7 263.1L13.3 253.6L9 246.1L4.3 234.8L1 215.9L0.1 197Z" fill="none" stroke="#a8a8a8" stroke-width="12" opacity="0.45"/>
</g>
<g filter="url(#mcf4)"><ellipse cx="33" cy="27.3" rx="1.8" ry="3.5" fill="#959595" transform="rotate(60 33 27.3)"/><rect x="46.6" y="21.9" width="9.5" height="3.5" fill="#aaaaaa" transform="rotate(0 51.4 23.7)"/><rect x="44.8" y="24.6" width="4.8" height="4.9" fill="#969696" transform="rotate(0 47.2 27.1)"/><rect x="57" y="23.1" width="6.7" height="6.3" fill="#b0b0b0" transform="rotate(0 60.4 26.2)"/><ellipse cx="81.2" cy="29.6" rx="2.6" ry="1.6" fill="#c1c1c1" transform="rotate(0 81.2 29.6)"/><rect x="97.9" y="24.9" width="9.3" height="4.5" fill="#adadad" transform="rotate(90 102.5 27.2)"/><rect x="121.8" y="9.9" width="10.5" height="4.6" fill="#b6b6b6" transform="rotate(-35 127 12.2)"/><ellipse cx="106.2" cy="11.5" rx="4.1" ry="3.2" fill="#adadad" transform="rotate(60 106.2 11.5)"/><rect x="118.1" y="20.7" width="8.5" height="7" fill="#bfbfbf" transform="rotate(0 122.3 24.2)"/><ellipse cx="153" cy="26.9" rx="2.6" ry="1.6" fill="#959595" transform="rotate(0 153 26.9)"/><rect x="147.9" y="27.1" width="5.8" height="3.1" fill="#bbbbbb" transform="rotate(0 150.8 28.7)"/><rect x="176.4" y="8" width="11.4" height="4.1" fill="#aaaaaa" transform="rotate(0 182.1 10)"/><rect x="179.4" y="18.4" width="3" height="3.4" fill="#bababa" transform="rotate(-35 180.9 20.1)"/><ellipse cx="241.4" cy="4" rx="6.4" ry="1.3" fill="#adadad" transform="rotate(0 241.4 4)"/><rect x="247.4" y="16.2" width="8.5" height="5.9" fill="#b9b9b9" transform="rotate(90 251.7 19.1)"/><rect x="274.9" y="23.2" width="7.6" height="5.8" fill="#adadad" transform="rotate(0 278.7 26.1)"/><rect x="263.3" y="28.1" width="6.3" height="2.8" fill="#ababab" transform="rotate(60 266.5 29.5)"/><rect x="300.7" y="27.5" width="5" height="6.5" fill="#acacac" transform="rotate(0 303.2 30.8)"/><rect x="-1.6" y="36.6" width="11.5" height="7.9" fill="#b0b0b0" transform="rotate(35 4.2 40.5)"/><ellipse cx="1.9" cy="42.5" rx="4" ry="1.3" fill="#c4c4c4" transform="rotate(-35 1.9 42.5)"/><ellipse cx="3.1" cy="46.6" rx="6.1" ry="2.2" fill="#a9a9a9" transform="rotate(0 3.1 46.6)"/><ellipse cx="10.3" cy="63.6" rx="5.4" ry="3.5" fill="#c1c1c1" transform="rotate(35 10.3 63.6)"/><ellipse cx="33.3" cy="37.7" rx="2.4" ry="3.5" fill="#adadad" transform="rotate(90 33.3 37.7)"/><rect x="39.8" y="50.3" width="6.3" height="4.2" fill="#939393" transform="rotate(35 43 52.4)"/><rect x="61.9" y="49.8" width="6.3" height="7.3" fill="#969696" transform="rotate(35 65.1 53.4)"/><rect x="57.8" y="53.5" width="7.9" height="5" fill="#a9a9a9" transform="rotate(0 61.7 56)"/><rect x="83.9" y="48.9" width="6.5" height="5.3" fill="#bbbbbb" transform="rotate(0 87.1 51.6)"/><rect x="123.8" y="39.6" width="8.3" height="3.4" fill="#b7b7b7" transform="rotate(60 128 41.3)"/><ellipse cx="115.7" cy="53" rx="1.7" ry="3.9" fill="#ababab" transform="rotate(0 115.7 53)"/><rect x="115.1" y="46.2" width="4" height="4.4" fill="#9e9e9e" transform="rotate(0 117.1 48.4)"/><ellipse cx="145.2" cy="48.1" rx="5.5" ry="1.9" fill="#aaaaaa" transform="rotate(35 145.2 48.1)"/><ellipse cx="150.8" cy="63.1" rx="4.6" ry="1.4" fill="#989898" transform="rotate(-35 150.8 63.1)"/><rect x="202.3" y="42.4" width="3.7" height="3.7" fill="#9a9a9a" transform="rotate(0 204.1 44.2)"/><rect x="224.7" y="59.7" width="11" height="3" fill="#c0c0c0" transform="rotate(90 230.2 61.2)"/><ellipse cx="253.6" cy="57" rx="4.6" ry="3.3" fill="#a8a8a8" transform="rotate(90 253.6 57)"/><ellipse cx="255.3" cy="42" rx="6.4" ry="2.2" fill="#acacac" transform="rotate(90 255.3 42)"/><ellipse cx="307.4" cy="35.3" rx="3.7" ry="2.1" fill="#c2c2c2" transform="rotate(0 307.4 35.3)"/><rect x="298.6" y="33" width="10.5" height="4.6" fill="#a9a9a9" transform="rotate(0 303.8 35.3)"/><rect x="309.6" y="56.5" width="10" height="6.1" fill="#adadad" transform="rotate(-35 314.6 59.5)"/><ellipse cx="307.2" cy="63.3" rx="3.7" ry="2" fill="#969696" transform="rotate(60 307.2 63.3)"/><ellipse cx="334.1" cy="62.9" rx="5" ry="3.1" fill="#9e9e9e" transform="rotate(35 334.1 62.9)"/><rect x="318.1" y="48.8" width="7.1" height="6.5" fill="#9b9b9b" transform="rotate(35 321.7 52.1)"/><rect x="25.9" y="66.4" width="10.9" height="4.3" fill="#a2a2a2" transform="rotate(35 31.4 68.5)"/><rect x="12" y="82.7" width="3.6" height="7.7" fill="#bababa" transform="rotate(0 13.8 86.6)"/><ellipse cx="54" cy="70" rx="1.7" ry="2.1" fill="#9b9b9b" transform="rotate(90 54 70)"/><rect x="74.3" y="82.3" width="5.2" height="6.7" fill="#aaaaaa" transform="rotate(0 77 85.6)"/><ellipse cx="71.2" cy="84.5" rx="1.7" ry="3.1" fill="#a6a6a6" transform="rotate(0 71.2 84.5)"/><rect x="108.8" y="93.5" width="3.8" height="6.6" fill="#9e9e9e" transform="rotate(-35 110.7 96.8)"/><ellipse cx="182.2" cy="80.9" rx="3.5" ry="2.4" fill="#999999" transform="rotate(35 182.2 80.9)"/><ellipse cx="238.3" cy="81.5" rx="2" ry="3.6" fill="#a2a2a2" transform="rotate(60 238.3 81.5)"/><ellipse cx="257.4" cy="84.6" rx="1.9" ry="2" fill="#aaaaaa" transform="rotate(0 257.4 84.6)"/><rect x="242.5" y="67.8" width="12.8" height="2.9" fill="#b2b2b2" transform="rotate(60 248.9 69.3)"/><rect x="281.4" y="69.2" width="3.1" height="4.8" fill="#b6b6b6" transform="rotate(90 282.9 71.6)"/><ellipse cx="312.4" cy="82.2" rx="4.4" ry="2.4" fill="#959595" transform="rotate(0 312.4 82.2)"/><ellipse cx="311.5" cy="81.9" rx="2.8" ry="2.9" fill="#a0a0a0" transform="rotate(90 311.5 81.9)"/><ellipse cx="316.3" cy="68.7" rx="4.2" ry="3.7" fill="#bfbfbf" transform="rotate(35 316.3 68.7)"/><ellipse cx="320" cy="71.8" rx="5.3" ry="3.2" fill="#c0c0c0" transform="rotate(0 320 71.8)"/><rect x="328.1" y="64.9" width="9.2" height="6.3" fill="#9c9c9c" transform="rotate(-35 332.7 68.1)"/><rect x="328" y="85.2" width="5" height="6.8" fill="#9b9b9b" transform="rotate(35 330.5 88.6)"/><rect x="2.4" y="122.5" width="8.8" height="6.8" fill="#919191" transform="rotate(90 6.9 125.9)"/><ellipse cx="71.5" cy="119" rx="5.6" ry="3.2" fill="#a5a5a5" transform="rotate(90 71.5 119)"/><rect x="184" y="118.7" width="11.6" height="6.1" fill="#929292" transform="rotate(-35 189.8 121.8)"/><rect x="208.4" y="102.6" width="9.8" height="3.2" fill="#bebebe" transform="rotate(0 213.3 104.2)"/><ellipse cx="282.4" cy="130.4" rx="4.5" ry="2.9" fill="#a2a2a2" transform="rotate(60 282.4 130.4)"/><ellipse cx="332" cy="127.6" rx="5" ry="2" fill="#bfbfbf" transform="rotate(60 332 127.6)"/><ellipse cx="338.5" cy="104.6" rx="3.9" ry="3" fill="#c0c0c0" transform="rotate(90 338.5 104.6)"/><ellipse cx="32.3" cy="164.1" rx="5.9" ry="1.6" fill="#a4a4a4" transform="rotate(0 32.3 164.1)"/><rect x="43.4" y="131.3" width="10.7" height="4.6" fill="#c4c4c4" transform="rotate(0 48.7 133.6)"/><ellipse cx="89.3" cy="136.1" rx="5.2" ry="2.8" fill="#b0b0b0" transform="rotate(0 89.3 136.1)"/><ellipse cx="99.5" cy="160.5" rx="3" ry="3.7" fill="#b9b9b9" transform="rotate(0 99.5 160.5)"/><rect x="132.9" y="151.7" width="3.6" height="4.1" fill="#989898" transform="rotate(-35 134.8 153.7)"/><ellipse cx="265.6" cy="135.7" rx="4.5" ry="2.5" fill="#929292" transform="rotate(0 265.6 135.7)"/><ellipse cx="301.7" cy="144.9" rx="3.7" ry="1.7" fill="#9d9d9d" transform="rotate(-35 301.7 144.9)"/><rect x="331.2" y="152.8" width="12" height="5.1" fill="#999999" transform="rotate(0 337.2 155.3)"/><ellipse cx="34.8" cy="188.6" rx="4.6" ry="3.1" fill="#9a9a9a" transform="rotate(35 34.8 188.6)"/><ellipse cx="57.3" cy="179.2" rx="4.6" ry="1.4" fill="#c2c2c2" transform="rotate(35 57.3 179.2)"/><rect x="72.6" y="169" width="4" height="5.8" fill="#a4a4a4" transform="rotate(0 74.6 171.9)"/><ellipse cx="117.4" cy="169.7" rx="6.2" ry="3.1" fill="#a5a5a5" transform="rotate(0 117.4 169.7)"/><ellipse cx="214.1" cy="183.4" rx="5.9" ry="3" fill="#989898" transform="rotate(0 214.1 183.4)"/><rect x="262.6" y="162.7" width="10.8" height="7.8" fill="#c2c2c2" transform="rotate(60 268 166.6)"/><ellipse cx="283.6" cy="169.7" rx="4.7" ry="1.8" fill="#a1a1a1" transform="rotate(0 283.6 169.7)"/><ellipse cx="327.3" cy="172.8" rx="3.5" ry="1.9" fill="#acacac" transform="rotate(0 327.3 172.8)"/><rect x="11.5" y="210.6" width="10.9" height="6.2" fill="#a2a2a2" transform="rotate(35 16.9 213.7)"/><rect x="66.1" y="205" width="5.3" height="6.7" fill="#aeaeae" transform="rotate(0 68.7 208.3)"/><rect x="77" y="222.4" width="11.4" height="4.5" fill="#b1b1b1" transform="rotate(-35 82.6 224.7)"/><ellipse cx="231.9" cy="219.2" rx="4.8" ry="1.6" fill="#b1b1b1" transform="rotate(35 231.9 219.2)"/><rect x="266" y="208.7" width="6.1" height="6.8" fill="#a1a1a1" transform="rotate(60 269.1 212.1)"/><ellipse cx="315.9" cy="211.3" rx="4.7" ry="4" fill="#a4a4a4" transform="rotate(90 315.9 211.3)"/><rect x="12.6" y="262.5" width="4.7" height="2.9" fill="#999999" transform="rotate(60 14.9 263.9)"/><rect x="81.9" y="251.2" width="8.2" height="6.4" fill="#acacac" transform="rotate(0 86.1 254.4)"/><rect x="128.3" y="243.8" width="12" height="7.8" fill="#a8a8a8" transform="rotate(0 134.3 247.7)"/><rect x="167.8" y="241.9" width="7.1" height="3.4" fill="#b7b7b7" transform="rotate(60 171.4 243.5)"/><rect x="180.8" y="238.9" width="5.3" height="4.4" fill="#b8b8b8" transform="rotate(0 183.4 241.1)"/><rect x="262.2" y="256.6" width="10" height="5.5" fill="#a4a4a4" transform="rotate(0 267.2 259.3)"/><ellipse cx="291.7" cy="239.8" rx="4.4" ry="2.2" fill="#b4b4b4" transform="rotate(35 291.7 239.8)"/><ellipse cx="341.5" cy="251" rx="2.3" ry="1.8" fill="#959595" transform="rotate(0 341.5 251)"/><rect x="37.1" y="266.3" width="8.5" height="4.6" fill="#999999" transform="rotate(0 41.4 268.6)"/><rect x="65.3" y="277.5" width="8.4" height="5.8" fill="#c1c1c1" transform="rotate(0 69.5 280.4)"/><rect x="86.7" y="268.5" width="9.5" height="6" fill="#a9a9a9" transform="rotate(-35 91.5 271.5)"/><rect x="99.8" y="265.5" width="4.8" height="7.6" fill="#b3b3b3" transform="rotate(0 102.2 269.3)"/><ellipse cx="118.7" cy="296.1" rx="4.9" ry="3.2" fill="#bdbdbd" transform="rotate(-35 118.7 296.1)"/><ellipse cx="113.6" cy="274.7" rx="3.6" ry="2.8" fill="#9e9e9e" transform="rotate(0 113.6 274.7)"/><rect x="162.7" y="287.9" width="4.7" height="3.4" fill="#959595" transform="rotate(0 165.1 289.6)"/><rect x="176.9" y="284.1" width="5.8" height="6.4" fill="#b6b6b6" transform="rotate(0 179.8 287.3)"/><rect x="281.6" y="296.6" width="9.6" height="4" fill="#989898" transform="rotate(60 286.4 298.6)"/><rect x="333" y="273.5" width="8.1" height="5.2" fill="#bababa" transform="rotate(0 337.1 276.1)"/><rect x="332" y="272.3" width="9" height="5.1" fill="#bfbfbf" transform="rotate(60 336.5 274.9)"/><rect x="330.7" y="288" width="12" height="5.9" fill="#bcbcbc" transform="rotate(90 336.7 291)"/><rect x="52.6" y="299.5" width="5.1" height="2.8" fill="#a8a8a8" transform="rotate(0 55.2 300.8)"/><rect x="71.3" y="299.9" width="12.2" height="3.9" fill="#a4a4a4" transform="rotate(0 77.4 301.9)"/><ellipse cx="76.1" cy="302" rx="5.9" ry="2.2" fill="#a8a8a8" transform="rotate(90 76.1 302)"/><ellipse cx="135.8" cy="311.3" rx="5.4" ry="3.2" fill="#9a9a9a" transform="rotate(0 135.8 311.3)"/><ellipse cx="126.4" cy="302.3" rx="4" ry="1.8" fill="#929292" transform="rotate(0 126.4 302.3)"/><ellipse cx="112.7" cy="326.5" rx="3" ry="3.9" fill="#bbbbbb" transform="rotate(0 112.7 326.5)"/><ellipse cx="165.5" cy="321.5" rx="5.8" ry="2.6" fill="#bababa" transform="rotate(-35 165.5 321.5)"/><ellipse cx="174.6" cy="318.4" rx="2.3" ry="3.2" fill="#a9a9a9" transform="rotate(60 174.6 318.4)"/><rect x="185.5" y="320.6" width="3.3" height="3.6" fill="#979797" transform="rotate(90 187.1 322.4)"/><rect x="258.8" y="316" width="6.4" height="3.1" fill="#adadad" transform="rotate(0 262 317.6)"/><rect x="295.9" y="310.3" width="4.4" height="4.8" fill="#949494" transform="rotate(-35 298.1 312.7)"/><ellipse cx="319.2" cy="317.6" rx="3.7" ry="2" fill="#939393" transform="rotate(0 319.2 317.6)"/><ellipse cx="315.5" cy="302.8" rx="6" ry="1.7" fill="#a6a6a6" transform="rotate(0 315.5 302.8)"/><rect x="203" y="212.5" width="32" height="26.5" rx="4" fill="#b8b8b8"/><ellipse cx="274.5" cy="156" rx="9.5" ry="9" fill="#a6a6a6"/><ellipse cx="101" cy="100.5" rx="12" ry="5" fill="#a6a6a6"/><ellipse cx="76" cy="96" rx="6" ry="5" fill="#a6a6a6"/><ellipse cx="196.5" cy="133.5" rx="4.5" ry="4" fill="#a6a6a6"/><circle cx="250" cy="86.5" r="4.2" fill="#bababa"/><ellipse cx="98" cy="157" rx="7" ry="9" fill="#a6a6a6"/><ellipse cx="70" cy="161" rx="14" ry="3.5" fill="#a6a6a6"/><ellipse cx="255" cy="239" rx="10" ry="6" fill="#a6a6a6"/><ellipse cx="174" cy="244" rx="9" ry="5" fill="#9c9c9c"/><ellipse cx="33" cy="19" rx="9" ry="8" fill="#a6a6a6"/><ellipse cx="334" cy="84" rx="10" ry="26" fill="#a6a6a6"/><ellipse cx="296" cy="98" rx="7" ry="11" fill="#a6a6a6"/></g>
<use href="#mwhite"/>
</g>
<g fill="none" stroke="#f00" stroke-width="1.9"><circle cx="77.7" cy="150.4" r="22.6"/><circle cx="273.5" cy="155.6" r="16.3"/><circle cx="217.4" cy="224.8" r="21"/><circle cx="258.3" cy="234.6" r="19"/></g>
<text x="39.8" y="55" font-size="29.5" font-weight="bold" textLength="25.5" lengthAdjust="spacingAndGlyphs">f4</text>
<text x="35.2" y="306.4" font-size="30.5" font-weight="bold" textLength="157" lengthAdjust="spacingAndGlyphs">1999/07/25</text>
</g>
<g transform="translate(1047 763)">
<g clip-path="url(#mclip)">
<g filter="url(#mff5)">
<rect x="-40" y="-40" width="75.5" height="73.7" fill="#919191"/>
<rect x="35" y="-40" width="35.5" height="73.7" fill="#6c6c6c"/>
<rect x="70" y="-40" width="140.5" height="73.7" fill="#616161"/>
<rect x="210" y="-40" width="35.5" height="73.7" fill="#6c6c6c"/>
<rect x="245" y="-40" width="35.5" height="73.7" fill="#616161"/>
<rect x="280" y="-40" width="35.5" height="73.7" fill="#7a7a7a"/>
<rect x="315" y="-40" width="75.5" height="73.7" fill="#919191"/>
<rect x="-40" y="33.2" width="75.5" height="33.7" fill="#7a7a7a"/>
<rect x="35" y="33.2" width="70.5" height="33.7" fill="#575757"/>
<rect x="105" y="33.2" width="140.5" height="33.7" fill="#616161"/>
<rect x="245" y="33.2" width="70.5" height="33.7" fill="#6c6c6c"/>
<rect x="315" y="33.2" width="75.5" height="33.7" fill="#919191"/>
<rect x="-40" y="66.4" width="75.5" height="33.7" fill="#616161"/>
<rect x="35" y="66.4" width="35.5" height="33.7" fill="#575757"/>
<rect x="70" y="66.4" width="35.5" height="33.7" fill="#616161"/>
<rect x="105" y="66.4" width="35.5" height="33.7" fill="#575757"/>
<rect x="140" y="66.4" width="175.5" height="33.7" fill="#616161"/>
<rect x="315" y="66.4" width="75.5" height="33.7" fill="#7a7a7a"/>
<rect x="-40" y="99.6" width="215.5" height="33.7" fill="#575757"/>
<rect x="175" y="99.6" width="70.5" height="33.7" fill="#616161"/>
<rect x="245" y="99.6" width="35.5" height="33.7" fill="#575757"/>
<rect x="280" y="99.6" width="35.5" height="33.7" fill="#616161"/>
<rect x="315" y="99.6" width="75.5" height="33.7" fill="#6c6c6c"/>
<rect x="-40" y="132.8" width="75.5" height="33.7" fill="#616161"/>
<rect x="35" y="132.8" width="35.5" height="33.7" fill="#575757"/>
<rect x="70" y="132.8" width="35.5" height="33.7" fill="#616161"/>
<rect x="105" y="132.8" width="140.5" height="33.7" fill="#575757"/>
<rect x="245" y="132.8" width="35.5" height="33.7" fill="#616161"/>
<rect x="280" y="132.8" width="35.5" height="33.7" fill="#575757"/>
<rect x="315" y="132.8" width="75.5" height="33.7" fill="#616161"/>
<rect x="-40" y="166" width="110.5" height="33.7" fill="#616161"/>
<rect x="70" y="166" width="105.5" height="33.7" fill="#575757"/>
<rect x="175" y="166" width="70.5" height="33.7" fill="#4e4e4e"/>
<rect x="245" y="166" width="35.5" height="33.7" fill="#575757"/>
<rect x="280" y="166" width="35.5" height="33.7" fill="#4e4e4e"/>
<rect x="315" y="166" width="75.5" height="33.7" fill="#575757"/>
<rect x="-40" y="199.2" width="110.5" height="33.7" fill="#575757"/>
<rect x="70" y="199.2" width="105.5" height="33.7" fill="#4e4e4e"/>
<rect x="175" y="199.2" width="35.5" height="33.7" fill="#464646"/>
<rect x="210" y="199.2" width="35.5" height="33.7" fill="#4e4e4e"/>
<rect x="245" y="199.2" width="145.5" height="33.7" fill="#575757"/>
<rect x="-40" y="232.4" width="215.5" height="33.7" fill="#4e4e4e"/>
<rect x="175" y="232.4" width="35.5" height="33.7" fill="#575757"/>
<rect x="210" y="232.4" width="35.5" height="33.7" fill="#4e4e4e"/>
<rect x="245" y="232.4" width="35.5" height="33.7" fill="#616161"/>
<rect x="280" y="232.4" width="110.5" height="33.7" fill="#575757"/>
<rect x="-40" y="265.6" width="75.5" height="33.7" fill="#464646"/>
<rect x="35" y="265.6" width="35.5" height="33.7" fill="#4e4e4e"/>
<rect x="70" y="265.6" width="35.5" height="33.7" fill="#575757"/>
<rect x="105" y="265.6" width="35.5" height="33.7" fill="#4e4e4e"/>
<rect x="140" y="265.6" width="35.5" height="33.7" fill="#575757"/>
<rect x="175" y="265.6" width="70.5" height="33.7" fill="#4e4e4e"/>
<rect x="245" y="265.6" width="35.5" height="33.7" fill="#575757"/>
<rect x="280" y="265.6" width="35.5" height="33.7" fill="#4e4e4e"/>
<rect x="315" y="265.6" width="75.5" height="33.7" fill="#575757"/>
<rect x="-40" y="298.8" width="75.5" height="73.7" fill="#464646"/>
<rect x="35" y="298.8" width="35.5" height="73.7" fill="#4e4e4e"/>
<rect x="70" y="298.8" width="70.5" height="73.7" fill="#575757"/>
<rect x="140" y="298.8" width="105.5" height="73.7" fill="#4e4e4e"/>
<rect x="245" y="298.8" width="35.5" height="73.7" fill="#575757"/>
<rect x="280" y="298.8" width="35.5" height="73.7" fill="#616161"/>
<rect x="315" y="298.8" width="75.5" height="73.7" fill="#6c6c6c"/>
<path d="M0.5 46L1.5 42.1L5.3 38.3L10 35.5L15.7 31.7L21.3 26L26 20.4L30.8 14.2L34.5 11.4L40.2 9.5L49.6 8.6L87.4 7.2L134.6 5.7L173 3.9L220.2 2L257.9 0.1L261.7 0.4L267.4 2L276.8 7.2L295.7 22.3L314.6 38.3L333.5 54.3L341 61.9L344.3 68.5L346.2 77.9L346.5 137L346.5 197L345.9 225.3L344.8 244.2L342.9 263.1L341 281.9L339.1 293.3L335.3 301.8L328.7 310.3L319.3 318.8L309.9 323.5L300.4 325.8L286.3 327.7L248.5 328.7L173 330.1L35.5 331.5L27.9 330.6L24.1 327.2L21.3 319.7L19 310.3L16.1 303.7L15.2 291.4L14.7 263.1L13.3 253.6L9 246.1L4.3 234.8L1 215.9L0.1 197Z" fill="none" stroke="#a8a8a8" stroke-width="12" opacity="0.50"/>
</g>
<g filter="url(#mcf5)"><ellipse cx="31.9" cy="24.8" rx="5.7" ry="1.3" fill="#bcbcbc" transform="rotate(60 31.9 24.8)"/><ellipse cx="20.9" cy="33.1" rx="6.3" ry="1.5" fill="#bebebe" transform="rotate(-35 20.9 33.1)"/><ellipse cx="31.7" cy="24.8" rx="4.9" ry="2" fill="#c5c5c5" transform="rotate(60 31.7 24.8)"/><ellipse cx="33.2" cy="28.4" rx="2.8" ry="2.2" fill="#d5d5d5" transform="rotate(60 33.2 28.4)"/><rect x="57" y="18.5" width="5.9" height="4.2" fill="#c0c0c0" transform="rotate(0 60 20.6)"/><ellipse cx="73.4" cy="11.8" rx="4.6" ry="2.1" fill="#adadad" transform="rotate(-35 73.4 11.8)"/><ellipse cx="134.2" cy="6.3" rx="4.6" ry="2.9" fill="#d2d2d2" transform="rotate(-35 134.2 6.3)"/><rect x="143.7" y="21.7" width="4.1" height="3.7" fill="#c2c2c2" transform="rotate(0 145.8 23.5)"/><ellipse cx="206.9" cy="3.5" rx="2.5" ry="2.1" fill="#b7b7b7" transform="rotate(35 206.9 3.5)"/><ellipse cx="210.3" cy="28.5" rx="6.2" ry="2.4" fill="#bebebe" transform="rotate(-35 210.3 28.5)"/><ellipse cx="222.2" cy="30.5" rx="3.3" ry="1.7" fill="#b0b0b0" transform="rotate(-35 222.2 30.5)"/><rect x="228.2" y="7.2" width="10.8" height="2.8" fill="#d6d6d6" transform="rotate(35 233.6 8.6)"/><rect x="242.6" y="26.4" width="11.1" height="3.1" fill="#b5b5b5" transform="rotate(0 248.1 27.9)"/><rect x="283" y="27" width="9.5" height="4.1" fill="#a8a8a8" transform="rotate(0 287.7 29)"/><ellipse cx="6.8" cy="55.7" rx="4.5" ry="1.8" fill="#a9a9a9" transform="rotate(60 6.8 55.7)"/><rect x="15.5" y="37.3" width="7.2" height="6.2" fill="#bcbcbc" transform="rotate(60 19.1 40.4)"/><rect x="-0.9" y="52.6" width="3.4" height="3.5" fill="#afafaf" transform="rotate(90 0.8 54.4)"/><rect x="6.9" y="43.8" width="9.6" height="3.1" fill="#b8b8b8" transform="rotate(-35 11.7 45.4)"/><ellipse cx="8.7" cy="45.5" rx="5" ry="4" fill="#b1b1b1" transform="rotate(90 8.7 45.5)"/><rect x="49.4" y="32.2" width="8.2" height="6.5" fill="#b0b0b0" transform="rotate(-35 53.5 35.5)"/><ellipse cx="71.6" cy="50.5" rx="5" ry="1.9" fill="#bbbbbb" transform="rotate(-35 71.6 50.5)"/><ellipse cx="132.2" cy="65.5" rx="2.1" ry="3.6" fill="#c0c0c0" transform="rotate(35 132.2 65.5)"/><rect x="157.7" y="46.9" width="10.1" height="4.2" fill="#a6a6a6" transform="rotate(35 162.7 49)"/><ellipse cx="196.3" cy="45.1" rx="2.4" ry="3.6" fill="#bfbfbf" transform="rotate(0 196.3 45.1)"/><rect x="222.3" y="34.4" width="8.3" height="5.4" fill="#b6b6b6" transform="rotate(60 226.5 37.1)"/><rect x="216.7" y="56.6" width="5.4" height="6.4" fill="#bdbdbd" transform="rotate(0 219.3 59.8)"/><rect x="267.3" y="32.4" width="9.9" height="4.1" fill="#c8c8c8" transform="rotate(-35 272.2 34.5)"/><ellipse cx="276" cy="38.4" rx="2.6" ry="1.8" fill="#a3a3a3" transform="rotate(-35 276 38.4)"/><rect x="247" y="50.2" width="8.3" height="6.9" fill="#aeaeae" transform="rotate(0 251.1 53.6)"/><ellipse cx="305.7" cy="43.1" rx="3.7" ry="1.9" fill="#adadad" transform="rotate(60 305.7 43.1)"/><ellipse cx="291.9" cy="50.1" rx="2" ry="3.1" fill="#d5d5d5" transform="rotate(90 291.9 50.1)"/><ellipse cx="291.2" cy="55.8" rx="1.5" ry="2.9" fill="#cccccc" transform="rotate(0 291.2 55.8)"/><ellipse cx="316.7" cy="61.7" rx="2.6" ry="3.8" fill="#cfcfcf" transform="rotate(-35 316.7 61.7)"/><ellipse cx="19" cy="73.9" rx="1.9" ry="1.4" fill="#d3d3d3" transform="rotate(0 19 73.9)"/><ellipse cx="7.9" cy="90.3" rx="3.9" ry="3" fill="#bebebe" transform="rotate(-35 7.9 90.3)"/><ellipse cx="44.6" cy="99.1" rx="4.1" ry="3.2" fill="#b6b6b6" transform="rotate(0 44.6 99.1)"/><ellipse cx="72.1" cy="85.4" rx="3.8" ry="3.9" fill="#aaaaaa" transform="rotate(0 72.1 85.4)"/><rect x="114" y="85.3" width="6" height="6.1" fill="#b6b6b6" transform="rotate(60 117 88.4)"/><ellipse cx="144.8" cy="98.4" rx="6" ry="2.8" fill="#cfcfcf" transform="rotate(90 144.8 98.4)"/><rect x="146.3" y="88.4" width="11.8" height="6.2" fill="#b4b4b4" transform="rotate(90 152.2 91.5)"/><rect x="188.1" y="95.4" width="3.6" height="3.1" fill="#a4a4a4" transform="rotate(35 189.9 96.9)"/><rect x="206.4" y="67.9" width="9.2" height="3.7" fill="#aeaeae" transform="rotate(35 211 69.7)"/><rect x="234.5" y="66" width="11.5" height="6.3" fill="#bfbfbf" transform="rotate(90 240.3 69.2)"/><ellipse cx="255.2" cy="81.3" rx="2.2" ry="3.2" fill="#adadad" transform="rotate(35 255.2 81.3)"/><rect x="310.9" y="65.1" width="5.9" height="4.2" fill="#bbbbbb" transform="rotate(90 313.9 67.2)"/><rect x="307.3" y="79.3" width="6.2" height="4.1" fill="#bababa" transform="rotate(35 310.4 81.4)"/><ellipse cx="316.5" cy="81.1" rx="4.4" ry="2.8" fill="#d2d2d2" transform="rotate(90 316.5 81.1)"/><rect x="321.8" y="63.3" width="4.5" height="7.8" fill="#d2d2d2" transform="rotate(0 324 67.2)"/><rect x="324.4" y="77.2" width="5.7" height="6.1" fill="#a7a7a7" transform="rotate(60 327.2 80.2)"/><ellipse cx="333.2" cy="88.5" rx="5.9" ry="3.5" fill="#a9a9a9" transform="rotate(60 333.2 88.5)"/><ellipse cx="99.3" cy="131.8" rx="4.3" ry="1.4" fill="#cdcdcd" transform="rotate(90 99.3 131.8)"/><ellipse cx="145.7" cy="130.3" rx="5" ry="3.4" fill="#cbcbcb" transform="rotate(90 145.7 130.3)"/><ellipse cx="207.1" cy="127.1" rx="5.7" ry="3" fill="#d1d1d1" transform="rotate(0 207.1 127.1)"/><rect x="231.9" y="108.5" width="3.5" height="2.8" fill="#b2b2b2" transform="rotate(90 233.7 110)"/><rect x="260.2" y="123.9" width="8.3" height="4.1" fill="#bababa" transform="rotate(0 264.3 125.9)"/><rect x="290.7" y="98.7" width="7.5" height="3.3" fill="#c7c7c7" transform="rotate(60 294.4 100.3)"/><rect x="285.6" y="110.9" width="12.2" height="6.6" fill="#c9c9c9" transform="rotate(-35 291.7 114.2)"/><rect x="329.1" y="115.9" width="11.4" height="5.2" fill="#bbbbbb" transform="rotate(-35 334.8 118.5)"/><rect x="332.1" y="125.5" width="11.6" height="5.2" fill="#c9c9c9" transform="rotate(-35 337.9 128.1)"/><rect x="318.7" y="110" width="10.5" height="3.3" fill="#bfbfbf" transform="rotate(60 324 111.6)"/><ellipse cx="0.5" cy="158.9" rx="3.8" ry="3.5" fill="#cbcbcb" transform="rotate(0 0.5 158.9)"/><ellipse cx="62.4" cy="164.9" rx="4.2" ry="3.4" fill="#cdcdcd" transform="rotate(-35 62.4 164.9)"/><ellipse cx="102.1" cy="153.2" rx="5" ry="3.8" fill="#c4c4c4" transform="rotate(35 102.1 153.2)"/><rect x="157.2" y="141.6" width="6.6" height="5.3" fill="#a6a6a6" transform="rotate(35 160.5 144.2)"/><ellipse cx="211.5" cy="164.4" rx="2.9" ry="2.6" fill="#acacac" transform="rotate(0 211.5 164.4)"/><ellipse cx="268.8" cy="135.4" rx="3.9" ry="3.8" fill="#d2d2d2" transform="rotate(0 268.8 135.4)"/><rect x="248.4" y="154.6" width="12.6" height="3.8" fill="#bcbcbc" transform="rotate(60 254.7 156.5)"/><ellipse cx="333" cy="156" rx="5.1" ry="2" fill="#bababa" transform="rotate(0 333 156)"/><rect x="-1.1" y="166.8" width="4.3" height="6.4" fill="#b2b2b2" transform="rotate(-35 1 170)"/><rect x="26.3" y="195.4" width="9.1" height="5.6" fill="#aaaaaa" transform="rotate(0 30.8 198.2)"/><ellipse cx="52" cy="173.3" rx="5.5" ry="2.8" fill="#d5d5d5" transform="rotate(-35 52 173.3)"/><rect x="109.6" y="174.3" width="6.9" height="5.7" fill="#c5c5c5" transform="rotate(60 113.1 177.2)"/><ellipse cx="166.6" cy="178.5" rx="3.7" ry="2.8" fill="#b7b7b7" transform="rotate(0 166.6 178.5)"/><rect x="192" y="165.6" width="4.7" height="5.6" fill="#b0b0b0" transform="rotate(0 194.3 168.4)"/><rect x="226.6" y="191.6" width="7.5" height="3.9" fill="#cdcdcd" transform="rotate(0 230.4 193.5)"/><rect x="256.7" y="179.5" width="3.7" height="7.9" fill="#cccccc" transform="rotate(90 258.6 183.4)"/><rect x="322.8" y="167.1" width="12.1" height="4.8" fill="#a6a6a6" transform="rotate(90 328.8 169.6)"/><rect x="4" y="200.8" width="3.3" height="8" fill="#c0c0c0" transform="rotate(0 5.6 204.8)"/><rect x="97.6" y="208.3" width="4" height="2.9" fill="#b7b7b7" transform="rotate(0 99.6 209.8)"/><ellipse cx="121.6" cy="218.8" rx="3.8" ry="1.8" fill="#bebebe" transform="rotate(0 121.6 218.8)"/><rect x="171" y="209" width="12.5" height="7.6" fill="#bdbdbd" transform="rotate(60 177.2 212.8)"/><ellipse cx="239.7" cy="216" rx="2.5" ry="3.5" fill="#cacaca" transform="rotate(60 239.7 216)"/><rect x="264" y="223.7" width="4.1" height="4.3" fill="#c0c0c0" transform="rotate(0 266.1 225.8)"/><ellipse cx="282.7" cy="207.4" rx="2.8" ry="2.7" fill="#d0d0d0" transform="rotate(0 282.7 207.4)"/><rect x="335.9" y="198.4" width="6.8" height="5.8" fill="#cecece" transform="rotate(60 339.3 201.3)"/><rect x="54.8" y="246.2" width="3.7" height="3" fill="#a4a4a4" transform="rotate(0 56.7 247.7)"/><rect x="208" y="243.7" width="6.7" height="6.4" fill="#d5d5d5" transform="rotate(0 211.4 246.9)"/><ellipse cx="260" cy="258.2" rx="5.6" ry="1.8" fill="#c3c3c3" transform="rotate(0 260 258.2)"/><rect x="258.6" y="237.5" width="4.6" height="7.2" fill="#cdcdcd" transform="rotate(0 260.8 241.1)"/><rect x="278.3" y="241.3" width="9.6" height="4.4" fill="#a5a5a5" transform="rotate(35 283.1 243.5)"/><rect x="61.4" y="285" width="5" height="3.6" fill="#d4d4d4" transform="rotate(0 63.9 286.8)"/><ellipse cx="74.6" cy="266.2" rx="4" ry="1.9" fill="#b1b1b1" transform="rotate(60 74.6 266.2)"/><rect x="212.8" y="267.1" width="6" height="6.1" fill="#bfbfbf" transform="rotate(90 215.8 270.1)"/><rect x="258.7" y="278" width="11.1" height="7.1" fill="#a4a4a4" transform="rotate(60 264.3 281.5)"/><rect x="302.1" y="268.8" width="12.6" height="4.2" fill="#b0b0b0" transform="rotate(35 308.4 270.9)"/><rect x="333.1" y="279.7" width="9.8" height="5.5" fill="#acacac" transform="rotate(0 338 282.5)"/><ellipse cx="103" cy="320.6" rx="2.3" ry="2.4" fill="#d0d0d0" transform="rotate(-35 103 320.6)"/><rect x="113" y="305.8" width="12.7" height="3.7" fill="#a6a6a6" transform="rotate(60 119.4 307.7)"/><ellipse cx="163.8" cy="307.8" rx="1.9" ry="1.9" fill="#b9b9b9" transform="rotate(0 163.8 307.8)"/><ellipse cx="274.8" cy="319.6" rx="5.8" ry="2.4" fill="#b6b6b6" transform="rotate(0 274.8 319.6)"/><ellipse cx="280.2" cy="306" rx="6.4" ry="4" fill="#a9a9a9" transform="rotate(0 280.2 306)"/><rect x="203" y="212.5" width="32" height="26.5" rx="4" fill="#c7c7c7"/><ellipse cx="274.5" cy="156" rx="9.5" ry="9" fill="#999999"/><ellipse cx="101" cy="100.5" rx="12" ry="5" fill="#a6a6a6"/><ellipse cx="76" cy="96" rx="6" ry="5" fill="#a6a6a6"/><ellipse cx="196.5" cy="133.5" rx="4.5" ry="4" fill="#a6a6a6"/><circle cx="250" cy="86.5" r="4.2" fill="#bababa"/><ellipse cx="98" cy="157" rx="7" ry="9" fill="#999999"/><ellipse cx="70" cy="161" rx="14" ry="3.5" fill="#999999"/><ellipse cx="255" cy="239" rx="10" ry="6" fill="#999999"/><ellipse cx="174" cy="244" rx="9" ry="5" fill="#8f8f8f"/><ellipse cx="33" cy="19" rx="9" ry="8" fill="#b8b8b8"/><ellipse cx="334" cy="84" rx="10" ry="26" fill="#b8b8b8"/><ellipse cx="296" cy="98" rx="7" ry="11" fill="#999999"/></g>
<use href="#mwhite"/>
</g>
<g fill="none" stroke="#f00" stroke-width="1.9"><circle cx="78.3" cy="149.7" r="22.6"/><circle cx="273.7" cy="154.5" r="16.3"/><circle cx="218.2" cy="223" r="20.7"/><circle cx="258.9" cy="233.9" r="19"/></g>
<text x="37.6" y="53.3" font-size="29.5" font-weight="bold" textLength="25.5" lengthAdjust="spacingAndGlyphs">f5</text>
<text x="38.8" y="307.9" font-size="30.5" font-weight="bold" textLength="157" lengthAdjust="spacingAndGlyphs">2005/07/25</text>
</g>
<g transform="translate(1427 763)">
<g clip-path="url(#mclip)">
<g filter="url(#mff6)">
<rect x="-40" y="-40" width="75.5" height="73.7" fill="#919191"/>
<rect x="35" y="-40" width="175.5" height="73.7" fill="#7a7a7a"/>
<rect x="210" y="-40" width="35.5" height="73.7" fill="#6c6c6c"/>
<rect x="245" y="-40" width="35.5" height="73.7" fill="#575757"/>
<rect x="280" y="-40" width="35.5" height="73.7" fill="#6c6c6c"/>
<rect x="315" y="-40" width="75.5" height="73.7" fill="#7a7a7a"/>
<rect x="-40" y="33.2" width="110.5" height="33.7" fill="#7a7a7a"/>
<rect x="70" y="33.2" width="35.5" height="33.7" fill="#6c6c6c"/>
<rect x="105" y="33.2" width="140.5" height="33.7" fill="#7a7a7a"/>
<rect x="245" y="33.2" width="35.5" height="33.7" fill="#6c6c6c"/>
<rect x="280" y="33.2" width="35.5" height="33.7" fill="#616161"/>
<rect x="315" y="33.2" width="75.5" height="33.7" fill="#7a7a7a"/>
<rect x="-40" y="66.4" width="145.5" height="33.7" fill="#7a7a7a"/>
<rect x="105" y="66.4" width="70.5" height="33.7" fill="#6c6c6c"/>
<rect x="175" y="66.4" width="35.5" height="33.7" fill="#616161"/>
<rect x="210" y="66.4" width="35.5" height="33.7" fill="#6c6c6c"/>
<rect x="245" y="66.4" width="35.5" height="33.7" fill="#616161"/>
<rect x="280" y="66.4" width="35.5" height="33.7" fill="#6c6c6c"/>
<rect x="315" y="66.4" width="75.5" height="33.7" fill="#7a7a7a"/>
<rect x="-40" y="99.6" width="75.5" height="33.7" fill="#616161"/>
<rect x="35" y="99.6" width="70.5" height="33.7" fill="#7a7a7a"/>
<rect x="105" y="99.6" width="35.5" height="33.7" fill="#6c6c6c"/>
<rect x="140" y="99.6" width="35.5" height="33.7" fill="#616161"/>
<rect x="175" y="99.6" width="35.5" height="33.7" fill="#6c6c6c"/>
<rect x="210" y="99.6" width="70.5" height="33.7" fill="#616161"/>
<rect x="280" y="99.6" width="110.5" height="33.7" fill="#6c6c6c"/>
<rect x="-40" y="132.8" width="75.5" height="33.7" fill="#616161"/>
<rect x="35" y="132.8" width="35.5" height="33.7" fill="#6c6c6c"/>
<rect x="70" y="132.8" width="35.5" height="33.7" fill="#7a7a7a"/>
<rect x="105" y="132.8" width="35.5" height="33.7" fill="#6c6c6c"/>
<rect x="140" y="132.8" width="35.5" height="33.7" fill="#616161"/>
<rect x="175" y="132.8" width="35.5" height="33.7" fill="#6c6c6c"/>
<rect x="210" y="132.8" width="35.5" height="33.7" fill="#575757"/>
<rect x="245" y="132.8" width="35.5" height="33.7" fill="#6c6c6c"/>
<rect x="280" y="132.8" width="35.5" height="33.7" fill="#616161"/>
<rect x="315" y="132.8" width="75.5" height="33.7" fill="#6c6c6c"/>
<rect x="-40" y="166" width="75.5" height="33.7" fill="#616161"/>
<rect x="35" y="166" width="140.5" height="33.7" fill="#6c6c6c"/>
<rect x="175" y="166" width="105.5" height="33.7" fill="#4e4e4e"/>
<rect x="280" y="166" width="35.5" height="33.7" fill="#575757"/>
<rect x="315" y="166" width="75.5" height="33.7" fill="#616161"/>
<rect x="-40" y="199.2" width="75.5" height="33.7" fill="#6c6c6c"/>
<rect x="35" y="199.2" width="140.5" height="33.7" fill="#616161"/>
<rect x="175" y="199.2" width="35.5" height="33.7" fill="#4e4e4e"/>
<rect x="210" y="199.2" width="105.5" height="33.7" fill="#575757"/>
<rect x="315" y="199.2" width="75.5" height="33.7" fill="#616161"/>
<rect x="-40" y="232.4" width="75.5" height="33.7" fill="#575757"/>
<rect x="35" y="232.4" width="245.5" height="33.7" fill="#616161"/>
<rect x="280" y="232.4" width="35.5" height="33.7" fill="#4e4e4e"/>
<rect x="315" y="232.4" width="75.5" height="33.7" fill="#575757"/>
<rect x="-40" y="265.6" width="75.5" height="33.7" fill="#616161"/>
<rect x="35" y="265.6" width="35.5" height="33.7" fill="#6c6c6c"/>
<rect x="70" y="265.6" width="35.5" height="33.7" fill="#616161"/>
<rect x="105" y="265.6" width="35.5" height="33.7" fill="#575757"/>
<rect x="140" y="265.6" width="35.5" height="33.7" fill="#616161"/>
<rect x="175" y="265.6" width="35.5" height="33.7" fill="#4e4e4e"/>
<rect x="210" y="265.6" width="35.5" height="33.7" fill="#575757"/>
<rect x="245" y="265.6" width="35.5" height="33.7" fill="#4e4e4e"/>
<rect x="280" y="265.6" width="35.5" height="33.7" fill="#464646"/>
<rect x="315" y="265.6" width="75.5" height="33.7" fill="#575757"/>
<rect x="-40" y="298.8" width="75.5" height="73.7" fill="#616161"/>
<rect x="35" y="298.8" width="35.5" height="73.7" fill="#6c6c6c"/>
<rect x="70" y="298.8" width="35.5" height="73.7" fill="#7a7a7a"/>
<rect x="105" y="298.8" width="35.5" height="73.7" fill="#6c6c6c"/>
<rect x="140" y="298.8" width="35.5" height="73.7" fill="#575757"/>
<rect x="175" y="298.8" width="140.5" height="73.7" fill="#4e4e4e"/>
<rect x="315" y="298.8" width="75.5" height="73.7" fill="#616161"/>
<path d="M0.5 46L1.5 42.1L5.3 38.3L10 35.5L15.7 31.7L21.3 26L26 20.4L30.8 14.2L34.5 11.4L40.2 9.5L49.6 8.6L87.4 7.2L134.6 5.7L173 3.9L220.2 2L257.9 0.1L261.7 0.4L267.4 2L276.8 7.2L295.7 22.3L314.6 38.3L333.5 54.3L341 61.9L344.3 68.5L346.2 77.9L346.5 137L346.5 197L345.9 225.3L344.8 244.2L342.9 263.1L341 281.9L339.1 293.3L335.3 301.8L328.7 310.3L319.3 318.8L309.9 323.5L300.4 325.8L286.3 327.7L248.5 328.7L173 330.1L35.5 331.5L27.9 330.6L24.1 327.2L21.3 319.7L19 310.3L16.1 303.7L15.2 291.4L14.7 263.1L13.3 253.6L9 246.1L4.3 234.8L1 215.9L0.1 197Z" fill="none" stroke="#a8a8a8" stroke-width="12" opacity="0.50"/>
</g>
<g filter="url(#mcf6)"><ellipse cx="21.4" cy="32.9" rx="3" ry="2.5" fill="#a9a9a9" transform="rotate(0 21.4 32.9)"/><ellipse cx="28.6" cy="27.7" rx="1.9" ry="2.4" fill="#d6d6d6" transform="rotate(60 28.6 27.7)"/><rect x="26.8" y="29.1" width="10.3" height="5.3" fill="#c3c3c3" transform="rotate(0 32 31.7)"/><ellipse cx="49.1" cy="24.7" rx="2.7" ry="2" fill="#c5c5c5" transform="rotate(0 49.1 24.7)"/><ellipse cx="56.2" cy="31.7" rx="5.6" ry="3" fill="#a5a5a5" transform="rotate(0 56.2 31.7)"/><rect x="37.9" y="17.5" width="9.9" height="7.4" fill="#d2d2d2" transform="rotate(35 42.8 21.2)"/><rect x="94" y="4.3" width="9.4" height="5.2" fill="#b6b6b6" transform="rotate(0 98.8 6.9)"/><ellipse cx="97.8" cy="28.2" rx="4.4" ry="2.5" fill="#a8a8a8" transform="rotate(0 97.8 28.2)"/><ellipse cx="92.5" cy="24.6" rx="2.4" ry="1.4" fill="#bfbfbf" transform="rotate(0 92.5 24.6)"/><ellipse cx="100.6" cy="7.5" rx="5.1" ry="1.7" fill="#acacac" transform="rotate(35 100.6 7.5)"/><ellipse cx="127.1" cy="24.7" rx="5.9" ry="2.4" fill="#c8c8c8" transform="rotate(90 127.1 24.7)"/><rect x="104.4" y="13.5" width="12.1" height="7" fill="#a7a7a7" transform="rotate(0 110.5 17)"/><rect x="106.8" y="25.6" width="12" height="3.5" fill="#d2d2d2" transform="rotate(60 112.8 27.3)"/><rect x="132.7" y="2.9" width="12.1" height="5.9" fill="#b4b4b4" transform="rotate(60 138.7 5.9)"/><rect x="141.4" y="26.1" width="7.8" height="2.7" fill="#bfbfbf" transform="rotate(35 145.3 27.4)"/><rect x="167.1" y="31.3" width="9.5" height="3.4" fill="#d6d6d6" transform="rotate(0 171.9 33)"/><ellipse cx="152.7" cy="25.8" rx="5.4" ry="2.7" fill="#cfcfcf" transform="rotate(-35 152.7 25.8)"/><ellipse cx="167.9" cy="18.6" rx="6.2" ry="3.7" fill="#c4c4c4" transform="rotate(90 167.9 18.6)"/><ellipse cx="199.7" cy="17.4" rx="3.2" ry="2.7" fill="#c3c3c3" transform="rotate(60 199.7 17.4)"/><ellipse cx="201.6" cy="19.8" rx="3.4" ry="2.8" fill="#a4a4a4" transform="rotate(90 201.6 19.8)"/><rect x="171.7" y="29.3" width="8.4" height="5.8" fill="#ababab" transform="rotate(0 175.9 32.2)"/><ellipse cx="175.4" cy="32.1" rx="4.4" ry="2.5" fill="#cecece" transform="rotate(-35 175.4 32.1)"/><ellipse cx="180.7" cy="26.4" rx="3.2" ry="2.2" fill="#b7b7b7" transform="rotate(0 180.7 26.4)"/><rect x="218.5" y="12.5" width="5.9" height="6.9" fill="#c9c9c9" transform="rotate(0 221.4 16)"/><ellipse cx="241" cy="25.4" rx="5" ry="1.9" fill="#a7a7a7" transform="rotate(0 241 25.4)"/><rect x="209.5" y="4.8" width="10.5" height="4.6" fill="#ababab" transform="rotate(35 214.8 7.1)"/><ellipse cx="246.4" cy="9.3" rx="3.9" ry="3.4" fill="#d2d2d2" transform="rotate(0 246.4 9.3)"/><ellipse cx="281.1" cy="14.8" rx="5.2" ry="3" fill="#acacac" transform="rotate(0 281.1 14.8)"/><rect x="295.6" y="28.7" width="9.8" height="2.8" fill="#b0b0b0" transform="rotate(0 300.5 30.1)"/><rect x="21.2" y="60.1" width="10" height="7.7" fill="#c5c5c5" transform="rotate(-35 26.2 64)"/><rect x="16" y="57.1" width="8.1" height="3.4" fill="#d0d0d0" transform="rotate(0 20.1 58.8)"/><ellipse cx="3" cy="65" rx="5.2" ry="2.8" fill="#b1b1b1" transform="rotate(35 3 65)"/><rect x="26.8" y="54.5" width="5.9" height="6.8" fill="#a5a5a5" transform="rotate(-35 29.7 57.9)"/><rect x="40.6" y="60.5" width="6.2" height="5.3" fill="#aeaeae" transform="rotate(90 43.7 63.2)"/><ellipse cx="53.4" cy="61.6" rx="3.9" ry="3" fill="#b3b3b3" transform="rotate(35 53.4 61.6)"/><rect x="39.6" y="29.7" width="12.1" height="7.4" fill="#c8c8c8" transform="rotate(0 45.6 33.4)"/><rect x="42.4" y="47.9" width="11.4" height="7.3" fill="#ababab" transform="rotate(60 48.2 51.6)"/><rect x="62.8" y="35.8" width="3.8" height="4.7" fill="#acacac" transform="rotate(35 64.7 38.1)"/><ellipse cx="95.7" cy="41.2" rx="6.5" ry="1.3" fill="#cccccc" transform="rotate(60 95.7 41.2)"/><ellipse cx="78.4" cy="41.8" rx="2.7" ry="3.4" fill="#bcbcbc" transform="rotate(-35 78.4 41.8)"/><ellipse cx="126" cy="55.4" rx="3.1" ry="2.8" fill="#a5a5a5" transform="rotate(90 126 55.4)"/><ellipse cx="130.9" cy="64.5" rx="2.7" ry="3.9" fill="#d2d2d2" transform="rotate(0 130.9 64.5)"/><rect x="123.1" y="41.3" width="3.5" height="4.3" fill="#c6c6c6" transform="rotate(60 124.9 43.4)"/><rect x="124.5" y="62.7" width="12.2" height="4.6" fill="#b0b0b0" transform="rotate(0 130.6 65)"/><rect x="146" y="57.5" width="5.4" height="4.4" fill="#cdcdcd" transform="rotate(0 148.7 59.7)"/><ellipse cx="150.2" cy="52.4" rx="2.1" ry="3.4" fill="#aaaaaa" transform="rotate(0 150.2 52.4)"/><rect x="159.1" y="39.4" width="12.9" height="5.8" fill="#b7b7b7" transform="rotate(0 165.6 42.3)"/><rect x="154.2" y="41.1" width="7.1" height="2.8" fill="#d5d5d5" transform="rotate(90 157.7 42.5)"/><rect x="141.6" y="48.2" width="3.2" height="7.1" fill="#b3b3b3" transform="rotate(35 143.2 51.8)"/><ellipse cx="186.8" cy="49.3" rx="6.2" ry="2.1" fill="#b9b9b9" transform="rotate(35 186.8 49.3)"/><ellipse cx="189.2" cy="35" rx="3.5" ry="2.3" fill="#d2d2d2" transform="rotate(60 189.2 35)"/><ellipse cx="196.8" cy="36.5" rx="2.4" ry="2.4" fill="#bababa" transform="rotate(35 196.8 36.5)"/><rect x="187.2" y="39.1" width="4.4" height="7.4" fill="#bdbdbd" transform="rotate(0 189.4 42.8)"/><ellipse cx="203.5" cy="65.5" rx="2.7" ry="1.9" fill="#d2d2d2" transform="rotate(90 203.5 65.5)"/><ellipse cx="222.1" cy="46.4" rx="5.6" ry="3" fill="#bebebe" transform="rotate(0 222.1 46.4)"/><rect x="216.1" y="51.9" width="6.5" height="7.5" fill="#a5a5a5" transform="rotate(35 219.3 55.6)"/><ellipse cx="226.4" cy="56.1" rx="5.4" ry="2.3" fill="#b1b1b1" transform="rotate(60 226.4 56.1)"/><rect x="215.4" y="37" width="9.6" height="4.7" fill="#a3a3a3" transform="rotate(90 220.2 39.3)"/><ellipse cx="239.7" cy="45.9" rx="1.7" ry="1.6" fill="#d5d5d5" transform="rotate(0 239.7 45.9)"/><rect x="244" y="35.1" width="3.1" height="5.2" fill="#a6a6a6" transform="rotate(0 245.5 37.7)"/><ellipse cx="261.8" cy="42.8" rx="1.8" ry="2.8" fill="#b6b6b6" transform="rotate(35 261.8 42.8)"/><rect x="301.6" y="32.3" width="8.9" height="7.2" fill="#cdcdcd" transform="rotate(60 306 35.9)"/><rect x="300.1" y="31.4" width="8.9" height="6.7" fill="#d1d1d1" transform="rotate(35 304.6 34.7)"/><rect x="0.9" y="96.3" width="9" height="6.2" fill="#b3b3b3" transform="rotate(0 5.3 99.4)"/><ellipse cx="22.5" cy="89" rx="2.9" ry="2.4" fill="#a6a6a6" transform="rotate(0 22.5 89)"/><ellipse cx="32.9" cy="99" rx="3.6" ry="1.9" fill="#d3d3d3" transform="rotate(-35 32.9 99)"/><rect x="29.1" y="80.9" width="8.6" height="5.8" fill="#afafaf" transform="rotate(0 33.4 83.8)"/><rect x="44" y="83.5" width="6.8" height="7.8" fill="#d6d6d6" transform="rotate(0 47.4 87.5)"/><rect x="62.6" y="92.2" width="5.8" height="5.3" fill="#d1d1d1" transform="rotate(35 65.5 94.9)"/><rect x="60.5" y="93.2" width="10.1" height="6.8" fill="#b6b6b6" transform="rotate(0 65.6 96.6)"/><rect x="58.4" y="87.5" width="5.1" height="4.5" fill="#b6b6b6" transform="rotate(60 61 89.8)"/><rect x="96.7" y="73.9" width="10.7" height="5.1" fill="#a7a7a7" transform="rotate(0 102.1 76.5)"/><ellipse cx="92.1" cy="88.8" rx="5.5" ry="2.8" fill="#b8b8b8" transform="rotate(0 92.1 88.8)"/><ellipse cx="84" cy="75.4" rx="3.9" ry="1.9" fill="#b1b1b1" transform="rotate(0 84 75.4)"/><ellipse cx="100.6" cy="85.9" rx="1.7" ry="1.8" fill="#c4c4c4" transform="rotate(-35 100.6 85.9)"/><ellipse cx="117.9" cy="80.5" rx="6.5" ry="3.3" fill="#a9a9a9" transform="rotate(0 117.9 80.5)"/><rect x="126.7" y="83.6" width="5.6" height="3.4" fill="#a6a6a6" transform="rotate(0 129.5 85.3)"/><ellipse cx="117.3" cy="92.4" rx="3.3" ry="2.4" fill="#c2c2c2" transform="rotate(35 117.3 92.4)"/><ellipse cx="168.9" cy="98.1" rx="4.8" ry="2.7" fill="#c0c0c0" transform="rotate(0 168.9 98.1)"/><ellipse cx="146.5" cy="95.7" rx="2.9" ry="2.5" fill="#c2c2c2" transform="rotate(90 146.5 95.7)"/><ellipse cx="155.6" cy="83" rx="6" ry="2.6" fill="#d3d3d3" transform="rotate(0 155.6 83)"/><ellipse cx="178.3" cy="78.5" rx="6.2" ry="3.3" fill="#adadad" transform="rotate(0 178.3 78.5)"/><ellipse cx="219.6" cy="96.2" rx="5" ry="4" fill="#d1d1d1" transform="rotate(0 219.6 96.2)"/><ellipse cx="220" cy="91.9" rx="3.7" ry="2.3" fill="#c9c9c9" transform="rotate(35 220 91.9)"/><ellipse cx="278.5" cy="91.1" rx="4" ry="3.1" fill="#d3d3d3" transform="rotate(90 278.5 91.1)"/><ellipse cx="303.3" cy="67.5" rx="4.2" ry="2.4" fill="#c2c2c2" transform="rotate(0 303.3 67.5)"/><rect x="291.9" y="84.5" width="9" height="7.6" fill="#b5b5b5" transform="rotate(0 296.5 88.3)"/><ellipse cx="282.7" cy="79.4" rx="1.8" ry="3.4" fill="#a7a7a7" transform="rotate(60 282.7 79.4)"/><ellipse cx="334.8" cy="69.3" rx="6.3" ry="2.2" fill="#b2b2b2" transform="rotate(0 334.8 69.3)"/><ellipse cx="316.9" cy="94.9" rx="3.2" ry="3.6" fill="#aeaeae" transform="rotate(90 316.9 94.9)"/><rect x="338.3" y="70.9" width="4.5" height="3.2" fill="#c7c7c7" transform="rotate(90 340.6 72.5)"/><rect x="320.8" y="93.7" width="10.1" height="3.5" fill="#cacaca" transform="rotate(-35 325.9 95.4)"/><ellipse cx="325.2" cy="73" rx="3" ry="3.4" fill="#c3c3c3" transform="rotate(0 325.2 73)"/><rect x="14.2" y="113.6" width="5.3" height="2.5" fill="#bebebe" transform="rotate(0 16.8 114.9)"/><ellipse cx="44.7" cy="101.7" rx="6" ry="1.5" fill="#c1c1c1" transform="rotate(35 44.7 101.7)"/><rect x="64.4" y="130.3" width="9.7" height="3.5" fill="#cdcdcd" transform="rotate(0 69.3 132.1)"/><ellipse cx="36.6" cy="101.8" rx="2.8" ry="2.6" fill="#cccccc" transform="rotate(60 36.6 101.8)"/><ellipse cx="57.2" cy="117.6" rx="2.3" ry="2.2" fill="#b3b3b3" transform="rotate(90 57.2 117.6)"/><ellipse cx="39.1" cy="112.6" rx="1.6" ry="2.7" fill="#bbbbbb" transform="rotate(60 39.1 112.6)"/><rect x="71.5" y="119" width="7.8" height="3.2" fill="#cdcdcd" transform="rotate(0 75.4 120.6)"/><ellipse cx="104.4" cy="100.1" rx="4.3" ry="3.9" fill="#bcbcbc" transform="rotate(90 104.4 100.1)"/><rect x="94.4" y="119.9" width="3.5" height="3.5" fill="#b9b9b9" transform="rotate(-35 96.1 121.6)"/><rect x="92.5" y="110.1" width="3.5" height="7.8" fill="#a5a5a5" transform="rotate(90 94.2 114)"/><ellipse cx="114" cy="113.8" rx="1.7" ry="2" fill="#d6d6d6" transform="rotate(0 114 113.8)"/><ellipse cx="131" cy="110.8" rx="1.5" ry="2.3" fill="#d5d5d5" transform="rotate(35 131 110.8)"/><rect x="141.2" y="125.9" width="9.6" height="3.3" fill="#d6d6d6" transform="rotate(60 146 127.5)"/><rect x="202" y="113.7" width="8.1" height="6.2" fill="#c7c7c7" transform="rotate(0 206 116.8)"/><rect x="187.6" y="121.7" width="8.8" height="5.1" fill="#a9a9a9" transform="rotate(0 192 124.3)"/><ellipse cx="239.3" cy="105.5" rx="5" ry="2.9" fill="#cecece" transform="rotate(0 239.3 105.5)"/><rect x="207.6" y="122.9" width="7.4" height="5" fill="#a7a7a7" transform="rotate(-35 211.3 125.4)"/><ellipse cx="249.1" cy="129.3" rx="3.1" ry="2.1" fill="#b2b2b2" transform="rotate(0 249.1 129.3)"/><rect x="287.6" y="102.7" width="7.3" height="5.1" fill="#acacac" transform="rotate(0 291.2 105.2)"/><ellipse cx="286.5" cy="128.9" rx="3.4" ry="3" fill="#c3c3c3" transform="rotate(90 286.5 128.9)"/><rect x="318.7" y="104.9" width="10" height="7" fill="#c1c1c1" transform="rotate(35 323.7 108.4)"/><rect x="337.7" y="117" width="12.7" height="7.8" fill="#c4c4c4" transform="rotate(60 344 120.9)"/><ellipse cx="10.1" cy="161.3" rx="4.4" ry="1.8" fill="#bebebe" transform="rotate(60 10.1 161.3)"/><rect x="37.7" y="138.4" width="9.1" height="6.4" fill="#bfbfbf" transform="rotate(60 42.3 141.6)"/><ellipse cx="66.5" cy="142.1" rx="2.5" ry="3.4" fill="#aaaaaa" transform="rotate(-35 66.5 142.1)"/><rect x="62.9" y="137.9" width="6.3" height="3" fill="#aeaeae" transform="rotate(90 66 139.4)"/><ellipse cx="71.2" cy="137.4" rx="3.3" ry="3.5" fill="#bdbdbd" transform="rotate(90 71.2 137.4)"/><ellipse cx="75.4" cy="145" rx="6.2" ry="3.1" fill="#a5a5a5" transform="rotate(-35 75.4 145)"/><ellipse cx="97" cy="142.2" rx="6.1" ry="3.7" fill="#afafaf" transform="rotate(0 97 142.2)"/><rect x="88.4" y="151.1" width="10.8" height="3.2" fill="#a6a6a6" transform="rotate(-35 93.8 152.7)"/><rect x="109.3" y="140.9" width="8" height="4.9" fill="#c8c8c8" transform="rotate(90 113.3 143.3)"/><ellipse cx="128.4" cy="152.3" rx="3.5" ry="1.5" fill="#cfcfcf" transform="rotate(35 128.4 152.3)"/><rect x="145.6" y="161.4" width="4.4" height="5.4" fill="#cecece" transform="rotate(35 147.8 164.1)"/><ellipse cx="141.4" cy="148.9" rx="5.1" ry="2.1" fill="#a9a9a9" transform="rotate(-35 141.4 148.9)"/><ellipse cx="207.9" cy="154.5" rx="6.1" ry="2.8" fill="#a9a9a9" transform="rotate(-35 207.9 154.5)"/><rect x="186.1" y="154" width="6.3" height="3.9" fill="#c1c1c1" transform="rotate(60 189.3 156)"/><ellipse cx="254.5" cy="155" rx="6" ry="2.8" fill="#c8c8c8" transform="rotate(0 254.5 155)"/><ellipse cx="269.6" cy="159.5" rx="3.1" ry="1.7" fill="#d1d1d1" transform="rotate(-35 269.6 159.5)"/><rect x="271.8" y="148" width="9.4" height="6.5" fill="#b8b8b8" transform="rotate(35 276.5 151.2)"/><rect x="300" y="140.4" width="10.7" height="6.5" fill="#c8c8c8" transform="rotate(-35 305.4 143.6)"/><ellipse cx="310.9" cy="161.1" rx="3.2" ry="3.1" fill="#adadad" transform="rotate(60 310.9 161.1)"/><ellipse cx="328.8" cy="161.7" rx="3.2" ry="3" fill="#b1b1b1" transform="rotate(0 328.8 161.7)"/><ellipse cx="317.5" cy="162.5" rx="5.5" ry="2.3" fill="#c5c5c5" transform="rotate(35 317.5 162.5)"/><ellipse cx="328.1" cy="136.3" rx="4.6" ry="2.5" fill="#c4c4c4" transform="rotate(60 328.1 136.3)"/><ellipse cx="27.3" cy="172.5" rx="2.7" ry="2" fill="#d1d1d1" transform="rotate(35 27.3 172.5)"/><ellipse cx="40.4" cy="189.3" rx="5" ry="2.9" fill="#c0c0c0" transform="rotate(0 40.4 189.3)"/><rect x="40.3" y="186.6" width="7.7" height="4.9" fill="#c5c5c5" transform="rotate(0 44.1 189.1)"/><rect x="52.4" y="192.3" width="12.2" height="5.2" fill="#afafaf" transform="rotate(35 58.5 194.9)"/><ellipse cx="84.8" cy="195.2" rx="3.9" ry="2" fill="#b1b1b1" transform="rotate(-35 84.8 195.2)"/><ellipse cx="100.4" cy="177.9" rx="4.6" ry="2.8" fill="#aeaeae" transform="rotate(0 100.4 177.9)"/><ellipse cx="98" cy="195" rx="2" ry="2.7" fill="#a5a5a5" transform="rotate(90 98 195)"/><rect x="118.9" y="196.5" width="3.1" height="2.8" fill="#cacaca" transform="rotate(60 120.5 197.9)"/><ellipse cx="122" cy="198.4" rx="5.2" ry="3.7" fill="#cbcbcb" transform="rotate(0 122 198.4)"/><ellipse cx="172.7" cy="166.8" rx="6.3" ry="3.9" fill="#c1c1c1" transform="rotate(90 172.7 166.8)"/><ellipse cx="157.5" cy="187.8" rx="2.3" ry="2.8" fill="#a8a8a8" transform="rotate(90 157.5 187.8)"/><ellipse cx="219.1" cy="183.9" rx="2.9" ry="2.9" fill="#a5a5a5" transform="rotate(0 219.1 183.9)"/><rect x="311" y="195.1" width="3.3" height="5.1" fill="#c8c8c8" transform="rotate(60 312.7 197.7)"/><rect x="325.3" y="176.9" width="12.9" height="7.7" fill="#cecece" transform="rotate(0 331.8 180.7)"/><rect x="11.2" y="204.4" width="3.9" height="3" fill="#a5a5a5" transform="rotate(0 13.2 205.9)"/><rect x="17.8" y="216" width="3.3" height="4.1" fill="#bfbfbf" transform="rotate(90 19.4 218)"/><rect x="26.9" y="204.5" width="5.4" height="3.1" fill="#cccccc" transform="rotate(90 29.6 206)"/><rect x="40.2" y="218" width="8.9" height="3.3" fill="#c6c6c6" transform="rotate(60 44.7 219.6)"/><rect x="74.4" y="210.7" width="12" height="4.1" fill="#c2c2c2" transform="rotate(0 80.4 212.8)"/><rect x="82.2" y="205.5" width="10.3" height="5.1" fill="#bdbdbd" transform="rotate(-35 87.3 208.1)"/><rect x="121.1" y="210.7" width="6.7" height="4.3" fill="#cacaca" transform="rotate(-35 124.5 212.9)"/><ellipse cx="173.6" cy="207" rx="5.7" ry="2.5" fill="#bfbfbf" transform="rotate(0 173.6 207)"/><ellipse cx="223.4" cy="210.7" rx="4.8" ry="3.7" fill="#a8a8a8" transform="rotate(60 223.4 210.7)"/><ellipse cx="266.1" cy="201.2" rx="2.5" ry="1.5" fill="#d4d4d4" transform="rotate(35 266.1 201.2)"/><ellipse cx="308.8" cy="211.6" rx="5.3" ry="2.8" fill="#bebebe" transform="rotate(35 308.8 211.6)"/><ellipse cx="342.4" cy="228.6" rx="4.5" ry="1.9" fill="#c2c2c2" transform="rotate(90 342.4 228.6)"/><rect x="336.6" y="224.8" width="4" height="4.4" fill="#c2c2c2" transform="rotate(0 338.6 227)"/><rect x="18.8" y="259.2" width="3.8" height="6.7" fill="#a9a9a9" transform="rotate(35 20.7 262.5)"/><ellipse cx="45.8" cy="245.9" rx="2.3" ry="3.4" fill="#a4a4a4" transform="rotate(35 45.8 245.9)"/><ellipse cx="81.2" cy="246.3" rx="5.9" ry="2.2" fill="#b0b0b0" transform="rotate(60 81.2 246.3)"/><rect x="69.8" y="242.1" width="7.3" height="4.7" fill="#c3c3c3" transform="rotate(0 73.4 244.5)"/><ellipse cx="123.4" cy="234.1" rx="4.5" ry="2.5" fill="#cfcfcf" transform="rotate(0 123.4 234.1)"/><ellipse cx="158.4" cy="253.7" rx="2.6" ry="3.5" fill="#cdcdcd" transform="rotate(60 158.4 253.7)"/><rect x="159.5" y="247.1" width="8.7" height="2.6" fill="#cccccc" transform="rotate(0 163.8 248.4)"/><ellipse cx="203.7" cy="253.8" rx="3.4" ry="2.8" fill="#b1b1b1" transform="rotate(90 203.7 253.8)"/><ellipse cx="242" cy="260.3" rx="4.9" ry="3.9" fill="#b7b7b7" transform="rotate(0 242 260.3)"/><rect x="270.3" y="239.6" width="7.5" height="5.5" fill="#a3a3a3" transform="rotate(60 274 242.3)"/><rect x="319.4" y="261.5" width="7.6" height="4.4" fill="#b1b1b1" transform="rotate(-35 323.2 263.7)"/><ellipse cx="29.8" cy="294" rx="6.1" ry="2.3" fill="#bcbcbc" transform="rotate(0 29.8 294)"/><ellipse cx="49.8" cy="272.1" rx="5.3" ry="1.7" fill="#d4d4d4" transform="rotate(0 49.8 272.1)"/><rect x="66.5" y="266.6" width="4.3" height="4.7" fill="#d4d4d4" transform="rotate(90 68.6 268.9)"/><rect x="48.7" y="283.2" width="6.3" height="3.3" fill="#b5b5b5" transform="rotate(90 51.8 284.9)"/><ellipse cx="77.9" cy="266.1" rx="2.4" ry="3.2" fill="#d5d5d5" transform="rotate(0 77.9 266.1)"/><ellipse cx="135.5" cy="271.1" rx="4.3" ry="1.8" fill="#b3b3b3" transform="rotate(0 135.5 271.1)"/><ellipse cx="145.7" cy="295.2" rx="5" ry="2.2" fill="#acacac" transform="rotate(-35 145.7 295.2)"/><ellipse cx="169.5" cy="291.5" rx="2.1" ry="2.7" fill="#b6b6b6" transform="rotate(90 169.5 291.5)"/><rect x="253.2" y="288.6" width="12.2" height="4.1" fill="#bdbdbd" transform="rotate(0 259.3 290.7)"/><rect x="306" y="266.1" width="8.4" height="4.6" fill="#bfbfbf" transform="rotate(60 310.2 268.4)"/><ellipse cx="28.4" cy="323.5" rx="4.7" ry="2.7" fill="#d4d4d4" transform="rotate(35 28.4 323.5)"/><ellipse cx="59.8" cy="299.4" rx="5.1" ry="2.9" fill="#c9c9c9" transform="rotate(0 59.8 299.4)"/><ellipse cx="51" cy="315" rx="5.5" ry="1.5" fill="#c6c6c6" transform="rotate(60 51 315)"/><ellipse cx="90.7" cy="307.8" rx="2.5" ry="3.6" fill="#bebebe" transform="rotate(90 90.7 307.8)"/><rect x="99.9" y="307.8" width="9.8" height="3.9" fill="#b4b4b4" transform="rotate(90 104.8 309.7)"/><ellipse cx="90.6" cy="298.9" rx="6" ry="3.4" fill="#c3c3c3" transform="rotate(0 90.6 298.9)"/><ellipse cx="98.2" cy="301" rx="4.8" ry="3.4" fill="#bcbcbc" transform="rotate(0 98.2 301)"/><ellipse cx="93.8" cy="311.6" rx="5.2" ry="3.4" fill="#bdbdbd" transform="rotate(35 93.8 311.6)"/><ellipse cx="138" cy="312.2" rx="1.8" ry="2.5" fill="#b9b9b9" transform="rotate(35 138 312.2)"/><ellipse cx="106" cy="313.8" rx="1.6" ry="2.7" fill="#c1c1c1" transform="rotate(60 106 313.8)"/><ellipse cx="135.2" cy="313.9" rx="2.7" ry="2.3" fill="#d0d0d0" transform="rotate(35 135.2 313.9)"/><rect x="152.8" y="298" width="4.1" height="3.5" fill="#afafaf" transform="rotate(0 154.8 299.7)"/><rect x="281.1" y="298.9" width="6.7" height="3.4" fill="#cfcfcf" transform="rotate(-35 284.5 300.6)"/><rect x="203" y="212.5" width="32" height="26.5" rx="4" fill="#bfbfbf"/><ellipse cx="274.5" cy="156" rx="9.5" ry="9" fill="#adadad"/><ellipse cx="101" cy="100.5" rx="12" ry="5" fill="#b2b2b2"/><ellipse cx="76" cy="96" rx="6" ry="5" fill="#b2b2b2"/><ellipse cx="196.5" cy="133.5" rx="4.5" ry="4" fill="#b2b2b2"/><circle cx="250" cy="86.5" r="4.2" fill="#c7c7c7"/><ellipse cx="98" cy="157" rx="7" ry="9" fill="#adadad"/><ellipse cx="70" cy="161" rx="14" ry="3.5" fill="#adadad"/><ellipse cx="255" cy="239" rx="10" ry="6" fill="#adadad"/><ellipse cx="174" cy="244" rx="9" ry="5" fill="#a3a3a3"/><ellipse cx="33" cy="19" rx="9" ry="8" fill="#b8b8b8"/><ellipse cx="334" cy="84" rx="10" ry="26" fill="#b8b8b8"/><ellipse cx="296" cy="98" rx="7" ry="11" fill="#adadad"/></g>
<use href="#mwhite"/>
</g>
<g fill="none" stroke="#f00" stroke-width="1.9"><circle cx="78.4" cy="149" r="22.6"/><circle cx="273.3" cy="154" r="16.3"/><circle cx="218.3" cy="223" r="20.7"/><circle cx="259" cy="233.5" r="19"/></g>
<text x="37.8" y="53.3" font-size="29.5" font-weight="bold" textLength="25.5" lengthAdjust="spacingAndGlyphs">f6</text>
<text x="40.6" y="304.6" font-size="30.5" font-weight="bold" textLength="157" lengthAdjust="spacingAndGlyphs">2009/06/02</text>
</g>
<g transform="translate(1047 1122.4)">
<g clip-path="url(#mclip)">
<g filter="url(#mff7)">
<rect x="-40" y="-40" width="110.5" height="73.7" fill="#999999"/>
<rect x="70" y="-40" width="140.5" height="73.7" fill="#858585"/>
<rect x="210" y="-40" width="35.5" height="73.7" fill="#787878"/>
<rect x="245" y="-40" width="35.5" height="73.7" fill="#858585"/>
<rect x="280" y="-40" width="110.5" height="73.7" fill="#999999"/>
<rect x="-40" y="33.2" width="75.5" height="33.7" fill="#999999"/>
<rect x="35" y="33.2" width="175.5" height="33.7" fill="#858585"/>
<rect x="210" y="33.2" width="35.5" height="33.7" fill="#787878"/>
<rect x="245" y="33.2" width="70.5" height="33.7" fill="#858585"/>
<rect x="315" y="33.2" width="75.5" height="33.7" fill="#999999"/>
<rect x="-40" y="66.4" width="145.5" height="33.7" fill="#858585"/>
<rect x="105" y="66.4" width="175.5" height="33.7" fill="#787878"/>
<rect x="280" y="66.4" width="35.5" height="33.7" fill="#858585"/>
<rect x="315" y="66.4" width="75.5" height="33.7" fill="#999999"/>
<rect x="-40" y="99.6" width="75.5" height="33.7" fill="#787878"/>
<rect x="35" y="99.6" width="70.5" height="33.7" fill="#858585"/>
<rect x="105" y="99.6" width="35.5" height="33.7" fill="#787878"/>
<rect x="140" y="99.6" width="105.5" height="33.7" fill="#6b6b6b"/>
<rect x="245" y="99.6" width="35.5" height="33.7" fill="#787878"/>
<rect x="280" y="99.6" width="110.5" height="33.7" fill="#858585"/>
<rect x="-40" y="132.8" width="75.5" height="33.7" fill="#6b6b6b"/>
<rect x="35" y="132.8" width="35.5" height="33.7" fill="#787878"/>
<rect x="70" y="132.8" width="35.5" height="33.7" fill="#858585"/>
<rect x="105" y="132.8" width="35.5" height="33.7" fill="#787878"/>
<rect x="140" y="132.8" width="105.5" height="33.7" fill="#6b6b6b"/>
<rect x="245" y="132.8" width="35.5" height="33.7" fill="#858585"/>
<rect x="280" y="132.8" width="110.5" height="33.7" fill="#787878"/>
<rect x="-40" y="166" width="180.5" height="33.7" fill="#787878"/>
<rect x="140" y="166" width="250.5" height="33.7" fill="#6b6b6b"/>
<rect x="-40" y="199.2" width="75.5" height="33.7" fill="#858585"/>
<rect x="35" y="199.2" width="140.5" height="33.7" fill="#787878"/>
<rect x="175" y="199.2" width="35.5" height="33.7" fill="#6b6b6b"/>
<rect x="210" y="199.2" width="35.5" height="33.7" fill="#858585"/>
<rect x="245" y="199.2" width="145.5" height="33.7" fill="#787878"/>
<rect x="-40" y="232.4" width="75.5" height="33.7" fill="#787878"/>
<rect x="35" y="232.4" width="35.5" height="33.7" fill="#6b6b6b"/>
<rect x="70" y="232.4" width="140.5" height="33.7" fill="#787878"/>
<rect x="210" y="232.4" width="70.5" height="33.7" fill="#858585"/>
<rect x="280" y="232.4" width="110.5" height="33.7" fill="#6b6b6b"/>
<rect x="-40" y="265.6" width="75.5" height="33.7" fill="#6b6b6b"/>
<rect x="35" y="265.6" width="70.5" height="33.7" fill="#858585"/>
<rect x="105" y="265.6" width="35.5" height="33.7" fill="#787878"/>
<rect x="140" y="265.6" width="70.5" height="33.7" fill="#6b6b6b"/>
<rect x="210" y="265.6" width="105.5" height="33.7" fill="#787878"/>
<rect x="315" y="265.6" width="75.5" height="33.7" fill="#6b6b6b"/>
<rect x="-40" y="298.8" width="75.5" height="73.7" fill="#6b6b6b"/>
<rect x="35" y="298.8" width="35.5" height="73.7" fill="#787878"/>
<rect x="70" y="298.8" width="70.5" height="73.7" fill="#858585"/>
<rect x="140" y="298.8" width="35.5" height="73.7" fill="#787878"/>
<rect x="175" y="298.8" width="35.5" height="73.7" fill="#6b6b6b"/>
<rect x="210" y="298.8" width="70.5" height="73.7" fill="#787878"/>
<rect x="280" y="298.8" width="35.5" height="73.7" fill="#858585"/>
<rect x="315" y="298.8" width="75.5" height="73.7" fill="#787878"/>
<path d="M0.5 46L1.5 42.1L5.3 38.3L10 35.5L15.7 31.7L21.3 26L26 20.4L30.8 14.2L34.5 11.4L40.2 9.5L49.6 8.6L87.4 7.2L134.6 5.7L173 3.9L220.2 2L257.9 0.1L261.7 0.4L267.4 2L276.8 7.2L295.7 22.3L314.6 38.3L333.5 54.3L341 61.9L344.3 68.5L346.2 77.9L346.5 137L346.5 197L345.9 225.3L344.8 244.2L342.9 263.1L341 281.9L339.1 293.3L335.3 301.8L328.7 310.3L319.3 318.8L309.9 323.5L300.4 325.8L286.3 327.7L248.5 328.7L173 330.1L35.5 331.5L27.9 330.6L24.1 327.2L21.3 319.7L19 310.3L16.1 303.7L15.2 291.4L14.7 263.1L13.3 253.6L9 246.1L4.3 234.8L1 215.9L0.1 197Z" fill="none" stroke="#a8a8a8" stroke-width="12" opacity="0.60"/>
</g>
<g filter="url(#mcf7)"><ellipse cx="26.3" cy="29.7" rx="2.5" ry="2.5" fill="#ababab" transform="rotate(0 26.3 29.7)"/><rect x="26" y="29" width="3.6" height="7.6" fill="#bebebe" transform="rotate(0 27.8 32.9)"/><ellipse cx="53.9" cy="16.1" rx="3.4" ry="3.1" fill="#cacaca" transform="rotate(0 53.9 16.1)"/><rect x="35.7" y="9.8" width="10.2" height="5" fill="#c3c3c3" transform="rotate(0 40.8 12.4)"/><ellipse cx="62.4" cy="10.7" rx="4.6" ry="3.2" fill="#c7c7c7" transform="rotate(90 62.4 10.7)"/><ellipse cx="67.5" cy="10" rx="2.8" ry="2.7" fill="#b8b8b8" transform="rotate(90 67.5 10)"/><ellipse cx="100.7" cy="8.9" rx="3.6" ry="3.8" fill="#c7c7c7" transform="rotate(0 100.7 8.9)"/><ellipse cx="87.8" cy="20.5" rx="2.7" ry="2.1" fill="#bcbcbc" transform="rotate(-35 87.8 20.5)"/><ellipse cx="83.2" cy="15.3" rx="3.8" ry="2.1" fill="#c0c0c0" transform="rotate(60 83.2 15.3)"/><ellipse cx="91.1" cy="10.2" rx="4" ry="1.3" fill="#d1d1d1" transform="rotate(0 91.1 10.2)"/><ellipse cx="129.8" cy="9.4" rx="4.3" ry="3" fill="#c8c8c8" transform="rotate(-35 129.8 9.4)"/><ellipse cx="116.1" cy="29.5" rx="5.9" ry="3.6" fill="#c1c1c1" transform="rotate(-35 116.1 29.5)"/><ellipse cx="139.2" cy="8.7" rx="5.6" ry="2" fill="#cdcdcd" transform="rotate(0 139.2 8.7)"/><ellipse cx="131.8" cy="32.2" rx="6.2" ry="3.3" fill="#ababab" transform="rotate(60 131.8 32.2)"/><rect x="156" y="18.2" width="7.6" height="3" fill="#d5d5d5" transform="rotate(35 159.8 19.7)"/><ellipse cx="161.3" cy="32.4" rx="4.8" ry="1.9" fill="#b8b8b8" transform="rotate(90 161.3 32.4)"/><ellipse cx="166.8" cy="26.5" rx="1.8" ry="2.4" fill="#b3b3b3" transform="rotate(0 166.8 26.5)"/><rect x="191.5" y="9.7" width="9.9" height="6.1" fill="#aeaeae" transform="rotate(60 196.5 12.8)"/><rect x="197.4" y="10.3" width="7.7" height="4.2" fill="#b4b4b4" transform="rotate(-35 201.2 12.4)"/><rect x="191.8" y="20.6" width="9.6" height="7.8" fill="#ababab" transform="rotate(35 196.6 24.4)"/><ellipse cx="182.2" cy="18.8" rx="2.1" ry="3.1" fill="#bababa" transform="rotate(35 182.2 18.8)"/><ellipse cx="238.6" cy="30" rx="6.4" ry="1.8" fill="#c0c0c0" transform="rotate(60 238.6 30)"/><ellipse cx="212" cy="16" rx="6.1" ry="2" fill="#bababa" transform="rotate(90 212 16)"/><ellipse cx="274.9" cy="17.2" rx="3.2" ry="1.4" fill="#bcbcbc" transform="rotate(60 274.9 17.2)"/><ellipse cx="263" cy="10.1" rx="5.6" ry="1.4" fill="#aaaaaa" transform="rotate(-35 263 10.1)"/><rect x="289.2" y="22.2" width="8.1" height="4.2" fill="#cbcbcb" transform="rotate(-35 293.3 24.3)"/><rect x="279.4" y="21.9" width="9.1" height="3.1" fill="#c9c9c9" transform="rotate(0 284 23.5)"/><ellipse cx="283.1" cy="25.9" rx="3.4" ry="3" fill="#b5b5b5" transform="rotate(35 283.1 25.9)"/><ellipse cx="299.1" cy="33.1" rx="5.7" ry="2.6" fill="#cecece" transform="rotate(60 299.1 33.1)"/><rect x="26.4" y="57.7" width="10.6" height="6.8" fill="#a4a4a4" transform="rotate(-35 31.7 61.1)"/><ellipse cx="32.8" cy="49" rx="5.1" ry="2.1" fill="#c0c0c0" transform="rotate(60 32.8 49)"/><ellipse cx="22.3" cy="40.9" rx="3" ry="1.4" fill="#b8b8b8" transform="rotate(90 22.3 40.9)"/><rect x="-0.6" y="50.2" width="9.3" height="5.5" fill="#cacaca" transform="rotate(0 4 53)"/><rect x="-5" y="50.5" width="12.4" height="3.6" fill="#c6c6c6" transform="rotate(60 1.1 52.3)"/><ellipse cx="8" cy="38.6" rx="2.8" ry="3.3" fill="#d3d3d3" transform="rotate(35 8 38.6)"/><rect x="13" y="38.5" width="7.6" height="2.7" fill="#bdbdbd" transform="rotate(0 16.8 39.8)"/><ellipse cx="29.3" cy="60" rx="5.4" ry="3.2" fill="#d2d2d2" transform="rotate(-35 29.3 60)"/><ellipse cx="59.9" cy="64.5" rx="2.5" ry="2.6" fill="#cfcfcf" transform="rotate(0 59.9 64.5)"/><rect x="52.7" y="58.2" width="6.8" height="5.5" fill="#c7c7c7" transform="rotate(35 56.1 60.9)"/><rect x="52.3" y="32.1" width="12.4" height="4.3" fill="#cbcbcb" transform="rotate(35 58.5 34.3)"/><rect x="36.1" y="60.2" width="8.4" height="5.4" fill="#c2c2c2" transform="rotate(0 40.2 62.9)"/><rect x="46.4" y="37.3" width="6.5" height="6.6" fill="#a5a5a5" transform="rotate(-35 49.7 40.6)"/><ellipse cx="87.5" cy="58.2" rx="5.9" ry="1.9" fill="#b0b0b0" transform="rotate(60 87.5 58.2)"/><rect x="98.4" y="38.7" width="7.9" height="7.5" fill="#c4c4c4" transform="rotate(0 102.3 42.5)"/><ellipse cx="103.2" cy="59.3" rx="1.8" ry="3.3" fill="#c0c0c0" transform="rotate(90 103.2 59.3)"/><rect x="75.4" y="61" width="11.8" height="4.7" fill="#aeaeae" transform="rotate(90 81.3 63.4)"/><rect x="124.2" y="47" width="11.2" height="3.2" fill="#a4a4a4" transform="rotate(0 129.8 48.6)"/><rect x="129.8" y="37.1" width="5.5" height="6.3" fill="#cdcdcd" transform="rotate(35 132.5 40.3)"/><ellipse cx="108.3" cy="58.2" rx="2.6" ry="2.4" fill="#a6a6a6" transform="rotate(90 108.3 58.2)"/><rect x="134" y="60.7" width="8" height="4.6" fill="#bdbdbd" transform="rotate(35 138 63)"/><ellipse cx="108.5" cy="39.2" rx="2.2" ry="1.6" fill="#d6d6d6" transform="rotate(-35 108.5 39.2)"/><ellipse cx="157.7" cy="43.8" rx="3.7" ry="3.7" fill="#c9c9c9" transform="rotate(35 157.7 43.8)"/><rect x="164.3" y="57.4" width="12.4" height="4.4" fill="#b4b4b4" transform="rotate(35 170.5 59.6)"/><ellipse cx="171" cy="33.3" rx="4.8" ry="1.9" fill="#adadad" transform="rotate(60 171 33.3)"/><rect x="142.8" y="35.3" width="7.9" height="3.4" fill="#b0b0b0" transform="rotate(0 146.8 37)"/><ellipse cx="185.7" cy="51.9" rx="3.5" ry="1.4" fill="#ababab" transform="rotate(90 185.7 51.9)"/><ellipse cx="200.2" cy="61.6" rx="4.3" ry="3.1" fill="#d3d3d3" transform="rotate(0 200.2 61.6)"/><ellipse cx="199.5" cy="34.4" rx="6.5" ry="3.2" fill="#a5a5a5" transform="rotate(35 199.5 34.4)"/><rect x="179.1" y="34.6" width="9.5" height="3.6" fill="#b0b0b0" transform="rotate(0 183.8 36.4)"/><rect x="182.1" y="43.6" width="4" height="7.8" fill="#b9b9b9" transform="rotate(-35 184.1 47.5)"/><ellipse cx="244.1" cy="45.2" rx="4.7" ry="3" fill="#b9b9b9" transform="rotate(-35 244.1 45.2)"/><rect x="209.2" y="56.9" width="4.9" height="6.2" fill="#c4c4c4" transform="rotate(0 211.7 60)"/><ellipse cx="218.7" cy="45.8" rx="3.2" ry="3.8" fill="#cccccc" transform="rotate(35 218.7 45.8)"/><rect x="259.9" y="41.3" width="12.6" height="3.6" fill="#bdbdbd" transform="rotate(0 266.2 43.1)"/><rect x="262.9" y="39.9" width="12.2" height="7.5" fill="#bfbfbf" transform="rotate(0 269 43.7)"/><rect x="267" y="33.9" width="7.8" height="6.6" fill="#bcbcbc" transform="rotate(0 270.9 37.2)"/><rect x="252" y="32.9" width="3.3" height="6.4" fill="#c3c3c3" transform="rotate(0 253.7 36.1)"/><ellipse cx="290.6" cy="43.6" rx="2.5" ry="1.7" fill="#b9b9b9" transform="rotate(0 290.6 43.6)"/><rect x="277.1" y="51.3" width="12.7" height="5.1" fill="#c1c1c1" transform="rotate(90 283.5 53.8)"/><rect x="301.9" y="50.5" width="7.8" height="6.1" fill="#a4a4a4" transform="rotate(90 305.8 53.5)"/><rect x="307.4" y="38.1" width="5.2" height="3.4" fill="#b4b4b4" transform="rotate(-35 310 39.8)"/><rect x="293.7" y="37.4" width="3.4" height="3.6" fill="#b5b5b5" transform="rotate(60 295.5 39.2)"/><rect x="331" y="59.2" width="6.2" height="3.8" fill="#bfbfbf" transform="rotate(0 334.1 61.1)"/><rect x="319.2" y="64.4" width="6.3" height="3.4" fill="#bcbcbc" transform="rotate(0 322.4 66.2)"/><ellipse cx="330.2" cy="56.3" rx="5.3" ry="3.2" fill="#bababa" transform="rotate(0 330.2 56.3)"/><ellipse cx="337.8" cy="63.5" rx="5.9" ry="3.8" fill="#d2d2d2" transform="rotate(0 337.8 63.5)"/><ellipse cx="320.7" cy="46.5" rx="3.8" ry="3.1" fill="#bdbdbd" transform="rotate(60 320.7 46.5)"/><rect x="12.4" y="73.3" width="12.8" height="4" fill="#b9b9b9" transform="rotate(35 18.8 75.3)"/><ellipse cx="3.8" cy="99" rx="1.6" ry="3.5" fill="#afafaf" transform="rotate(90 3.8 99)"/><rect x="14.9" y="80.2" width="6.7" height="2.5" fill="#ababab" transform="rotate(0 18.2 81.5)"/><rect x="-3" y="92.1" width="10.8" height="3.1" fill="#bbbbbb" transform="rotate(0 2.4 93.7)"/><ellipse cx="22" cy="95.1" rx="5.2" ry="2.9" fill="#acacac" transform="rotate(0 22 95.1)"/><rect x="33.3" y="86.1" width="8.5" height="3.1" fill="#cbcbcb" transform="rotate(35 37.6 87.7)"/><ellipse cx="63.1" cy="87.7" rx="5" ry="3.7" fill="#adadad" transform="rotate(-35 63.1 87.7)"/><ellipse cx="44.3" cy="82.5" rx="6.5" ry="2.4" fill="#c0c0c0" transform="rotate(90 44.3 82.5)"/><rect x="59" y="93.3" width="3.8" height="5.9" fill="#adadad" transform="rotate(60 60.9 96.3)"/><ellipse cx="83" cy="87.1" rx="4.8" ry="2.8" fill="#b8b8b8" transform="rotate(0 83 87.1)"/><rect x="103" y="70.9" width="3" height="5.9" fill="#bebebe" transform="rotate(60 104.5 73.9)"/><rect x="92.1" y="84.5" width="4.9" height="6.1" fill="#b7b7b7" transform="rotate(0 94.6 87.6)"/><ellipse cx="104.6" cy="92.6" rx="5.7" ry="3.4" fill="#bfbfbf" transform="rotate(60 104.6 92.6)"/><ellipse cx="138.1" cy="96.5" rx="2.6" ry="2.4" fill="#b9b9b9" transform="rotate(0 138.1 96.5)"/><ellipse cx="119.8" cy="75.9" rx="2" ry="2.4" fill="#a4a4a4" transform="rotate(60 119.8 75.9)"/><rect x="127.6" y="67.6" width="4.3" height="4.8" fill="#bababa" transform="rotate(0 129.7 70)"/><ellipse cx="152.3" cy="95.9" rx="2.6" ry="3" fill="#cfcfcf" transform="rotate(0 152.3 95.9)"/><ellipse cx="152.3" cy="84.4" rx="4.5" ry="3" fill="#c7c7c7" transform="rotate(0 152.3 84.4)"/><rect x="139.1" y="89.3" width="8.3" height="8" fill="#bababa" transform="rotate(60 143.3 93.3)"/><ellipse cx="181.2" cy="78.8" rx="6.2" ry="1.6" fill="#bfbfbf" transform="rotate(90 181.2 78.8)"/><ellipse cx="198.1" cy="75.9" rx="1.7" ry="3.4" fill="#c7c7c7" transform="rotate(90 198.1 75.9)"/><rect x="183.8" y="94.8" width="7.6" height="3.7" fill="#aaaaaa" transform="rotate(0 187.6 96.6)"/><rect x="223.6" y="67.2" width="3.1" height="6.7" fill="#b5b5b5" transform="rotate(0 225.1 70.6)"/><rect x="235.8" y="90.7" width="3.4" height="5.6" fill="#b7b7b7" transform="rotate(0 237.5 93.5)"/><ellipse cx="225.7" cy="67" rx="5.2" ry="3.1" fill="#cdcdcd" transform="rotate(-35 225.7 67)"/><ellipse cx="276.7" cy="92.1" rx="5.2" ry="3.8" fill="#d2d2d2" transform="rotate(0 276.7 92.1)"/><ellipse cx="266" cy="69.2" rx="2.4" ry="2.3" fill="#a7a7a7" transform="rotate(60 266 69.2)"/><ellipse cx="249.4" cy="69.5" rx="1.8" ry="3" fill="#a7a7a7" transform="rotate(35 249.4 69.5)"/><rect x="310.7" y="75.9" width="6.8" height="7" fill="#a9a9a9" transform="rotate(90 314.1 79.4)"/><ellipse cx="309.8" cy="82.1" rx="6.4" ry="1.7" fill="#d3d3d3" transform="rotate(60 309.8 82.1)"/><ellipse cx="307.8" cy="66.9" rx="5.1" ry="2.7" fill="#bfbfbf" transform="rotate(0 307.8 66.9)"/><rect x="286.8" y="70.3" width="13" height="7.3" fill="#b7b7b7" transform="rotate(60 293.3 74)"/><ellipse cx="318.9" cy="70.9" rx="2.3" ry="2.8" fill="#b0b0b0" transform="rotate(0 318.9 70.9)"/><rect x="337" y="76" width="11" height="5.3" fill="#cdcdcd" transform="rotate(0 342.5 78.6)"/><ellipse cx="330.2" cy="86.4" rx="4.1" ry="3.3" fill="#a8a8a8" transform="rotate(0 330.2 86.4)"/><ellipse cx="339.1" cy="89.7" rx="3.2" ry="3.6" fill="#c0c0c0" transform="rotate(0 339.1 89.7)"/><rect x="330.5" y="67.7" width="6.8" height="5.2" fill="#a9a9a9" transform="rotate(90 333.9 70.4)"/><rect x="328.5" y="76.4" width="4.9" height="4.5" fill="#adadad" transform="rotate(90 331 78.6)"/><rect x="317.8" y="64.6" width="3" height="5.2" fill="#adadad" transform="rotate(0 319.3 67.2)"/><rect x="327.9" y="94" width="3.7" height="7.9" fill="#c5c5c5" transform="rotate(35 329.8 97.9)"/><ellipse cx="31.1" cy="107.2" rx="3.6" ry="1.4" fill="#b5b5b5" transform="rotate(35 31.1 107.2)"/><rect x="27.6" y="126.8" width="5.6" height="7.2" fill="#cecece" transform="rotate(35 30.4 130.3)"/><ellipse cx="66.7" cy="122.1" rx="6.4" ry="3.4" fill="#d0d0d0" transform="rotate(35 66.7 122.1)"/><rect x="55.3" y="122.8" width="7.2" height="4.7" fill="#d5d5d5" transform="rotate(90 59 125.1)"/><ellipse cx="37.8" cy="116.2" rx="1.8" ry="1.8" fill="#b4b4b4" transform="rotate(90 37.8 116.2)"/><rect x="39.1" y="116.6" width="11.3" height="7.3" fill="#b5b5b5" transform="rotate(35 44.7 120.3)"/><ellipse cx="86.3" cy="101.6" rx="6.3" ry="2.9" fill="#bababa" transform="rotate(-35 86.3 101.6)"/><ellipse cx="81.8" cy="104.7" rx="5.6" ry="2.4" fill="#d1d1d1" transform="rotate(0 81.8 104.7)"/><rect x="86.8" y="99.6" width="11.7" height="6.4" fill="#acacac" transform="rotate(-35 92.6 102.8)"/><rect x="96.6" y="123.1" width="5.8" height="7.2" fill="#b0b0b0" transform="rotate(-35 99.5 126.7)"/><ellipse cx="131.8" cy="120.9" rx="3.2" ry="3.3" fill="#cccccc" transform="rotate(-35 131.8 120.9)"/><ellipse cx="126.3" cy="109.4" rx="4.3" ry="2.4" fill="#cdcdcd" transform="rotate(0 126.3 109.4)"/><ellipse cx="153.5" cy="117.7" rx="2.4" ry="2.4" fill="#a6a6a6" transform="rotate(0 153.5 117.7)"/><ellipse cx="200.5" cy="100.3" rx="3.9" ry="3.1" fill="#a6a6a6" transform="rotate(35 200.5 100.3)"/><rect x="200.4" y="117.3" width="10.1" height="3.9" fill="#c0c0c0" transform="rotate(90 205.4 119.3)"/><rect x="216.7" y="101.8" width="8.8" height="7.9" fill="#b1b1b1" transform="rotate(0 221 105.7)"/><ellipse cx="249.7" cy="113.1" rx="5.1" ry="3.4" fill="#d6d6d6" transform="rotate(0 249.7 113.1)"/><rect x="258.9" y="127.7" width="8.7" height="3.4" fill="#cacaca" transform="rotate(0 263.2 129.4)"/><rect x="264.1" y="111.1" width="4.7" height="5.5" fill="#c8c8c8" transform="rotate(0 266.5 113.8)"/><rect x="292.3" y="130.3" width="11.8" height="4.3" fill="#a6a6a6" transform="rotate(90 298.2 132.4)"/><rect x="305.5" y="127.8" width="12.4" height="3" fill="#c7c7c7" transform="rotate(0 311.7 129.3)"/><rect x="287" y="124.1" width="11.5" height="4.3" fill="#b0b0b0" transform="rotate(0 292.8 126.2)"/><ellipse cx="292.3" cy="106.2" rx="2.1" ry="3.5" fill="#a5a5a5" transform="rotate(35 292.3 106.2)"/><rect x="319.5" y="103" width="3.2" height="2.5" fill="#cccccc" transform="rotate(35 321.1 104.2)"/><rect x="340.4" y="97.1" width="5.3" height="7" fill="#adadad" transform="rotate(0 343.1 100.6)"/><ellipse cx="332.7" cy="104.8" rx="6.2" ry="2.8" fill="#bbbbbb" transform="rotate(90 332.7 104.8)"/><rect x="339.5" y="123.9" width="3.5" height="2.9" fill="#c2c2c2" transform="rotate(0 341.2 125.4)"/><rect x="10.4" y="150" width="3.9" height="4.1" fill="#c3c3c3" transform="rotate(0 12.4 152)"/><ellipse cx="15.9" cy="156.6" rx="6.5" ry="1.3" fill="#b4b4b4" transform="rotate(60 15.9 156.6)"/><rect x="41.2" y="150.3" width="3.2" height="7.6" fill="#c0c0c0" transform="rotate(0 42.8 154.2)"/><ellipse cx="62.3" cy="155.7" rx="6.1" ry="2.4" fill="#a4a4a4" transform="rotate(-35 62.3 155.7)"/><rect x="94.9" y="136.7" width="7.3" height="4.8" fill="#c5c5c5" transform="rotate(60 98.6 139.2)"/><rect x="92.6" y="149.7" width="8.8" height="4.2" fill="#afafaf" transform="rotate(0 97 151.9)"/><rect x="96.4" y="156.6" width="7.9" height="2.8" fill="#bbbbbb" transform="rotate(0 100.3 158)"/><ellipse cx="74.8" cy="155.7" rx="6.3" ry="1.8" fill="#bebebe" transform="rotate(0 74.8 155.7)"/><rect x="65.5" y="141.7" width="12.9" height="7.9" fill="#b1b1b1" transform="rotate(0 71.9 145.7)"/><rect x="131.3" y="145.1" width="9.1" height="5.7" fill="#a7a7a7" transform="rotate(-35 135.9 147.9)"/><rect x="131.1" y="141.8" width="5.2" height="6" fill="#cecece" transform="rotate(35 133.7 144.8)"/><ellipse cx="112.4" cy="160" rx="4.1" ry="1.5" fill="#b9b9b9" transform="rotate(0 112.4 160)"/><ellipse cx="151.3" cy="151.4" rx="6.3" ry="3.4" fill="#c0c0c0" transform="rotate(60 151.3 151.4)"/><rect x="174" y="138.3" width="9.1" height="3.7" fill="#d2d2d2" transform="rotate(0 178.5 140.1)"/><rect x="217.4" y="136.3" width="4.7" height="6.7" fill="#aaaaaa" transform="rotate(0 219.7 139.7)"/><rect x="233.6" y="145.4" width="3.1" height="5.3" fill="#b5b5b5" transform="rotate(60 235.2 148.1)"/><rect x="258.4" y="156.6" width="6.5" height="3.6" fill="#c1c1c1" transform="rotate(0 261.7 158.4)"/><rect x="253.6" y="142.9" width="6.5" height="5.7" fill="#b8b8b8" transform="rotate(0 256.9 145.8)"/><ellipse cx="252.7" cy="135.9" rx="6.3" ry="1.5" fill="#b2b2b2" transform="rotate(0 252.7 135.9)"/><ellipse cx="256.9" cy="163.7" rx="3.1" ry="3.6" fill="#c6c6c6" transform="rotate(35 256.9 163.7)"/><ellipse cx="310.9" cy="137.4" rx="5.9" ry="2.6" fill="#bababa" transform="rotate(90 310.9 137.4)"/><rect x="289.9" y="150.9" width="9" height="7.4" fill="#b7b7b7" transform="rotate(-35 294.4 154.5)"/><rect x="340" y="137.7" width="7.6" height="2.7" fill="#acacac" transform="rotate(-35 343.8 139.1)"/><rect x="317.6" y="137.4" width="3.1" height="4.4" fill="#d1d1d1" transform="rotate(0 319.1 139.6)"/><rect x="333.8" y="131.7" width="10.7" height="2.7" fill="#d1d1d1" transform="rotate(-35 339.2 133)"/><ellipse cx="5.5" cy="171.3" rx="1.9" ry="2.5" fill="#afafaf" transform="rotate(60 5.5 171.3)"/><ellipse cx="12.5" cy="173.9" rx="5.7" ry="3.1" fill="#ababab" transform="rotate(0 12.5 173.9)"/><ellipse cx="12.5" cy="183.3" rx="5" ry="3.8" fill="#b6b6b6" transform="rotate(35 12.5 183.3)"/><ellipse cx="68.1" cy="171.4" rx="3.1" ry="1.9" fill="#aeaeae" transform="rotate(35 68.1 171.4)"/><ellipse cx="43.9" cy="191.2" rx="4.1" ry="2.4" fill="#a4a4a4" transform="rotate(0 43.9 191.2)"/><ellipse cx="49.6" cy="196.6" rx="2.6" ry="1.9" fill="#bababa" transform="rotate(35 49.6 196.6)"/><ellipse cx="87.7" cy="184.7" rx="4.7" ry="2.2" fill="#bbbbbb" transform="rotate(60 87.7 184.7)"/><ellipse cx="84.8" cy="192.6" rx="2.1" ry="2.8" fill="#c0c0c0" transform="rotate(0 84.8 192.6)"/><rect x="86.3" y="185.5" width="5.6" height="3.8" fill="#c1c1c1" transform="rotate(0 89.1 187.5)"/><rect x="114.8" y="173.3" width="9.7" height="5.2" fill="#cecece" transform="rotate(-35 119.6 175.9)"/><rect x="130" y="184.6" width="5.2" height="3" fill="#c3c3c3" transform="rotate(0 132.6 186)"/><rect x="136.9" y="169.2" width="5.5" height="3.4" fill="#cccccc" transform="rotate(0 139.7 170.9)"/><ellipse cx="162.1" cy="187.7" rx="5.5" ry="2.4" fill="#aeaeae" transform="rotate(0 162.1 187.7)"/><rect x="195.8" y="192.1" width="11.7" height="7.8" fill="#d6d6d6" transform="rotate(35 201.7 196)"/><ellipse cx="215" cy="186.3" rx="2.9" ry="3" fill="#c1c1c1" transform="rotate(90 215 186.3)"/><ellipse cx="236.8" cy="170" rx="4.6" ry="1.5" fill="#d1d1d1" transform="rotate(35 236.8 170)"/><ellipse cx="249.5" cy="189.9" rx="2" ry="3.4" fill="#d4d4d4" transform="rotate(90 249.5 189.9)"/><ellipse cx="267" cy="167.5" rx="3.7" ry="2.2" fill="#a8a8a8" transform="rotate(90 267 167.5)"/><rect x="297.6" y="178.9" width="6.7" height="3.1" fill="#a7a7a7" transform="rotate(0 301 180.4)"/><ellipse cx="339.9" cy="198.1" rx="2.7" ry="2.2" fill="#b4b4b4" transform="rotate(0 339.9 198.1)"/><rect x="326.6" y="176.8" width="4.9" height="7.3" fill="#b4b4b4" transform="rotate(35 329.1 180.5)"/><ellipse cx="6.7" cy="211.3" rx="5.6" ry="3.6" fill="#ababab" transform="rotate(90 6.7 211.3)"/><ellipse cx="12.4" cy="201.5" rx="5.7" ry="1.9" fill="#c7c7c7" transform="rotate(0 12.4 201.5)"/><rect x="14.9" y="202.9" width="6" height="6.4" fill="#b2b2b2" transform="rotate(-35 17.9 206.1)"/><rect x="1.1" y="230.2" width="7.8" height="3.8" fill="#aeaeae" transform="rotate(90 5 232.1)"/><rect x="57.9" y="215" width="3" height="6.5" fill="#c7c7c7" transform="rotate(90 59.5 218.2)"/><rect x="48.5" y="228.2" width="3.8" height="6.3" fill="#bebebe" transform="rotate(0 50.4 231.3)"/><rect x="49.7" y="212.7" width="6.2" height="2.7" fill="#b8b8b8" transform="rotate(90 52.8 214)"/><ellipse cx="88.1" cy="208.7" rx="3.9" ry="3.8" fill="#b5b5b5" transform="rotate(0 88.1 208.7)"/><ellipse cx="75.8" cy="203.8" rx="3.8" ry="1.4" fill="#bababa" transform="rotate(0 75.8 203.8)"/><ellipse cx="106.6" cy="215.3" rx="1.6" ry="2.7" fill="#c5c5c5" transform="rotate(35 106.6 215.3)"/><rect x="113" y="223.8" width="9.7" height="7.6" fill="#cfcfcf" transform="rotate(0 117.9 227.6)"/><ellipse cx="150.6" cy="213.4" rx="5.7" ry="1.8" fill="#b3b3b3" transform="rotate(0 150.6 213.4)"/><ellipse cx="158.6" cy="219" rx="3.6" ry="1.4" fill="#bfbfbf" transform="rotate(90 158.6 219)"/><ellipse cx="153.4" cy="221.1" rx="5.2" ry="3.5" fill="#a8a8a8" transform="rotate(60 153.4 221.1)"/><rect x="186.8" y="213.2" width="4.9" height="6.9" fill="#a6a6a6" transform="rotate(0 189.2 216.6)"/><rect x="217" y="202.2" width="5.1" height="4.5" fill="#bdbdbd" transform="rotate(90 219.6 204.5)"/><rect x="222.9" y="217.7" width="4" height="4.8" fill="#a6a6a6" transform="rotate(35 224.9 220.1)"/><ellipse cx="215.5" cy="199.7" rx="5.2" ry="3.9" fill="#c9c9c9" transform="rotate(0 215.5 199.7)"/><ellipse cx="222.9" cy="228.6" rx="2" ry="2" fill="#adadad" transform="rotate(0 222.9 228.6)"/><ellipse cx="277.5" cy="200" rx="3" ry="3.2" fill="#a6a6a6" transform="rotate(35 277.5 200)"/><rect x="246" y="199.6" width="8.1" height="3.2" fill="#d0d0d0" transform="rotate(0 250 201.2)"/><rect x="271" y="215.3" width="3.2" height="7.4" fill="#c7c7c7" transform="rotate(35 272.6 219)"/><rect x="295.1" y="229.8" width="12.7" height="3" fill="#bfbfbf" transform="rotate(0 301.4 231.3)"/><rect x="282.2" y="215.6" width="7" height="3.1" fill="#b3b3b3" transform="rotate(0 285.7 217.1)"/><ellipse cx="346" cy="203.7" rx="4.3" ry="3.3" fill="#b9b9b9" transform="rotate(60 346 203.7)"/><rect x="315.4" y="215.9" width="4.8" height="7" fill="#cfcfcf" transform="rotate(90 317.8 219.4)"/><rect x="41" y="235.9" width="12.8" height="3.6" fill="#bababa" transform="rotate(0 47.4 237.8)"/><rect x="64.4" y="249.6" width="8.3" height="6.1" fill="#b3b3b3" transform="rotate(90 68.5 252.6)"/><ellipse cx="97" cy="240" rx="5.2" ry="2.4" fill="#cdcdcd" transform="rotate(0 97 240)"/><ellipse cx="90.9" cy="259.2" rx="5" ry="2.7" fill="#c7c7c7" transform="rotate(0 90.9 259.2)"/><rect x="128.3" y="240.6" width="7.2" height="7.7" fill="#d3d3d3" transform="rotate(35 131.9 244.4)"/><rect x="104" y="230.7" width="5.9" height="6.1" fill="#cacaca" transform="rotate(90 107 233.7)"/><rect x="169.9" y="239.6" width="8.7" height="5.5" fill="#c3c3c3" transform="rotate(0 174.3 242.3)"/><rect x="135.9" y="239.5" width="10.4" height="2.7" fill="#a5a5a5" transform="rotate(-35 141.1 240.9)"/><ellipse cx="148.7" cy="242" rx="2.7" ry="3.6" fill="#a5a5a5" transform="rotate(90 148.7 242)"/><ellipse cx="175.7" cy="253.1" rx="6.3" ry="3.6" fill="#b1b1b1" transform="rotate(0 175.7 253.1)"/><ellipse cx="176.9" cy="253.6" rx="2.6" ry="2.8" fill="#a6a6a6" transform="rotate(35 176.9 253.6)"/><rect x="200.5" y="239.3" width="10.5" height="7.5" fill="#cacaca" transform="rotate(0 205.7 243.1)"/><ellipse cx="226.4" cy="248.3" rx="4.6" ry="2.8" fill="#b6b6b6" transform="rotate(0 226.4 248.3)"/><rect x="230.5" y="243.1" width="4.3" height="4.9" fill="#b7b7b7" transform="rotate(0 232.7 245.5)"/><ellipse cx="243.2" cy="251.1" rx="6.2" ry="2" fill="#cecece" transform="rotate(60 243.2 251.1)"/><rect x="211.9" y="242.6" width="8.2" height="6.1" fill="#d4d4d4" transform="rotate(60 216 245.6)"/><ellipse cx="248.6" cy="251" rx="4" ry="2.5" fill="#cbcbcb" transform="rotate(0 248.6 251)"/><rect x="242.2" y="262.7" width="8.6" height="4.2" fill="#cfcfcf" transform="rotate(-35 246.5 264.8)"/><rect x="263.4" y="230.6" width="11.3" height="6.4" fill="#a8a8a8" transform="rotate(-35 269.1 233.8)"/><ellipse cx="271.8" cy="264.2" rx="2.4" ry="2.7" fill="#a7a7a7" transform="rotate(0 271.8 264.2)"/><ellipse cx="278.4" cy="249.6" rx="2.5" ry="2.1" fill="#c0c0c0" transform="rotate(35 278.4 249.6)"/><rect x="284.3" y="231.9" width="12.1" height="3.8" fill="#cacaca" transform="rotate(-35 290.4 233.7)"/><rect x="312.2" y="253.9" width="7.5" height="5.8" fill="#aeaeae" transform="rotate(60 316 256.8)"/><ellipse cx="35" cy="282" rx="6.2" ry="2.8" fill="#b4b4b4" transform="rotate(60 35 282)"/><rect x="47.4" y="274.6" width="4.8" height="4.2" fill="#c2c2c2" transform="rotate(0 49.8 276.7)"/><rect x="51.5" y="268.4" width="6.8" height="7.5" fill="#d5d5d5" transform="rotate(0 54.9 272.2)"/><ellipse cx="50" cy="277" rx="1.7" ry="2.6" fill="#b1b1b1" transform="rotate(0 50 277)"/><ellipse cx="81.9" cy="295.9" rx="2.1" ry="2.4" fill="#cccccc" transform="rotate(90 81.9 295.9)"/><ellipse cx="104.5" cy="289.6" rx="3" ry="2.1" fill="#cfcfcf" transform="rotate(35 104.5 289.6)"/><ellipse cx="74.1" cy="298" rx="4.2" ry="3.8" fill="#ababab" transform="rotate(0 74.1 298)"/><ellipse cx="90.5" cy="284.7" rx="3.5" ry="2.2" fill="#bcbcbc" transform="rotate(0 90.5 284.7)"/><rect x="80.8" y="274" width="8.7" height="5.6" fill="#d3d3d3" transform="rotate(60 85.2 276.8)"/><ellipse cx="115.4" cy="274.1" rx="3.6" ry="2.7" fill="#a5a5a5" transform="rotate(60 115.4 274.1)"/><ellipse cx="120.8" cy="270" rx="3.6" ry="1.5" fill="#aeaeae" transform="rotate(0 120.8 270)"/><rect x="107.7" y="272.7" width="10.7" height="3.2" fill="#cccccc" transform="rotate(60 113.1 274.3)"/><rect x="160.4" y="287.5" width="3.1" height="6.2" fill="#b2b2b2" transform="rotate(0 161.9 290.6)"/><rect x="201.9" y="278.8" width="9.6" height="7.9" fill="#a5a5a5" transform="rotate(35 206.8 282.7)"/><rect x="215.6" y="296.2" width="5.3" height="4.2" fill="#bbbbbb" transform="rotate(35 218.2 298.2)"/><ellipse cx="222.6" cy="268.4" rx="5.6" ry="3.9" fill="#d3d3d3" transform="rotate(0 222.6 268.4)"/><rect x="225.2" y="276.7" width="6.4" height="5.1" fill="#cfcfcf" transform="rotate(90 228.4 279.3)"/><rect x="246.5" y="275.4" width="9.9" height="8" fill="#a8a8a8" transform="rotate(0 251.5 279.4)"/><ellipse cx="252.7" cy="270.2" rx="2.8" ry="2.8" fill="#d6d6d6" transform="rotate(0 252.7 270.2)"/><rect x="253.1" y="268.1" width="8.9" height="4.4" fill="#a6a6a6" transform="rotate(0 257.5 270.4)"/><ellipse cx="298" cy="296.6" rx="5.1" ry="2.9" fill="#c4c4c4" transform="rotate(-35 298 296.6)"/><rect x="295.6" y="280.5" width="5.9" height="3.6" fill="#cecece" transform="rotate(-35 298.5 282.3)"/><rect x="295.7" y="266.5" width="7.5" height="7.7" fill="#adadad" transform="rotate(0 299.5 270.3)"/><ellipse cx="333.6" cy="296.6" rx="4.9" ry="1.8" fill="#d4d4d4" transform="rotate(0 333.6 296.6)"/><rect x="311" y="286.3" width="9.2" height="3.1" fill="#bdbdbd" transform="rotate(35 315.6 287.8)"/><ellipse cx="34.9" cy="328.5" rx="2.6" ry="1.5" fill="#bdbdbd" transform="rotate(0 34.9 328.5)"/><rect x="32.8" y="313.1" width="7.4" height="3.5" fill="#b0b0b0" transform="rotate(0 36.4 314.9)"/><ellipse cx="56.7" cy="303.6" rx="3.5" ry="1.6" fill="#c4c4c4" transform="rotate(60 56.7 303.6)"/><ellipse cx="58.1" cy="324.9" rx="6.2" ry="1.6" fill="#aaaaaa" transform="rotate(35 58.1 324.9)"/><ellipse cx="89.3" cy="327.9" rx="2.9" ry="3.9" fill="#a4a4a4" transform="rotate(-35 89.3 327.9)"/><ellipse cx="97.2" cy="327.9" rx="5" ry="3.6" fill="#cacaca" transform="rotate(60 97.2 327.9)"/><rect x="77.5" y="311" width="6.9" height="7.3" fill="#b9b9b9" transform="rotate(90 80.9 314.6)"/><rect x="80.1" y="314.2" width="6.2" height="3.5" fill="#acacac" transform="rotate(-35 83.2 316)"/><rect x="79.4" y="312.2" width="10.2" height="4.6" fill="#ababab" transform="rotate(-35 84.5 314.5)"/><ellipse cx="119.3" cy="326.4" rx="2.1" ry="3.1" fill="#afafaf" transform="rotate(90 119.3 326.4)"/><rect x="102.7" y="318.3" width="8" height="3" fill="#a4a4a4" transform="rotate(0 106.7 319.8)"/><rect x="132.7" y="301.1" width="4.3" height="6.8" fill="#a9a9a9" transform="rotate(35 134.8 304.5)"/><ellipse cx="105.3" cy="300.5" rx="3.7" ry="2" fill="#b3b3b3" transform="rotate(0 105.3 300.5)"/><ellipse cx="112.6" cy="326.3" rx="1.8" ry="3.5" fill="#d4d4d4" transform="rotate(0 112.6 326.3)"/><ellipse cx="167" cy="310.3" rx="4" ry="2.1" fill="#a7a7a7" transform="rotate(35 167 310.3)"/><ellipse cx="163.3" cy="299.4" rx="2" ry="2.3" fill="#d0d0d0" transform="rotate(60 163.3 299.4)"/><ellipse cx="186.3" cy="308.6" rx="4.5" ry="3.4" fill="#a4a4a4" transform="rotate(0 186.3 308.6)"/><ellipse cx="193.2" cy="322.7" rx="2.9" ry="1.4" fill="#c1c1c1" transform="rotate(0 193.2 322.7)"/><ellipse cx="221.7" cy="316.1" rx="5" ry="3.6" fill="#cbcbcb" transform="rotate(35 221.7 316.1)"/><rect x="239.9" y="302.2" width="11.1" height="7.3" fill="#aeaeae" transform="rotate(60 245.4 305.8)"/><rect x="292.6" y="312.4" width="3.7" height="4.2" fill="#c9c9c9" transform="rotate(0 294.5 314.5)"/><rect x="286.6" y="305.5" width="11.8" height="3.9" fill="#c3c3c3" transform="rotate(35 292.5 307.4)"/><rect x="296.7" y="297.1" width="9.5" height="6.7" fill="#b3b3b3" transform="rotate(0 301.5 300.5)"/><ellipse cx="295.6" cy="311.3" rx="4.5" ry="1.6" fill="#bdbdbd" transform="rotate(60 295.6 311.3)"/><ellipse cx="299.2" cy="303.7" rx="5.2" ry="2.3" fill="#b3b3b3" transform="rotate(0 299.2 303.7)"/><ellipse cx="329" cy="309.6" rx="1.9" ry="2.7" fill="#adadad" transform="rotate(90 329 309.6)"/><ellipse cx="319.8" cy="313.5" rx="5.2" ry="1.4" fill="#cdcdcd" transform="rotate(-35 319.8 313.5)"/><rect x="203" y="212.5" width="32" height="26.5" rx="4" fill="#cccccc"/><ellipse cx="274.5" cy="156" rx="9.5" ry="9" fill="#adadad"/><ellipse cx="101" cy="100.5" rx="12" ry="5" fill="#b8b8b8"/><ellipse cx="76" cy="96" rx="6" ry="5" fill="#b8b8b8"/><ellipse cx="196.5" cy="133.5" rx="4.5" ry="4" fill="#b8b8b8"/><circle cx="250" cy="86.5" r="4.2" fill="#cccccc"/><ellipse cx="98" cy="157" rx="7" ry="9" fill="#adadad"/><ellipse cx="70" cy="161" rx="14" ry="3.5" fill="#adadad"/><ellipse cx="255" cy="239" rx="10" ry="6" fill="#adadad"/><ellipse cx="174" cy="244" rx="9" ry="5" fill="#a3a3a3"/><ellipse cx="33" cy="19" rx="9" ry="8" fill="#b8b8b8"/><ellipse cx="334" cy="84" rx="10" ry="26" fill="#b8b8b8"/><ellipse cx="296" cy="98" rx="7" ry="11" fill="#adadad"/></g>
<use href="#mwhite"/>
</g>
<g fill="none" stroke="#f00" stroke-width="1.9"><circle cx="77.9" cy="149.3" r="22.6"/><circle cx="273.7" cy="154.1" r="16.3"/><circle cx="218.2" cy="223" r="20.7"/><circle cx="258.5" cy="233" r="19"/></g>
<text x="42" y="52.9" font-size="29.5" font-weight="bold" textLength="25.5" lengthAdjust="spacingAndGlyphs">f7</text>
<text x="38.8" y="304.2" font-size="30.5" font-weight="bold" textLength="157" lengthAdjust="spacingAndGlyphs">2014/08/19</text>
</g>
<g transform="translate(1427 1122.4)">
<g clip-path="url(#mclip)">
<g filter="url(#mff8)">
<rect x="-40" y="-40" width="110.5" height="73.7" fill="#999999"/>
<rect x="70" y="-40" width="210.5" height="73.7" fill="#858585"/>
<rect x="280" y="-40" width="110.5" height="73.7" fill="#999999"/>
<rect x="-40" y="33.2" width="75.5" height="33.7" fill="#999999"/>
<rect x="35" y="33.2" width="280.5" height="33.7" fill="#858585"/>
<rect x="315" y="33.2" width="75.5" height="33.7" fill="#999999"/>
<rect x="-40" y="66.4" width="110.5" height="33.7" fill="#858585"/>
<rect x="70" y="66.4" width="35.5" height="33.7" fill="#999999"/>
<rect x="105" y="66.4" width="70.5" height="33.7" fill="#858585"/>
<rect x="175" y="66.4" width="35.5" height="33.7" fill="#787878"/>
<rect x="210" y="66.4" width="105.5" height="33.7" fill="#858585"/>
<rect x="315" y="66.4" width="75.5" height="33.7" fill="#999999"/>
<rect x="-40" y="99.6" width="180.5" height="33.7" fill="#858585"/>
<rect x="140" y="99.6" width="105.5" height="33.7" fill="#787878"/>
<rect x="245" y="99.6" width="145.5" height="33.7" fill="#858585"/>
<rect x="-40" y="132.8" width="75.5" height="33.7" fill="#787878"/>
<rect x="35" y="132.8" width="105.5" height="33.7" fill="#858585"/>
<rect x="140" y="132.8" width="105.5" height="33.7" fill="#787878"/>
<rect x="245" y="132.8" width="70.5" height="33.7" fill="#858585"/>
<rect x="315" y="132.8" width="75.5" height="33.7" fill="#787878"/>
<rect x="-40" y="166" width="180.5" height="33.7" fill="#858585"/>
<rect x="140" y="166" width="35.5" height="33.7" fill="#787878"/>
<rect x="175" y="166" width="70.5" height="33.7" fill="#6b6b6b"/>
<rect x="245" y="166" width="145.5" height="33.7" fill="#787878"/>
<rect x="-40" y="199.2" width="75.5" height="33.7" fill="#858585"/>
<rect x="35" y="199.2" width="35.5" height="33.7" fill="#787878"/>
<rect x="70" y="199.2" width="70.5" height="33.7" fill="#858585"/>
<rect x="140" y="199.2" width="35.5" height="33.7" fill="#787878"/>
<rect x="175" y="199.2" width="35.5" height="33.7" fill="#6b6b6b"/>
<rect x="210" y="199.2" width="70.5" height="33.7" fill="#858585"/>
<rect x="280" y="199.2" width="110.5" height="33.7" fill="#787878"/>
<rect x="-40" y="232.4" width="110.5" height="33.7" fill="#787878"/>
<rect x="70" y="232.4" width="105.5" height="33.7" fill="#858585"/>
<rect x="175" y="232.4" width="35.5" height="33.7" fill="#787878"/>
<rect x="210" y="232.4" width="70.5" height="33.7" fill="#858585"/>
<rect x="280" y="232.4" width="110.5" height="33.7" fill="#6b6b6b"/>
<rect x="-40" y="265.6" width="75.5" height="33.7" fill="#6b6b6b"/>
<rect x="35" y="265.6" width="35.5" height="33.7" fill="#787878"/>
<rect x="70" y="265.6" width="35.5" height="33.7" fill="#858585"/>
<rect x="105" y="265.6" width="70.5" height="33.7" fill="#787878"/>
<rect x="175" y="265.6" width="35.5" height="33.7" fill="#6b6b6b"/>
<rect x="210" y="265.6" width="70.5" height="33.7" fill="#787878"/>
<rect x="280" y="265.6" width="35.5" height="33.7" fill="#6b6b6b"/>
<rect x="315" y="265.6" width="75.5" height="33.7" fill="#787878"/>
<rect x="-40" y="298.8" width="75.5" height="73.7" fill="#6b6b6b"/>
<rect x="35" y="298.8" width="35.5" height="73.7" fill="#787878"/>
<rect x="70" y="298.8" width="70.5" height="73.7" fill="#858585"/>
<rect x="140" y="298.8" width="35.5" height="73.7" fill="#787878"/>
<rect x="175" y="298.8" width="35.5" height="73.7" fill="#6b6b6b"/>
<rect x="210" y="298.8" width="70.5" height="73.7" fill="#787878"/>
<rect x="280" y="298.8" width="35.5" height="73.7" fill="#858585"/>
<rect x="315" y="298.8" width="75.5" height="73.7" fill="#787878"/>
<path d="M0.5 46L1.5 42.1L5.3 38.3L10 35.5L15.7 31.7L21.3 26L26 20.4L30.8 14.2L34.5 11.4L40.2 9.5L49.6 8.6L87.4 7.2L134.6 5.7L173 3.9L220.2 2L257.9 0.1L261.7 0.4L267.4 2L276.8 7.2L295.7 22.3L314.6 38.3L333.5 54.3L341 61.9L344.3 68.5L346.2 77.9L346.5 137L346.5 197L345.9 225.3L344.8 244.2L342.9 263.1L341 281.9L339.1 293.3L335.3 301.8L328.7 310.3L319.3 318.8L309.9 323.5L300.4 325.8L286.3 327.7L248.5 328.7L173 330.1L35.5 331.5L27.9 330.6L24.1 327.2L21.3 319.7L19 310.3L16.1 303.7L15.2 291.4L14.7 263.1L13.3 253.6L9 246.1L4.3 234.8L1 215.9L0.1 197Z" fill="none" stroke="#a8a8a8" stroke-width="12" opacity="0.65"/>
</g>
<g filter="url(#mcf8)"><ellipse cx="40" cy="23.9" rx="2.2" ry="2.5" fill="#d7d7d7" transform="rotate(35 40 23.9)"/><ellipse cx="64.1" cy="15.1" rx="3" ry="1.3" fill="#bbbbbb" transform="rotate(0 64.1 15.1)"/><rect x="59.1" y="28.4" width="8.9" height="5.5" fill="#d9d9d9" transform="rotate(60 63.6 31.2)"/><rect x="42.5" y="18.4" width="12.6" height="3.3" fill="#d8d8d8" transform="rotate(0 48.8 20)"/><rect x="39.4" y="23.2" width="3.7" height="4.5" fill="#c0c0c0" transform="rotate(60 41.3 25.5)"/><ellipse cx="100" cy="10.1" rx="3.4" ry="1.7" fill="#b4b4b4" transform="rotate(0 100 10.1)"/><ellipse cx="77" cy="30.7" rx="6.3" ry="2.3" fill="#bcbcbc" transform="rotate(0 77 30.7)"/><ellipse cx="72.5" cy="19.7" rx="4" ry="1.4" fill="#afafaf" transform="rotate(-35 72.5 19.7)"/><ellipse cx="130.2" cy="15.6" rx="4.8" ry="3.9" fill="#e0e0e0" transform="rotate(0 130.2 15.6)"/><rect x="121.4" y="6.2" width="10.3" height="5.8" fill="#d0d0d0" transform="rotate(-35 126.5 9.1)"/><ellipse cx="130.4" cy="30.4" rx="3.8" ry="2.9" fill="#aeaeae" transform="rotate(0 130.4 30.4)"/><ellipse cx="115.5" cy="24.3" rx="5.7" ry="3.9" fill="#d2d2d2" transform="rotate(-35 115.5 24.3)"/><ellipse cx="122.5" cy="14.2" rx="2" ry="3.9" fill="#dddddd" transform="rotate(0 122.5 14.2)"/><ellipse cx="149.9" cy="15.9" rx="4.7" ry="1.9" fill="#c3c3c3" transform="rotate(60 149.9 15.9)"/><rect x="145.1" y="16.5" width="6.8" height="4.7" fill="#c7c7c7" transform="rotate(-35 148.5 18.8)"/><ellipse cx="146.1" cy="25.8" rx="2.1" ry="2.6" fill="#b7b7b7" transform="rotate(35 146.1 25.8)"/><rect x="205.8" y="8.3" width="3.5" height="4.8" fill="#dfdfdf" transform="rotate(60 207.6 10.7)"/><ellipse cx="180.3" cy="5.9" rx="5.5" ry="2.8" fill="#b3b3b3" transform="rotate(90 180.3 5.9)"/><ellipse cx="197.7" cy="10.8" rx="2.9" ry="3.5" fill="#b1b1b1" transform="rotate(0 197.7 10.8)"/><ellipse cx="181.8" cy="30.5" rx="2.8" ry="3" fill="#c1c1c1" transform="rotate(-35 181.8 30.5)"/><ellipse cx="222" cy="2.2" rx="2.8" ry="2.3" fill="#b7b7b7" transform="rotate(90 222 2.2)"/><rect x="221.5" y="7.5" width="6.9" height="3.5" fill="#d3d3d3" transform="rotate(35 225 9.2)"/><ellipse cx="243.1" cy="3.6" rx="1.7" ry="3.9" fill="#cdcdcd" transform="rotate(0 243.1 3.6)"/><rect x="214.1" y="20.6" width="4.4" height="6.5" fill="#b7b7b7" transform="rotate(60 216.3 23.9)"/><rect x="250.1" y="14" width="4" height="5.7" fill="#d9d9d9" transform="rotate(-35 252.1 16.8)"/><ellipse cx="258.9" cy="31.2" rx="2.2" ry="1.4" fill="#b6b6b6" transform="rotate(90 258.9 31.2)"/><ellipse cx="273" cy="27.3" rx="4.9" ry="2.9" fill="#b8b8b8" transform="rotate(0 273 27.3)"/><ellipse cx="270.3" cy="31.7" rx="3.7" ry="2.6" fill="#c2c2c2" transform="rotate(0 270.3 31.7)"/><ellipse cx="297.5" cy="32.7" rx="4.3" ry="1.9" fill="#dddddd" transform="rotate(90 297.5 32.7)"/><ellipse cx="22.4" cy="62.6" rx="2.4" ry="3.5" fill="#b4b4b4" transform="rotate(35 22.4 62.6)"/><ellipse cx="16.6" cy="45" rx="5.2" ry="1.4" fill="#dadada" transform="rotate(60 16.6 45)"/><ellipse cx="34.2" cy="43.9" rx="1.9" ry="2.3" fill="#bcbcbc" transform="rotate(0 34.2 43.9)"/><ellipse cx="26.8" cy="66.2" rx="5.7" ry="2" fill="#dfdfdf" transform="rotate(0 26.8 66.2)"/><rect x="27.5" y="43.6" width="5.3" height="7.6" fill="#bbbbbb" transform="rotate(0 30.1 47.4)"/><ellipse cx="1.7" cy="60.1" rx="5.7" ry="3.3" fill="#d0d0d0" transform="rotate(0 1.7 60.1)"/><rect x="21.5" y="40.7" width="5.7" height="7.6" fill="#dddddd" transform="rotate(35 24.3 44.5)"/><rect x="8" y="54.4" width="10.5" height="6.4" fill="#bbbbbb" transform="rotate(60 13.2 57.6)"/><ellipse cx="57.6" cy="47.5" rx="5.5" ry="3.4" fill="#bfbfbf" transform="rotate(0 57.6 47.5)"/><rect x="32.8" y="52" width="7.7" height="3.1" fill="#d2d2d2" transform="rotate(60 36.7 53.5)"/><ellipse cx="46.3" cy="56.9" rx="4.4" ry="2.8" fill="#c3c3c3" transform="rotate(0 46.3 56.9)"/><ellipse cx="36" cy="48.1" rx="4.8" ry="1.4" fill="#dddddd" transform="rotate(0 36 48.1)"/><rect x="84.3" y="48.8" width="5.8" height="5.9" fill="#b7b7b7" transform="rotate(35 87.2 51.8)"/><rect x="90.5" y="54.7" width="6.5" height="6.8" fill="#d8d8d8" transform="rotate(90 93.7 58.1)"/><rect x="71.9" y="38.4" width="5.6" height="5.1" fill="#cbcbcb" transform="rotate(0 74.7 40.9)"/><rect x="93.8" y="37.9" width="8.8" height="6.2" fill="#bebebe" transform="rotate(90 98.2 41)"/><rect x="92.9" y="38.8" width="3.2" height="4.6" fill="#bfbfbf" transform="rotate(90 94.5 41.1)"/><rect x="105" y="42.9" width="8.4" height="7.4" fill="#c9c9c9" transform="rotate(-35 109.2 46.6)"/><ellipse cx="111.4" cy="52.7" rx="2.5" ry="2.9" fill="#c6c6c6" transform="rotate(0 111.4 52.7)"/><ellipse cx="137.9" cy="60.9" rx="6.4" ry="3.2" fill="#dbdbdb" transform="rotate(60 137.9 60.9)"/><rect x="104.4" y="61.1" width="9.2" height="5.4" fill="#e0e0e0" transform="rotate(90 109 63.7)"/><rect x="166.6" y="60.1" width="6" height="3.5" fill="#c6c6c6" transform="rotate(90 169.5 61.9)"/><rect x="146.1" y="56.3" width="12.1" height="6" fill="#c7c7c7" transform="rotate(35 152.2 59.4)"/><ellipse cx="147.7" cy="42.7" rx="3.4" ry="3.3" fill="#d4d4d4" transform="rotate(90 147.7 42.7)"/><ellipse cx="154.1" cy="46.9" rx="2.6" ry="1.9" fill="#aeaeae" transform="rotate(-35 154.1 46.9)"/><ellipse cx="202.7" cy="41.8" rx="2.6" ry="3.7" fill="#b1b1b1" transform="rotate(60 202.7 41.8)"/><ellipse cx="208.2" cy="34.9" rx="2.8" ry="3.2" fill="#c7c7c7" transform="rotate(0 208.2 34.9)"/><rect x="206.2" y="33.4" width="4.1" height="6.6" fill="#d1d1d1" transform="rotate(0 208.3 36.7)"/><rect x="177.8" y="63.7" width="3.2" height="5.4" fill="#b5b5b5" transform="rotate(90 179.4 66.3)"/><ellipse cx="239.4" cy="33.5" rx="5.4" ry="2.6" fill="#d8d8d8" transform="rotate(0 239.4 33.5)"/><rect x="220.7" y="55.2" width="5.4" height="2.7" fill="#c2c2c2" transform="rotate(60 223.4 56.5)"/><ellipse cx="226.2" cy="41.2" rx="1.6" ry="3.6" fill="#cecece" transform="rotate(0 226.2 41.2)"/><ellipse cx="244.3" cy="47.5" rx="5.6" ry="3.3" fill="#bcbcbc" transform="rotate(60 244.3 47.5)"/><rect x="219.6" y="30.4" width="6.1" height="5.7" fill="#c3c3c3" transform="rotate(0 222.7 33.2)"/><rect x="275.2" y="58.6" width="9.5" height="3.7" fill="#d4d4d4" transform="rotate(0 280 60.5)"/><ellipse cx="256.1" cy="38.9" rx="4" ry="2.5" fill="#d3d3d3" transform="rotate(0 256.1 38.9)"/><rect x="243.4" y="60" width="12.6" height="4.3" fill="#d2d2d2" transform="rotate(-35 249.8 62.2)"/><rect x="268.2" y="34.7" width="4.4" height="7.8" fill="#afafaf" transform="rotate(35 270.4 38.6)"/><ellipse cx="248" cy="33.4" rx="2.9" ry="3.3" fill="#bcbcbc" transform="rotate(-35 248 33.4)"/><ellipse cx="304.4" cy="48.5" rx="1.7" ry="1.8" fill="#cbcbcb" transform="rotate(90 304.4 48.5)"/><rect x="304.8" y="38.2" width="9.5" height="4.5" fill="#d0d0d0" transform="rotate(60 309.5 40.4)"/><rect x="293.5" y="46.1" width="9.9" height="4.7" fill="#dedede" transform="rotate(0 298.4 48.5)"/><ellipse cx="314.9" cy="51.5" rx="1.7" ry="3" fill="#cdcdcd" transform="rotate(0 314.9 51.5)"/><rect x="297.6" y="48.3" width="7.4" height="5" fill="#d1d1d1" transform="rotate(60 301.3 50.8)"/><rect x="317.4" y="49.8" width="7.5" height="5.6" fill="#d4d4d4" transform="rotate(-35 321.1 52.6)"/><rect x="310.1" y="47.5" width="11.3" height="2.6" fill="#d3d3d3" transform="rotate(-35 315.7 48.8)"/><rect x="339.1" y="60" width="4.7" height="6.5" fill="#b4b4b4" transform="rotate(0 341.4 63.3)"/><ellipse cx="6.4" cy="70.4" rx="1.6" ry="3.5" fill="#b6b6b6" transform="rotate(60 6.4 70.4)"/><rect x="4" y="95.4" width="10.2" height="5.9" fill="#bfbfbf" transform="rotate(35 9.1 98.3)"/><rect x="7.3" y="81.8" width="3.5" height="6" fill="#c7c7c7" transform="rotate(35 9.1 84.8)"/><ellipse cx="33.2" cy="81.1" rx="3.7" ry="3.3" fill="#cdcdcd" transform="rotate(90 33.2 81.1)"/><rect x="21.1" y="73.8" width="11" height="7.2" fill="#d1d1d1" transform="rotate(-35 26.6 77.4)"/><rect x="43.4" y="66.9" width="10.6" height="6.5" fill="#c1c1c1" transform="rotate(90 48.7 70.1)"/><ellipse cx="47.3" cy="77.3" rx="6.5" ry="3.3" fill="#c3c3c3" transform="rotate(60 47.3 77.3)"/><ellipse cx="66.9" cy="89" rx="1.6" ry="3.5" fill="#c3c3c3" transform="rotate(60 66.9 89)"/><ellipse cx="62.6" cy="93.1" rx="2.5" ry="3.2" fill="#dadada" transform="rotate(-35 62.6 93.1)"/><ellipse cx="35.2" cy="76.3" rx="4.1" ry="1.7" fill="#dadada" transform="rotate(90 35.2 76.3)"/><ellipse cx="75.6" cy="89" rx="6.1" ry="2.9" fill="#c1c1c1" transform="rotate(0 75.6 89)"/><rect x="95.7" y="76.6" width="10.6" height="6.9" fill="#dcdcdc" transform="rotate(60 101 80.1)"/><ellipse cx="86.8" cy="86.2" rx="4.5" ry="2.2" fill="#d5d5d5" transform="rotate(0 86.8 86.2)"/><ellipse cx="80.4" cy="69.4" rx="3.7" ry="3.6" fill="#c1c1c1" transform="rotate(90 80.4 69.4)"/><ellipse cx="74.8" cy="75" rx="5.7" ry="3.2" fill="#c2c2c2" transform="rotate(-35 74.8 75)"/><ellipse cx="71.7" cy="97.6" rx="4.4" ry="2.4" fill="#dadada" transform="rotate(0 71.7 97.6)"/><ellipse cx="93.4" cy="75.8" rx="5.1" ry="2.2" fill="#dcdcdc" transform="rotate(60 93.4 75.8)"/><ellipse cx="81.6" cy="92.8" rx="6.1" ry="2" fill="#d2d2d2" transform="rotate(60 81.6 92.8)"/><rect x="133.2" y="95.5" width="5.8" height="4.7" fill="#b0b0b0" transform="rotate(0 136.1 97.9)"/><rect x="127.3" y="80" width="10.7" height="3.5" fill="#dedede" transform="rotate(35 132.7 81.8)"/><rect x="116.7" y="78.9" width="10.5" height="5.7" fill="#b8b8b8" transform="rotate(90 122 81.8)"/><rect x="119.5" y="85.6" width="11.5" height="3" fill="#cacaca" transform="rotate(0 125.3 87.1)"/><ellipse cx="131.2" cy="94.4" rx="4.6" ry="3.6" fill="#b0b0b0" transform="rotate(90 131.2 94.4)"/><rect x="141.8" y="73.9" width="10.3" height="7.9" fill="#d4d4d4" transform="rotate(0 146.9 77.9)"/><ellipse cx="150.8" cy="73.1" rx="2.9" ry="3.5" fill="#b3b3b3" transform="rotate(0 150.8 73.1)"/><rect x="164.9" y="86.4" width="3.3" height="4.5" fill="#d7d7d7" transform="rotate(35 166.5 88.7)"/><ellipse cx="158.7" cy="79.1" rx="4.2" ry="1.8" fill="#b1b1b1" transform="rotate(90 158.7 79.1)"/><ellipse cx="177.6" cy="84.6" rx="3.5" ry="3.5" fill="#cacaca" transform="rotate(-35 177.6 84.6)"/><ellipse cx="198.8" cy="82.5" rx="5.5" ry="1.3" fill="#c8c8c8" transform="rotate(-35 198.8 82.5)"/><ellipse cx="212.9" cy="81.5" rx="4.4" ry="2.9" fill="#b1b1b1" transform="rotate(0 212.9 81.5)"/><ellipse cx="231.7" cy="76" rx="4.7" ry="3.9" fill="#d2d2d2" transform="rotate(0 231.7 76)"/><rect x="227.9" y="76.4" width="5.1" height="7" fill="#b3b3b3" transform="rotate(0 230.4 79.9)"/><ellipse cx="234.9" cy="80.8" rx="4" ry="2" fill="#b0b0b0" transform="rotate(0 234.9 80.8)"/><ellipse cx="262.8" cy="88.5" rx="5.2" ry="1.8" fill="#dbdbdb" transform="rotate(90 262.8 88.5)"/><ellipse cx="264.3" cy="69.4" rx="6.2" ry="2.8" fill="#aeaeae" transform="rotate(0 264.3 69.4)"/><ellipse cx="272.4" cy="95" rx="1.6" ry="3.1" fill="#c4c4c4" transform="rotate(35 272.4 95)"/><rect x="254.5" y="80.2" width="12.6" height="5.2" fill="#d2d2d2" transform="rotate(0 260.8 82.8)"/><ellipse cx="259.6" cy="87.5" rx="3.9" ry="1.4" fill="#b8b8b8" transform="rotate(90 259.6 87.5)"/><ellipse cx="309.4" cy="85.6" rx="2.6" ry="3.2" fill="#cacaca" transform="rotate(60 309.4 85.6)"/><rect x="308.2" y="89.6" width="8.7" height="6.4" fill="#c2c2c2" transform="rotate(0 312.5 92.8)"/><ellipse cx="288.2" cy="72.9" rx="4.3" ry="3.4" fill="#d2d2d2" transform="rotate(0 288.2 72.9)"/><rect x="281.8" y="83.5" width="4.8" height="6.7" fill="#c4c4c4" transform="rotate(-35 284.2 86.8)"/><ellipse cx="334.6" cy="80.5" rx="5.1" ry="2.9" fill="#bfbfbf" transform="rotate(0 334.6 80.5)"/><rect x="329.6" y="69.9" width="10.4" height="5.8" fill="#c8c8c8" transform="rotate(60 334.7 72.8)"/><rect x="342.1" y="77" width="3.5" height="5.8" fill="#b3b3b3" transform="rotate(0 343.9 79.8)"/><rect x="310.3" y="79.3" width="12.5" height="3.9" fill="#d9d9d9" transform="rotate(0 316.6 81.3)"/><ellipse cx="316" cy="76.8" rx="6.4" ry="1.5" fill="#cfcfcf" transform="rotate(0 316 76.8)"/><ellipse cx="340.3" cy="79.7" rx="4.2" ry="2.6" fill="#b7b7b7" transform="rotate(-35 340.3 79.7)"/><rect x="-1.1" y="111.2" width="6.9" height="6.9" fill="#b6b6b6" transform="rotate(60 2.3 114.7)"/><ellipse cx="16.2" cy="131.2" rx="5" ry="3.5" fill="#b6b6b6" transform="rotate(-35 16.2 131.2)"/><ellipse cx="23.8" cy="126.2" rx="2.2" ry="3" fill="#bdbdbd" transform="rotate(35 23.8 126.2)"/><rect x="-0.9" y="119.8" width="11.7" height="3" fill="#c2c2c2" transform="rotate(35 4.9 121.3)"/><rect x="0.3" y="103.6" width="12.7" height="5.3" fill="#c3c3c3" transform="rotate(90 6.6 106.2)"/><rect x="34.8" y="107.9" width="11.2" height="6.8" fill="#cbcbcb" transform="rotate(35 40.4 111.3)"/><rect x="63.8" y="104.5" width="10.1" height="4.3" fill="#cfcfcf" transform="rotate(35 68.9 106.6)"/><ellipse cx="40.9" cy="108.5" rx="5.5" ry="1.4" fill="#bcbcbc" transform="rotate(0 40.9 108.5)"/><ellipse cx="46.7" cy="124.1" rx="5.2" ry="2" fill="#b7b7b7" transform="rotate(-35 46.7 124.1)"/><ellipse cx="104.7" cy="101.9" rx="4.8" ry="3" fill="#bdbdbd" transform="rotate(60 104.7 101.9)"/><ellipse cx="79.8" cy="108.2" rx="3.7" ry="3.5" fill="#d6d6d6" transform="rotate(60 79.8 108.2)"/><rect x="80.1" y="110.6" width="5.2" height="7.3" fill="#c2c2c2" transform="rotate(0 82.7 114.2)"/><ellipse cx="75.7" cy="120.9" rx="4.8" ry="1.6" fill="#cacaca" transform="rotate(60 75.7 120.9)"/><rect x="84.7" y="105.4" width="12.8" height="7.1" fill="#b7b7b7" transform="rotate(0 91.1 108.9)"/><rect x="119.9" y="101.3" width="9.4" height="6.2" fill="#bdbdbd" transform="rotate(-35 124.6 104.5)"/><ellipse cx="109.8" cy="126.7" rx="5.9" ry="1.7" fill="#aeaeae" transform="rotate(60 109.8 126.7)"/><rect x="136.2" y="99.5" width="4.1" height="7.6" fill="#bfbfbf" transform="rotate(0 138.2 103.3)"/><rect x="110.4" y="106.6" width="6.7" height="6.3" fill="#cccccc" transform="rotate(90 113.7 109.7)"/><rect x="169.2" y="108.6" width="6.9" height="5.3" fill="#d7d7d7" transform="rotate(0 172.7 111.2)"/><rect x="169.8" y="116.7" width="6.3" height="7.5" fill="#d9d9d9" transform="rotate(0 172.9 120.4)"/><ellipse cx="158.6" cy="127.4" rx="3.1" ry="2.2" fill="#bfbfbf" transform="rotate(0 158.6 127.4)"/><rect x="187.4" y="107.7" width="9" height="3.8" fill="#cdcdcd" transform="rotate(-35 191.9 109.6)"/><rect x="204.1" y="122.3" width="11.2" height="3.5" fill="#b8b8b8" transform="rotate(35 209.7 124.1)"/><ellipse cx="206.1" cy="104.3" rx="2.6" ry="3.8" fill="#b5b5b5" transform="rotate(-35 206.1 104.3)"/><rect x="230.4" y="127.5" width="5.9" height="5" fill="#d7d7d7" transform="rotate(90 233.4 130)"/><rect x="237.8" y="126.5" width="7.2" height="4.7" fill="#dfdfdf" transform="rotate(0 241.4 128.8)"/><rect x="237.3" y="113" width="4.7" height="6.5" fill="#b5b5b5" transform="rotate(60 239.6 116.3)"/><ellipse cx="267.9" cy="108.2" rx="1.5" ry="1.7" fill="#d7d7d7" transform="rotate(-35 267.9 108.2)"/><rect x="270.9" y="124.5" width="8.7" height="5.4" fill="#b2b2b2" transform="rotate(90 275.2 127.2)"/><rect x="263.7" y="125" width="3.1" height="6.5" fill="#b1b1b1" transform="rotate(-35 265.2 128.3)"/><rect x="255.2" y="129.9" width="7.8" height="2.6" fill="#b1b1b1" transform="rotate(0 259.1 131.2)"/><ellipse cx="303.3" cy="101.5" rx="1.7" ry="2.8" fill="#d1d1d1" transform="rotate(0 303.3 101.5)"/><rect x="298.8" y="112.2" width="12.8" height="4.7" fill="#c7c7c7" transform="rotate(0 305.2 114.6)"/><rect x="292.5" y="111.1" width="5.1" height="2.8" fill="#aeaeae" transform="rotate(35 295 112.5)"/><rect x="279.9" y="127.7" width="6.8" height="2.9" fill="#b7b7b7" transform="rotate(0 283.3 129.2)"/><rect x="300.2" y="125.6" width="12.8" height="5.3" fill="#dbdbdb" transform="rotate(35 306.6 128.3)"/><rect x="335.8" y="122.7" width="8.5" height="4.4" fill="#c2c2c2" transform="rotate(0 340 124.9)"/><rect x="319.8" y="105.7" width="12" height="6.2" fill="#b1b1b1" transform="rotate(0 325.7 108.8)"/><ellipse cx="338.1" cy="110.9" rx="2" ry="2.7" fill="#d0d0d0" transform="rotate(60 338.1 110.9)"/><ellipse cx="317.7" cy="123.7" rx="4.8" ry="1.4" fill="#c1c1c1" transform="rotate(-35 317.7 123.7)"/><rect x="333" y="112.4" width="12.6" height="7.2" fill="#cdcdcd" transform="rotate(60 339.4 116)"/><ellipse cx="21.2" cy="160" rx="2.9" ry="3.8" fill="#c0c0c0" transform="rotate(0 21.2 160)"/><rect x="10.2" y="137.4" width="12.1" height="7.7" fill="#c5c5c5" transform="rotate(60 16.2 141.3)"/><ellipse cx="19.8" cy="138.7" rx="5.7" ry="1.3" fill="#cdcdcd" transform="rotate(0 19.8 138.7)"/><ellipse cx="46.1" cy="145.3" rx="4.4" ry="3.6" fill="#d4d4d4" transform="rotate(60 46.1 145.3)"/><ellipse cx="42.5" cy="139" rx="2.3" ry="2.9" fill="#d7d7d7" transform="rotate(35 42.5 139)"/><rect x="61.8" y="153.2" width="10.9" height="4.1" fill="#c7c7c7" transform="rotate(60 67.3 155.2)"/><rect x="50.8" y="133.7" width="9.3" height="6.9" fill="#c4c4c4" transform="rotate(35 55.4 137.2)"/><rect x="84.2" y="141.6" width="5" height="6.9" fill="#c4c4c4" transform="rotate(90 86.7 145.1)"/><rect x="92.2" y="136" width="9.9" height="4" fill="#d8d8d8" transform="rotate(90 97.2 138)"/><rect x="93.8" y="134.2" width="9.2" height="6.5" fill="#dddddd" transform="rotate(0 98.4 137.4)"/><rect x="79.3" y="144.3" width="10.4" height="3.2" fill="#aeaeae" transform="rotate(60 84.5 145.9)"/><rect x="118.1" y="151.7" width="7.5" height="7.9" fill="#d7d7d7" transform="rotate(0 121.9 155.6)"/><ellipse cx="106.7" cy="140" rx="1.7" ry="1.8" fill="#dddddd" transform="rotate(0 106.7 140)"/><rect x="119.7" y="156.9" width="12" height="2.7" fill="#cbcbcb" transform="rotate(0 125.7 158.3)"/><rect x="126.1" y="144.1" width="12.8" height="3.5" fill="#c8c8c8" transform="rotate(90 132.5 145.9)"/><ellipse cx="142.1" cy="161.8" rx="2.3" ry="2.6" fill="#dbdbdb" transform="rotate(0 142.1 161.8)"/><rect x="160.7" y="161.9" width="11.5" height="3.6" fill="#b4b4b4" transform="rotate(0 166.5 163.7)"/><rect x="165.7" y="149.1" width="4.8" height="7.1" fill="#c4c4c4" transform="rotate(-35 168 152.7)"/><ellipse cx="175.8" cy="143.2" rx="3.7" ry="2.1" fill="#afafaf" transform="rotate(60 175.8 143.2)"/><rect x="184" y="157.9" width="3.9" height="7.9" fill="#d8d8d8" transform="rotate(0 186 161.9)"/><rect x="189.6" y="150.8" width="4.2" height="7.3" fill="#dadada" transform="rotate(60 191.8 154.4)"/><rect x="223.1" y="143.5" width="8.6" height="3.4" fill="#d2d2d2" transform="rotate(0 227.4 145.3)"/><ellipse cx="236.2" cy="143.2" rx="4.9" ry="2.1" fill="#bfbfbf" transform="rotate(0 236.2 143.2)"/><rect x="255.3" y="133.2" width="8.4" height="7.1" fill="#dcdcdc" transform="rotate(35 259.5 136.8)"/><rect x="246.6" y="144.8" width="5.4" height="5.8" fill="#bebebe" transform="rotate(90 249.3 147.7)"/><rect x="245.8" y="141.9" width="11.5" height="2.6" fill="#bcbcbc" transform="rotate(-35 251.5 143.2)"/><rect x="244.6" y="148.3" width="11.6" height="3.7" fill="#d9d9d9" transform="rotate(90 250.4 150.1)"/><rect x="278" y="135.4" width="11" height="7" fill="#c8c8c8" transform="rotate(0 283.5 138.9)"/><rect x="280.4" y="140.1" width="11.7" height="2.8" fill="#dddddd" transform="rotate(90 286.3 141.5)"/><rect x="306" y="150.5" width="5.4" height="7" fill="#b3b3b3" transform="rotate(0 308.7 154)"/><ellipse cx="312.9" cy="157.6" rx="2.5" ry="2.7" fill="#bdbdbd" transform="rotate(-35 312.9 157.6)"/><ellipse cx="338.9" cy="138" rx="4" ry="2.3" fill="#aeaeae" transform="rotate(0 338.9 138)"/><rect x="323.8" y="141.3" width="5" height="5.5" fill="#cfcfcf" transform="rotate(-35 326.4 144)"/><rect x="12.1" y="190.6" width="12.7" height="2.9" fill="#b8b8b8" transform="rotate(0 18.4 192.1)"/><rect x="-4.1" y="192" width="9.7" height="5" fill="#cbcbcb" transform="rotate(60 0.8 194.5)"/><rect x="9.2" y="172.8" width="9.2" height="7.8" fill="#cbcbcb" transform="rotate(0 13.8 176.7)"/><rect x="13.2" y="172.9" width="3.4" height="5.1" fill="#b8b8b8" transform="rotate(0 15 175.5)"/><ellipse cx="8.4" cy="171.5" rx="2.7" ry="3.1" fill="#bbbbbb" transform="rotate(90 8.4 171.5)"/><ellipse cx="54.5" cy="166.7" rx="4.2" ry="2.9" fill="#c7c7c7" transform="rotate(35 54.5 166.7)"/><rect x="42.8" y="174.3" width="7.2" height="3.6" fill="#c4c4c4" transform="rotate(0 46.4 176.1)"/><rect x="53.1" y="181.7" width="7.6" height="3.5" fill="#d6d6d6" transform="rotate(35 57 183.5)"/><ellipse cx="53.7" cy="177.3" rx="1.9" ry="3.9" fill="#dfdfdf" transform="rotate(0 53.7 177.3)"/><rect x="61.3" y="188.9" width="4" height="3.2" fill="#d6d6d6" transform="rotate(35 63.3 190.4)"/><ellipse cx="77" cy="189.8" rx="6.3" ry="1.8" fill="#bfbfbf" transform="rotate(0 77 189.8)"/><ellipse cx="77.9" cy="182.5" rx="2.8" ry="3" fill="#c1c1c1" transform="rotate(0 77.9 182.5)"/><rect x="68.1" y="173.9" width="7.7" height="2.7" fill="#b9b9b9" transform="rotate(35 71.9 175.2)"/><ellipse cx="78" cy="170.4" rx="5" ry="1.6" fill="#c6c6c6" transform="rotate(90 78 170.4)"/><rect x="90.8" y="193" width="10.8" height="2.7" fill="#d3d3d3" transform="rotate(90 96.2 194.4)"/><ellipse cx="137.7" cy="196.3" rx="3.9" ry="3.5" fill="#d4d4d4" transform="rotate(-35 137.7 196.3)"/><ellipse cx="113.3" cy="196.7" rx="5.1" ry="1.9" fill="#d5d5d5" transform="rotate(0 113.3 196.7)"/><rect x="129.1" y="165.2" width="5.2" height="4.8" fill="#cccccc" transform="rotate(0 131.7 167.6)"/><ellipse cx="110.5" cy="183.3" rx="2.8" ry="1.8" fill="#b5b5b5" transform="rotate(90 110.5 183.3)"/><ellipse cx="149.5" cy="188.8" rx="3" ry="3.3" fill="#c0c0c0" transform="rotate(0 149.5 188.8)"/><rect x="170" y="174.8" width="9.5" height="2.7" fill="#d8d8d8" transform="rotate(0 174.8 176.1)"/><rect x="143.9" y="181.9" width="12.1" height="2.7" fill="#dbdbdb" transform="rotate(0 149.9 183.2)"/><ellipse cx="175.9" cy="190.3" rx="4.9" ry="1.9" fill="#adadad" transform="rotate(0 175.9 190.3)"/><rect x="179.9" y="171.8" width="8.6" height="3.7" fill="#d0d0d0" transform="rotate(60 184.2 173.7)"/><ellipse cx="220.5" cy="178.7" rx="4.5" ry="3.1" fill="#d1d1d1" transform="rotate(35 220.5 178.7)"/><ellipse cx="237.5" cy="180.3" rx="4.4" ry="3" fill="#bababa" transform="rotate(0 237.5 180.3)"/><ellipse cx="273.8" cy="190" rx="6.5" ry="3.2" fill="#aeaeae" transform="rotate(-35 273.8 190)"/><rect x="263.2" y="170.6" width="4.5" height="4.1" fill="#b2b2b2" transform="rotate(90 265.4 172.7)"/><rect x="309.3" y="172.5" width="9.5" height="3.1" fill="#cacaca" transform="rotate(0 314 174)"/><rect x="285.3" y="176.8" width="9.1" height="7.3" fill="#cecece" transform="rotate(90 289.9 180.4)"/><ellipse cx="337.3" cy="168.5" rx="4.6" ry="2.6" fill="#c6c6c6" transform="rotate(0 337.3 168.5)"/><ellipse cx="342" cy="190.3" rx="5.7" ry="1.9" fill="#d4d4d4" transform="rotate(0 342 190.3)"/><ellipse cx="7.4" cy="205.4" rx="4.3" ry="1.9" fill="#bdbdbd" transform="rotate(90 7.4 205.4)"/><rect x="28.4" y="204.3" width="8.3" height="5" fill="#b7b7b7" transform="rotate(0 32.6 206.8)"/><rect x="8.9" y="206.9" width="9.9" height="7" fill="#c3c3c3" transform="rotate(35 13.9 210.4)"/><ellipse cx="8.9" cy="207.6" rx="6" ry="3.6" fill="#cfcfcf" transform="rotate(-35 8.9 207.6)"/><ellipse cx="4.4" cy="231" rx="4.7" ry="2.9" fill="#d9d9d9" transform="rotate(0 4.4 231)"/><ellipse cx="36.7" cy="230.2" rx="2.2" ry="3.1" fill="#b7b7b7" transform="rotate(0 36.7 230.2)"/><ellipse cx="55.3" cy="211.9" rx="4.3" ry="2.9" fill="#d6d6d6" transform="rotate(35 55.3 211.9)"/><ellipse cx="76.8" cy="202.7" rx="2.8" ry="1.5" fill="#dddddd" transform="rotate(-35 76.8 202.7)"/><rect x="74" y="229.9" width="9.2" height="3.2" fill="#d8d8d8" transform="rotate(0 78.7 231.5)"/><ellipse cx="95.6" cy="218" rx="4.7" ry="2.6" fill="#dadada" transform="rotate(-35 95.6 218)"/><rect x="90.6" y="202.5" width="3.8" height="2.6" fill="#dadada" transform="rotate(0 92.5 203.8)"/><rect x="88" y="225.3" width="3.5" height="4.6" fill="#bdbdbd" transform="rotate(0 89.8 227.6)"/><ellipse cx="123.3" cy="217.2" rx="1.6" ry="2.9" fill="#b5b5b5" transform="rotate(0 123.3 217.2)"/><ellipse cx="118.3" cy="230" rx="2.3" ry="1.7" fill="#d4d4d4" transform="rotate(90 118.3 230)"/><rect x="112.5" y="199.4" width="6.9" height="4.5" fill="#e0e0e0" transform="rotate(60 116 201.7)"/><ellipse cx="114.9" cy="228.3" rx="4.1" ry="3.2" fill="#c3c3c3" transform="rotate(0 114.9 228.3)"/><rect x="109.8" y="210.9" width="10.2" height="5" fill="#bebebe" transform="rotate(35 114.9 213.4)"/><rect x="145.3" y="215.6" width="7.7" height="6.6" fill="#b5b5b5" transform="rotate(0 149.2 218.9)"/><ellipse cx="146.4" cy="226.4" rx="3.8" ry="2" fill="#aeaeae" transform="rotate(90 146.4 226.4)"/><rect x="172.6" y="214.7" width="6.7" height="3.9" fill="#c8c8c8" transform="rotate(0 176 216.6)"/><ellipse cx="214.3" cy="199.9" rx="6.5" ry="3" fill="#bfbfbf" transform="rotate(60 214.3 199.9)"/><ellipse cx="223.8" cy="202.3" rx="6" ry="3" fill="#bbbbbb" transform="rotate(35 223.8 202.3)"/><rect x="213.3" y="198.6" width="10.8" height="3.1" fill="#b9b9b9" transform="rotate(90 218.7 200.1)"/><rect x="222.8" y="216.3" width="4.1" height="6.8" fill="#c7c7c7" transform="rotate(0 224.9 219.7)"/><rect x="275.2" y="228.9" width="4.8" height="6.8" fill="#d8d8d8" transform="rotate(-35 277.6 232.4)"/><ellipse cx="247.3" cy="225.8" rx="1.8" ry="1.4" fill="#b2b2b2" transform="rotate(-35 247.3 225.8)"/><rect x="268.7" y="215.1" width="10.1" height="4.2" fill="#c3c3c3" transform="rotate(-35 273.7 217.2)"/><rect x="241.1" y="226.1" width="12.2" height="3.5" fill="#b1b1b1" transform="rotate(90 247.2 227.9)"/><rect x="247.7" y="200.2" width="3.5" height="3.1" fill="#b3b3b3" transform="rotate(60 249.5 201.8)"/><rect x="300.4" y="227.8" width="4" height="6.2" fill="#d5d5d5" transform="rotate(-35 302.4 230.9)"/><rect x="295.6" y="221.5" width="11" height="4.3" fill="#dedede" transform="rotate(60 301.1 223.6)"/><ellipse cx="296.9" cy="215.9" rx="2.6" ry="3.4" fill="#cdcdcd" transform="rotate(60 296.9 215.9)"/><ellipse cx="337" cy="216.6" rx="2.2" ry="3.3" fill="#d3d3d3" transform="rotate(0 337 216.6)"/><ellipse cx="328.2" cy="222.2" rx="5.6" ry="2.2" fill="#bbbbbb" transform="rotate(0 328.2 222.2)"/><rect x="6.2" y="231.7" width="6.4" height="6.8" fill="#cfcfcf" transform="rotate(0 9.4 235.1)"/><ellipse cx="20.9" cy="239.7" rx="2.1" ry="2.9" fill="#d9d9d9" transform="rotate(0 20.9 239.7)"/><rect x="63.3" y="258.6" width="8.9" height="2.6" fill="#b8b8b8" transform="rotate(0 67.8 259.9)"/><ellipse cx="54.4" cy="265.3" rx="2.7" ry="1.7" fill="#cacaca" transform="rotate(0 54.4 265.3)"/><rect x="96.2" y="252.3" width="11.1" height="4.6" fill="#b6b6b6" transform="rotate(0 101.7 254.6)"/><rect x="75.6" y="228.7" width="6.9" height="7.5" fill="#dcdcdc" transform="rotate(0 79 232.5)"/><rect x="99.7" y="255.3" width="7.8" height="2.5" fill="#b0b0b0" transform="rotate(0 103.6 256.6)"/><rect x="93.3" y="256.6" width="11.5" height="3" fill="#c4c4c4" transform="rotate(60 99.1 258.1)"/><ellipse cx="76.2" cy="243.5" rx="5.7" ry="2.6" fill="#b9b9b9" transform="rotate(-35 76.2 243.5)"/><ellipse cx="109.9" cy="258" rx="3.7" ry="2.1" fill="#b8b8b8" transform="rotate(60 109.9 258)"/><ellipse cx="133.5" cy="243" rx="1.6" ry="3" fill="#b7b7b7" transform="rotate(-35 133.5 243)"/><ellipse cx="129.1" cy="258.9" rx="4.7" ry="1.5" fill="#dddddd" transform="rotate(35 129.1 258.9)"/><rect x="102.4" y="252.3" width="5.5" height="6.4" fill="#dcdcdc" transform="rotate(-35 105.2 255.5)"/><rect x="151.2" y="262.3" width="3.1" height="4.6" fill="#c5c5c5" transform="rotate(35 152.7 264.6)"/><ellipse cx="156" cy="251.3" rx="1.8" ry="3.3" fill="#c7c7c7" transform="rotate(0 156 251.3)"/><rect x="145.7" y="247.3" width="3.5" height="6.9" fill="#cccccc" transform="rotate(-35 147.4 250.7)"/><rect x="156.8" y="234.3" width="4.5" height="5.5" fill="#c9c9c9" transform="rotate(60 159.1 237.1)"/><ellipse cx="195.2" cy="244.5" rx="3.6" ry="2.3" fill="#dadada" transform="rotate(35 195.2 244.5)"/><ellipse cx="201.8" cy="258.1" rx="5.2" ry="1.5" fill="#b3b3b3" transform="rotate(0 201.8 258.1)"/><ellipse cx="218.4" cy="239.5" rx="2.5" ry="1.4" fill="#dadada" transform="rotate(-35 218.4 239.5)"/><ellipse cx="227.6" cy="261.5" rx="2" ry="2" fill="#bebebe" transform="rotate(0 227.6 261.5)"/><rect x="209.5" y="233.6" width="4.7" height="7.1" fill="#dfdfdf" transform="rotate(60 211.9 237.2)"/><ellipse cx="241.7" cy="234.3" rx="2.1" ry="1.3" fill="#d2d2d2" transform="rotate(0 241.7 234.3)"/><rect x="250.5" y="246.5" width="5.3" height="7.8" fill="#d7d7d7" transform="rotate(60 253.2 250.4)"/><ellipse cx="252.6" cy="258.6" rx="5.2" ry="2.6" fill="#c5c5c5" transform="rotate(35 252.6 258.6)"/><rect x="273.4" y="255.3" width="4" height="5.8" fill="#c3c3c3" transform="rotate(0 275.4 258.2)"/><ellipse cx="262.1" cy="249.8" rx="3" ry="1.9" fill="#e0e0e0" transform="rotate(0 262.1 249.8)"/><ellipse cx="276.5" cy="263.6" rx="2.3" ry="2.6" fill="#bbbbbb" transform="rotate(0 276.5 263.6)"/><ellipse cx="289.8" cy="233.4" rx="5" ry="3.5" fill="#cdcdcd" transform="rotate(90 289.8 233.4)"/><ellipse cx="292.6" cy="237.3" rx="4.6" ry="2.9" fill="#b9b9b9" transform="rotate(0 292.6 237.3)"/><ellipse cx="331.6" cy="235.6" rx="3.3" ry="2.6" fill="#b7b7b7" transform="rotate(-35 331.6 235.6)"/><ellipse cx="67.2" cy="275" rx="3.7" ry="1.5" fill="#cacaca" transform="rotate(35 67.2 275)"/><ellipse cx="36.9" cy="271.5" rx="2.3" ry="2.3" fill="#c5c5c5" transform="rotate(90 36.9 271.5)"/><ellipse cx="66.7" cy="269.2" rx="3.3" ry="1.7" fill="#bbbbbb" transform="rotate(60 66.7 269.2)"/><rect x="90.6" y="270.6" width="9.3" height="5.6" fill="#cacaca" transform="rotate(60 95.3 273.4)"/><ellipse cx="84.3" cy="274.1" rx="3.2" ry="1.4" fill="#b2b2b2" transform="rotate(90 84.3 274.1)"/><ellipse cx="80.7" cy="294.6" rx="5.5" ry="3.1" fill="#c8c8c8" transform="rotate(-35 80.7 294.6)"/><rect x="95.7" y="284.3" width="8.6" height="6" fill="#b4b4b4" transform="rotate(0 100 287.3)"/><ellipse cx="75.7" cy="295.4" rx="4.5" ry="3.7" fill="#c2c2c2" transform="rotate(0 75.7 295.4)"/><rect x="110.7" y="282.3" width="8.1" height="3.3" fill="#e0e0e0" transform="rotate(60 114.8 283.9)"/><ellipse cx="127.2" cy="289.1" rx="4.7" ry="2.8" fill="#c4c4c4" transform="rotate(0 127.2 289.1)"/><ellipse cx="141.2" cy="266.9" rx="4.9" ry="2.5" fill="#d9d9d9" transform="rotate(0 141.2 266.9)"/><ellipse cx="161.6" cy="281.4" rx="2.4" ry="3.8" fill="#b1b1b1" transform="rotate(35 161.6 281.4)"/><rect x="143.8" y="286.2" width="6.2" height="5.1" fill="#d2d2d2" transform="rotate(0 146.9 288.8)"/><ellipse cx="182" cy="289.9" rx="3.3" ry="4" fill="#dedede" transform="rotate(60 182 289.9)"/><rect x="181.1" y="263.7" width="9.6" height="5.7" fill="#cdcdcd" transform="rotate(-35 185.9 266.5)"/><rect x="222.3" y="278.8" width="3.1" height="3.9" fill="#c7c7c7" transform="rotate(0 223.8 280.8)"/><ellipse cx="228.6" cy="294.5" rx="1.7" ry="2.5" fill="#b7b7b7" transform="rotate(-35 228.6 294.5)"/><rect x="274.3" y="290.8" width="7.5" height="6.4" fill="#dcdcdc" transform="rotate(0 278.1 294)"/><ellipse cx="247.1" cy="287.7" rx="2.5" ry="2.6" fill="#d5d5d5" transform="rotate(0 247.1 287.7)"/><ellipse cx="310.6" cy="287.3" rx="4.6" ry="3.1" fill="#bcbcbc" transform="rotate(0 310.6 287.3)"/><ellipse cx="296.5" cy="288.8" rx="2" ry="2" fill="#dddddd" transform="rotate(90 296.5 288.8)"/><ellipse cx="19.2" cy="305" rx="6.4" ry="3.6" fill="#cecece" transform="rotate(35 19.2 305)"/><ellipse cx="57.4" cy="300.3" rx="3.6" ry="2.5" fill="#b6b6b6" transform="rotate(90 57.4 300.3)"/><rect x="52.1" y="324.6" width="5.7" height="5.4" fill="#aeaeae" transform="rotate(0 54.9 327.4)"/><ellipse cx="88.8" cy="309.8" rx="5.9" ry="3.5" fill="#d7d7d7" transform="rotate(0 88.8 309.8)"/><ellipse cx="76" cy="306.2" rx="1.6" ry="2.6" fill="#c4c4c4" transform="rotate(35 76 306.2)"/><rect x="94.2" y="321.5" width="4.5" height="6.4" fill="#dddddd" transform="rotate(60 96.5 324.7)"/><ellipse cx="86.4" cy="310" rx="4.4" ry="1.7" fill="#c6c6c6" transform="rotate(0 86.4 310)"/><ellipse cx="107.8" cy="304.1" rx="5.9" ry="3.4" fill="#d8d8d8" transform="rotate(60 107.8 304.1)"/><rect x="128.9" y="326.5" width="6.5" height="6.8" fill="#d3d3d3" transform="rotate(-35 132.1 329.8)"/><ellipse cx="126.6" cy="303.3" rx="6.3" ry="3.3" fill="#b6b6b6" transform="rotate(0 126.6 303.3)"/><ellipse cx="170.8" cy="314" rx="5.2" ry="2.4" fill="#aeaeae" transform="rotate(0 170.8 314)"/><rect x="173.1" y="301.8" width="3.6" height="3.5" fill="#cacaca" transform="rotate(60 174.9 303.5)"/><ellipse cx="209" cy="305.7" rx="1.7" ry="3.3" fill="#e0e0e0" transform="rotate(60 209 305.7)"/><rect x="233.1" y="313.5" width="12.1" height="6.4" fill="#cccccc" transform="rotate(0 239.1 316.7)"/><ellipse cx="223.5" cy="304.6" rx="4.9" ry="2.6" fill="#aeaeae" transform="rotate(0 223.5 304.6)"/><ellipse cx="267.6" cy="318.9" rx="2.3" ry="1.8" fill="#cbcbcb" transform="rotate(0 267.6 318.9)"/><rect x="261.4" y="298.2" width="5.3" height="5.3" fill="#b2b2b2" transform="rotate(0 264 300.9)"/><rect x="251.9" y="301.4" width="4.2" height="3.3" fill="#cecece" transform="rotate(35 254 303.1)"/><ellipse cx="299.3" cy="324.6" rx="5.1" ry="3.2" fill="#c0c0c0" transform="rotate(0 299.3 324.6)"/><rect x="300.5" y="307.1" width="9.2" height="7.1" fill="#bfbfbf" transform="rotate(35 305.1 310.7)"/><rect x="203" y="212.5" width="32" height="26.5" rx="4" fill="#d1d1d1"/><ellipse cx="274.5" cy="156" rx="9.5" ry="9" fill="#b2b2b2"/><ellipse cx="101" cy="100.5" rx="12" ry="5" fill="#bfbfbf"/><ellipse cx="76" cy="96" rx="6" ry="5" fill="#bfbfbf"/><ellipse cx="196.5" cy="133.5" rx="4.5" ry="4" fill="#bfbfbf"/><circle cx="250" cy="86.5" r="4.2" fill="#d4d4d4"/><ellipse cx="98" cy="157" rx="7" ry="9" fill="#b2b2b2"/><ellipse cx="70" cy="161" rx="14" ry="3.5" fill="#b2b2b2"/><ellipse cx="255" cy="239" rx="10" ry="6" fill="#b2b2b2"/><ellipse cx="174" cy="244" rx="9" ry="5" fill="#a8a8a8"/><ellipse cx="33" cy="19" rx="9" ry="8" fill="#c2c2c2"/><ellipse cx="334" cy="84" rx="10" ry="26" fill="#c2c2c2"/><ellipse cx="296" cy="98" rx="7" ry="11" fill="#b2b2b2"/></g>
<use href="#mwhite"/>
</g>
<g fill="none" stroke="#f00" stroke-width="1.9"><circle cx="78.4" cy="149.3" r="22.6"/><circle cx="273.8" cy="154.1" r="16.3"/><circle cx="218.3" cy="223" r="20.7"/><circle cx="258.5" cy="233.5" r="19"/></g>
<text x="38.6" y="54" font-size="29.5" font-weight="bold" textLength="25.5" lengthAdjust="spacingAndGlyphs">f8</text>
<text x="33" y="301" font-size="30.5" font-weight="bold" textLength="157" lengthAdjust="spacingAndGlyphs">2019/06/14</text>
</g>
<defs><linearGradient id="cbar" x1="0" y1="0" x2="0" y2="1"><stop offset="0" stop-color="#db9248"/><stop offset="0.06" stop-color="#d9853f"/><stop offset="0.15" stop-color="#bf8c44"/><stop offset="0.22" stop-color="#d6ab58"/><stop offset="0.28" stop-color="#e6c46a"/><stop offset="0.33" stop-color="#e2bf6f"/><stop offset="0.38" stop-color="#bcc07c"/><stop offset="0.45" stop-color="#80b070"/><stop offset="0.52" stop-color="#30a060"/><stop offset="0.58" stop-color="#009058"/><stop offset="0.68" stop-color="#0a7848"/><stop offset="0.78" stop-color="#0a4a2c"/><stop offset="0.85" stop-color="#1c4022"/><stop offset="0.92" stop-color="#1a2a14"/><stop offset="1" stop-color="#050805"/></linearGradient></defs>
<rect x="1835.9" y="1207.9" width="42.2" height="222.1" fill="url(#cbar)" stroke="#000" stroke-width="2"/>
<text x="1827.1" y="1177.7" font-size="26.5" font-weight="bold" textLength="67" lengthAdjust="spacingAndGlyphs">NDVI</text>
<text x="1898.6" y="1230.9" font-size="26" font-weight="bold" textLength="15.4" lengthAdjust="spacingAndGlyphs">0</text>
<text x="1895.9" y="1423.6" font-size="26" font-weight="bold" textLength="39.9" lengthAdjust="spacingAndGlyphs">0.8</text>
<text x="1990.9" y="1226.8" font-size="26.5" textLength="85.5" lengthAdjust="spacingAndGlyphs">Sparse</text>
<text x="1966.3" y="1266.5" font-size="26.5" textLength="134.7" lengthAdjust="spacingAndGlyphs">vegetation</text>
<text x="1994.5" y="1386.5" font-size="26.5" textLength="79.6" lengthAdjust="spacingAndGlyphs">Dense</text>
<text x="1966.3" y="1425.9" font-size="26.5" textLength="134.7" lengthAdjust="spacingAndGlyphs">vegetation</text>
<path d="M2034 1283.2V1352" stroke="#000" stroke-width="1.1" fill="none"/><path d="M2029 1350.5h10l-5 10.5z" fill="#000"/>
</svg>
</body></html>
